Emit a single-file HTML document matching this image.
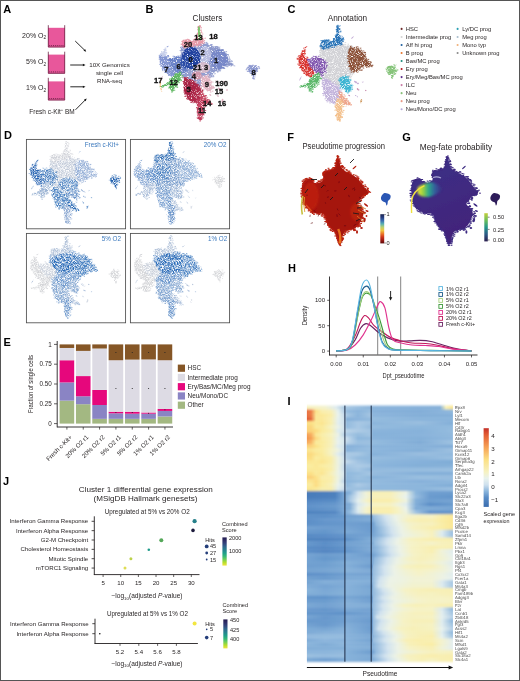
<!DOCTYPE html>
<html><head><meta charset="utf-8"><style>
html,body{margin:0;padding:0;background:#fff;}
body{width:520px;height:681px;position:relative;overflow:hidden;}
#fig{position:absolute;left:0;top:0;width:520px;height:681px;filter:blur(0.3px);}
#fig svg{display:block;}
#frame{position:absolute;left:0;top:0;width:518px;height:679px;border:1px solid #555;}
</style></head><body>
<div id="fig">
<svg width="520" height="681" viewBox="0 0 520 681" font-family="'Liberation Sans', sans-serif">
<rect x="0" y="0" width="520" height="681" fill="#fff"/>
<text x="3.30" y="12.70" font-size="11" text-anchor="start" font-weight="bold" fill="#000" >A</text>
<text x="145.50" y="13.20" font-size="11" text-anchor="start" font-weight="bold" fill="#000" >B</text>
<text x="287.60" y="13.40" font-size="11" text-anchor="start" font-weight="bold" fill="#000" >C</text>
<text x="4.00" y="138.80" font-size="11" text-anchor="start" font-weight="bold" fill="#000" >D</text>
<text x="287.20" y="140.60" font-size="11" text-anchor="start" font-weight="bold" fill="#000" >F</text>
<text x="402.20" y="141.20" font-size="11" text-anchor="start" font-weight="bold" fill="#000" >G</text>
<text x="288.00" y="271.80" font-size="11" text-anchor="start" font-weight="bold" fill="#000" >H</text>
<text x="3.60" y="345.60" font-size="11" text-anchor="start" font-weight="bold" fill="#000" >E</text>
<text x="287.50" y="405.20" font-size="11" text-anchor="start" font-weight="bold" fill="#000" >I</text>
<text x="3.00" y="484.50" font-size="11" text-anchor="start" font-weight="bold" fill="#000" >J</text>
<rect x="48" y="27.8" width="17" height="19.499999999999996" fill="#e8579b"/>
<path d="M48.3 25.2 V47.0 H64.7 V25.2" fill="none" stroke="#6b2645" stroke-width="0.8"/>
<rect x="49.20" y="45.10" width="1" height="1" fill="#7a2a50"/>
<rect x="51.10" y="45.10" width="1" height="1" fill="#7a2a50"/>
<rect x="53.00" y="45.10" width="1" height="1" fill="#7a2a50"/>
<rect x="54.90" y="45.10" width="1" height="1" fill="#7a2a50"/>
<rect x="56.80" y="45.10" width="1" height="1" fill="#7a2a50"/>
<rect x="58.70" y="45.10" width="1" height="1" fill="#7a2a50"/>
<rect x="60.60" y="45.10" width="1" height="1" fill="#7a2a50"/>
<rect x="62.50" y="45.10" width="1" height="1" fill="#7a2a50"/>
<rect x="48" y="54.6" width="17" height="18.999999999999993" fill="#e8579b"/>
<path d="M48.3 51.7 V73.3 H64.7 V51.7" fill="none" stroke="#6b2645" stroke-width="0.8"/>
<rect x="49.20" y="71.40" width="1" height="1" fill="#7a2a50"/>
<rect x="51.10" y="71.40" width="1" height="1" fill="#7a2a50"/>
<rect x="53.00" y="71.40" width="1" height="1" fill="#7a2a50"/>
<rect x="54.90" y="71.40" width="1" height="1" fill="#7a2a50"/>
<rect x="56.80" y="71.40" width="1" height="1" fill="#7a2a50"/>
<rect x="58.70" y="71.40" width="1" height="1" fill="#7a2a50"/>
<rect x="60.60" y="71.40" width="1" height="1" fill="#7a2a50"/>
<rect x="62.50" y="71.40" width="1" height="1" fill="#7a2a50"/>
<rect x="48" y="81.4" width="17" height="18.89999999999999" fill="#e8579b"/>
<path d="M48.3 77.8 V100.0 H64.7 V77.8" fill="none" stroke="#6b2645" stroke-width="0.8"/>
<rect x="49.20" y="98.10" width="1" height="1" fill="#7a2a50"/>
<rect x="51.10" y="98.10" width="1" height="1" fill="#7a2a50"/>
<rect x="53.00" y="98.10" width="1" height="1" fill="#7a2a50"/>
<rect x="54.90" y="98.10" width="1" height="1" fill="#7a2a50"/>
<rect x="56.80" y="98.10" width="1" height="1" fill="#7a2a50"/>
<rect x="58.70" y="98.10" width="1" height="1" fill="#7a2a50"/>
<rect x="60.60" y="98.10" width="1" height="1" fill="#7a2a50"/>
<rect x="62.50" y="98.10" width="1" height="1" fill="#7a2a50"/>
<text x="46.2" y="37.8" font-size="7.0" text-anchor="end" fill="#231f20">20% O<tspan font-size="4.8" dy="1.6">2</tspan></text>
<text x="46.2" y="64.2" font-size="7.0" text-anchor="end" fill="#231f20">5% O<tspan font-size="4.8" dy="1.6">2</tspan></text>
<text x="46.2" y="90.4" font-size="7.0" text-anchor="end" fill="#231f20">1% O<tspan font-size="4.8" dy="1.6">2</tspan></text>
<line x1="75.20" y1="41.00" x2="84.71" y2="50.25" stroke="#111" stroke-width="0.9"/>
<path d="M86.20 51.70 L85.15 49.05 L83.52 50.73Z" fill="#111"/>
<line x1="70.20" y1="65.00" x2="83.42" y2="65.00" stroke="#111" stroke-width="0.9"/>
<path d="M85.50 65.00 L82.90 63.83 L82.90 66.17Z" fill="#111"/>
<line x1="70.30" y1="86.80" x2="83.42" y2="86.80" stroke="#111" stroke-width="0.9"/>
<path d="M85.50 86.80 L82.90 85.63 L82.90 87.97Z" fill="#111"/>
<line x1="75.50" y1="109.80" x2="85.24" y2="99.98" stroke="#111" stroke-width="0.9"/>
<path d="M86.70 98.50 L84.04 99.52 L85.70 101.17Z" fill="#111"/>
<text x="109.50" y="67.20" font-size="6.2" text-anchor="middle" font-weight="normal" fill="#231f20" >10X Genomics</text>
<text x="109.50" y="74.90" font-size="6.2" text-anchor="middle" font-weight="normal" fill="#231f20" >single cell</text>
<text x="109.50" y="82.60" font-size="6.2" text-anchor="middle" font-weight="normal" fill="#231f20" >RNA-seq</text>
<text x="29.3" y="113.8" font-size="6.5" fill="#231f20">Fresh c-Kit<tspan font-size="4.2" dy="-2.5">+</tspan><tspan dy="2.5"> BM</tspan></text>
<text x="192.60" y="21.00" font-size="8.4" text-anchor="start" font-weight="normal" fill="#231f20" textLength="29.8" lengthAdjust="spacingAndGlyphs" >Clusters</text>
<text x="327.80" y="21.00" font-size="8.4" text-anchor="start" font-weight="normal" fill="#231f20" textLength="39.4" lengthAdjust="spacingAndGlyphs" >Annotation</text>
<text x="302.50" y="148.80" font-size="8.3" text-anchor="start" font-weight="normal" fill="#231f20" textLength="82.5" lengthAdjust="spacingAndGlyphs" >Pseudotime progression</text>
<text x="419.80" y="149.70" font-size="8.4" text-anchor="start" font-weight="normal" fill="#231f20" textLength="72.3" lengthAdjust="spacingAndGlyphs" >Meg-fate probability</text>
<defs><filter id="ublur" x="-10%" y="-10%" width="120%" height="120%">
<feTurbulence type="fractalNoise" baseFrequency="1.1" numOctaves="2" seed="4" result="n"/>
<feColorMatrix in="n" type="matrix" values="0 0 0 0 0  0 0 0 0 0  0 0 0 0 0  0 0 0 3.4 -0.75" result="na"/>
<feComposite in="SourceGraphic" in2="na" operator="in" result="sp"/>
<feGaussianBlur in="sp" stdDeviation="0.3"/>
</filter>
<filter id="usparse" x="-10%" y="-10%" width="120%" height="120%">
<feTurbulence type="fractalNoise" baseFrequency="1.25" numOctaves="2" seed="11" result="n"/>
<feColorMatrix in="n" type="matrix" values="0 0 0 0 0  0 0 0 0 0  0 0 0 0 0  0 0 0 2.4 -0.6" result="na"/>
<feComposite in="SourceGraphic" in2="na" operator="in" result="sp"/>
<feGaussianBlur in="sp" stdDeviation="0.28"/>
</filter>
<filter id="umid" x="-10%" y="-10%" width="120%" height="120%">
<feTurbulence type="fractalNoise" baseFrequency="1.2" numOctaves="2" seed="5" result="n"/>
<feColorMatrix in="n" type="matrix" values="0 0 0 0 0  0 0 0 0 0  0 0 0 0 0  0 0 0 4.5 -1.0" result="na"/>
<feComposite in="SourceGraphic" in2="na" operator="in" result="sp"/>
<feGaussianBlur in="sp" stdDeviation="0.3"/>
</filter>
<filter id="udense" x="-10%" y="-10%" width="120%" height="120%"><feGaussianBlur stdDeviation="0.35"/></filter></defs>
<g filter="url(#ublur)">
<path d="M322.00 45.50 C323.83 44.58 328.33 44.83 331.00 44.50 C333.67 44.17 335.67 43.50 338.00 43.50 C340.33 43.50 342.83 43.92 345.00 44.50 C347.17 45.08 349.50 45.75 351.00 47.00 C352.50 48.25 353.67 49.83 354.00 52.00 C354.33 54.17 353.17 57.33 353.00 60.00 C352.83 62.67 353.17 65.67 353.00 68.00 C352.83 70.33 352.67 72.33 352.00 74.00 C351.33 75.67 350.00 77.00 349.00 78.00 C348.00 79.00 347.17 79.00 346.00 80.00 C344.83 81.00 343.33 82.83 342.00 84.00 C340.67 85.17 339.50 86.67 338.00 87.00 C336.50 87.33 334.67 86.67 333.00 86.00 C331.33 85.33 329.58 83.92 328.00 83.00 C326.42 82.08 324.67 81.83 323.50 80.50 C322.33 79.17 321.42 77.42 321.00 75.00 C320.58 72.58 321.17 68.83 321.00 66.00 C320.83 63.17 320.17 60.67 320.00 58.00 C319.83 55.33 319.67 52.08 320.00 50.00 C320.33 47.92 320.17 46.42 322.00 45.50Z" fill="#d2d2d6"/>
<path d="M326.5 44.4h0.9M324.4 44.3h0.9M325.3 45.2h0.9M329.9 43.6h0.9M326.3 45.3h0.9M323.7 44.4h0.9M327.3 43.6h0.9M328.4 44.6h0.9M322.0 45.3h0.9M329.0 42.8h0.9M325.2 45.8h0.9M335.4 44.5h0.9M333.8 44.2h0.9M335.9 43.0h0.9M337.4 43.3h0.9M337.6 44.4h0.9M336.9 43.7h0.9M335.6 42.8h0.9M335.9 44.3h0.9M342.0 43.6h0.9M339.6 43.9h0.9M344.9 42.6h0.9M342.0 44.1h0.9M341.1 44.3h0.9M341.6 42.8h0.9M342.8 43.3h0.9M338.8 43.6h0.9M346.1 45.5h0.9M345.3 44.9h0.9M350.4 45.8h0.9M347.4 46.1h0.9M349.7 45.7h0.9M347.7 44.2h0.9M350.4 46.7h0.9M349.7 46.4h0.9M351.7 47.0h0.9M352.1 49.9h0.9M352.4 49.6h0.9M351.1 47.5h0.9M351.9 46.3h0.9M352.5 49.4h0.9M352.6 48.1h0.9M354.6 55.9h0.9M353.5 56.3h0.9M354.1 54.9h0.9M352.0 59.3h0.9M354.1 53.0h0.9M353.5 60.2h0.9M354.0 56.3h0.9M354.0 55.4h0.9M353.6 52.8h0.9M353.2 57.8h0.9M354.5 62.5h0.9M355.0 63.7h0.9M352.6 64.9h0.9M352.4 64.7h0.9M354.0 65.1h0.9M352.3 59.8h0.9M353.0 62.0h0.9M353.1 62.0h0.9M352.9 61.2h0.9M352.6 65.5h0.9M352.5 74.3h0.9M353.2 73.1h0.9M352.0 70.4h0.9M351.8 72.9h0.9M353.1 69.1h0.9M352.6 70.5h0.9M353.1 73.9h0.9M348.6 76.8h0.9M351.5 74.9h0.9M350.2 77.9h0.9M351.0 76.3h0.9M349.6 77.0h0.9M350.8 74.6h0.9M348.7 79.8h0.9M346.1 79.2h0.9M347.2 81.0h0.9M348.3 79.3h0.9M345.6 82.4h0.9M342.1 85.1h0.9M344.7 82.9h0.9M346.2 81.4h0.9M344.3 83.8h0.9M341.6 83.3h0.9M344.9 80.0h0.9M340.4 85.1h0.9M338.9 85.9h0.9M340.8 84.3h0.9M341.7 85.6h0.9M341.6 83.6h0.9M342.2 84.9h0.9M335.3 86.7h0.9M334.4 87.6h0.9M332.9 85.4h0.9M335.6 87.6h0.9M336.0 87.3h0.9M336.6 86.7h0.9M331.5 86.9h0.9M331.3 86.6h0.9M329.3 84.2h0.9M328.8 82.6h0.9M330.4 84.4h0.9M333.2 85.5h0.9M332.7 84.8h0.9M323.0 80.8h0.9M324.7 82.4h0.9M325.3 81.6h0.9M325.3 82.2h0.9M328.5 82.4h0.9M323.7 80.4h0.9M321.4 79.8h0.9M321.9 76.1h0.9M321.0 75.9h0.9M323.3 78.3h0.9M321.6 77.2h0.9M321.3 79.0h0.9M322.8 79.6h0.9M321.3 67.9h0.9M321.2 71.0h0.9M321.1 68.4h0.9M322.1 65.6h0.9M321.1 70.9h0.9M320.9 72.6h0.9M321.5 70.7h0.9M319.2 70.3h0.9M320.1 72.3h0.9M321.1 68.0h0.9M320.1 70.6h0.9M321.5 65.5h0.9M319.4 63.1h0.9M319.2 64.8h0.9M321.2 61.9h0.9M321.7 64.9h0.9M319.2 62.8h0.9M319.9 62.8h0.9M319.8 64.7h0.9M320.0 63.8h0.9M320.9 63.9h0.9M320.6 56.7h0.9M319.9 56.0h0.9M319.4 54.1h0.9M320.1 51.1h0.9M320.4 55.7h0.9M321.0 53.7h0.9M320.0 57.7h0.9M319.8 52.4h0.9M319.8 53.9h0.9M319.4 50.7h0.9M321.0 45.9h0.9M321.7 47.4h0.9M321.7 46.7h0.9M320.0 47.6h0.9M320.7 46.6h0.9M320.7 50.0h0.9" stroke="#d2d2d6" stroke-width="0.9" stroke-linecap="round"/>
<path d="M321.90 41.20 C322.77 40.33 324.48 39.73 326.00 39.80 C327.52 39.87 329.58 41.82 331.00 41.60 C332.42 41.38 333.57 39.93 334.50 38.50 C335.43 37.07 336.28 34.83 336.60 33.00 C336.92 31.17 336.23 28.63 336.40 27.50 C336.57 26.37 337.20 26.20 337.60 26.20 C338.00 26.20 338.57 26.37 338.80 27.50 C339.03 28.63 338.80 31.45 339.00 33.00 C339.20 34.55 339.47 35.83 340.00 36.80 C340.53 37.77 341.90 37.73 342.20 38.80 C342.50 39.87 342.67 42.07 341.80 43.20 C340.93 44.33 338.80 45.10 337.00 45.60 C335.20 46.10 332.83 45.77 331.00 46.20 C329.17 46.63 327.42 47.83 326.00 48.20 C324.58 48.57 323.37 48.93 322.50 48.40 C321.63 47.87 320.90 46.20 320.80 45.00 C320.70 43.80 321.03 42.07 321.90 41.20Z" fill="#2a74b8"/>
<path d="M324.6 40.2h0.9M323.2 40.3h0.9M321.3 41.6h0.9M320.7 40.9h0.9M322.7 41.1h0.9M330.4 42.0h0.9M327.1 40.6h0.9M328.1 40.7h0.9M325.9 39.8h0.9M328.9 40.3h0.9M327.9 39.9h0.9M333.3 38.5h0.9M334.4 38.7h0.9M333.7 39.4h0.9M333.4 39.8h0.9M332.0 41.6h0.9M336.1 34.5h0.9M335.9 35.3h0.9M337.0 34.1h0.9M337.1 31.9h0.9M335.4 37.3h0.9M334.8 36.2h0.9M335.3 36.4h0.9M337.0 31.6h0.9M336.8 31.3h0.9M336.9 28.5h0.9M336.4 26.3h0.9M336.1 29.7h0.9M337.0 29.5h0.9M336.5 26.1h0.9M337.5 25.3h0.9M339.7 26.0h0.9M338.4 26.3h0.9M338.7 32.5h0.9M339.7 32.1h0.9M340.2 31.2h0.9M338.9 29.4h0.9M338.8 29.5h0.9M339.4 28.7h0.9M341.3 36.3h0.9M339.2 37.2h0.9M339.5 35.6h0.9M339.9 32.4h0.9M342.8 37.9h0.9M340.7 36.7h0.9M342.7 38.5h0.9M343.1 39.8h0.9M342.5 41.6h0.9M342.1 40.8h0.9M342.5 39.4h0.9M342.3 39.0h0.9M337.9 45.0h0.9M341.1 44.1h0.9M340.9 44.6h0.9M340.0 45.0h0.9M341.7 43.7h0.9M339.4 44.2h0.9M335.5 45.6h0.9M334.0 47.3h0.9M335.9 45.1h0.9M331.7 47.4h0.9M332.5 45.6h0.9M333.2 46.1h0.9M335.3 45.8h0.9M327.5 47.6h0.9M330.2 46.6h0.9M326.1 49.0h0.9M328.0 48.1h0.9M330.3 45.6h0.9M328.8 47.8h0.9M322.8 48.2h0.9M325.5 47.9h0.9M323.0 49.3h0.9M323.7 48.2h0.9M319.7 46.4h0.9M321.1 48.0h0.9M322.5 48.1h0.9M320.0 45.6h0.9M321.9 42.6h0.9M320.7 43.9h0.9M321.0 44.4h0.9M321.9 40.8h0.9" stroke="#2a74b8" stroke-width="0.9" stroke-linecap="round"/>
<path d="M349.20 48.60 C350.00 47.52 351.70 47.57 353.00 47.50 C354.30 47.43 355.67 47.70 357.00 48.20 C358.33 48.70 359.83 49.53 361.00 50.50 C362.17 51.47 363.00 52.50 364.00 54.00 C365.00 55.50 366.08 58.08 367.00 59.50 C367.92 60.92 368.75 61.45 369.50 62.50 C370.25 63.55 371.92 65.22 371.50 65.80 C371.08 66.38 368.42 65.87 367.00 66.00 C365.58 66.13 364.25 66.02 363.00 66.60 C361.75 67.18 360.67 68.68 359.50 69.50 C358.33 70.32 357.25 71.25 356.00 71.50 C354.75 71.75 353.08 71.75 352.00 71.00 C350.92 70.25 350.08 68.67 349.50 67.00 C348.92 65.33 348.72 63.17 348.50 61.00 C348.28 58.83 348.08 56.07 348.20 54.00 C348.32 51.93 348.40 49.68 349.20 48.60Z" fill="#8c5138"/>
<path d="M350.6 47.9h0.9M350.7 46.8h0.9M350.2 46.9h0.9M350.5 46.3h0.9M356.1 47.9h0.9M356.8 47.4h0.9M355.8 47.0h0.9M353.4 47.5h0.9M354.2 47.8h0.9M357.7 48.3h0.9M360.1 48.2h0.9M360.4 51.0h0.9M360.6 50.2h0.9M357.4 46.9h0.9M364.1 52.4h0.9M362.9 50.9h0.9M361.1 51.4h0.9M363.8 52.3h0.9M364.5 52.8h0.9M364.1 55.7h0.9M365.4 56.9h0.9M365.8 58.9h0.9M367.9 59.4h0.9M364.4 56.1h0.9M364.7 52.8h0.9M364.9 54.4h0.9M368.8 61.7h0.9M370.0 61.6h0.9M367.6 61.3h0.9M366.4 59.1h0.9M370.2 63.9h0.9M372.1 65.2h0.9M370.5 62.6h0.9M371.4 65.6h0.9M371.6 66.7h0.9M369.9 65.8h0.9M368.2 66.0h0.9M368.6 66.8h0.9M370.9 66.1h0.9M365.5 66.2h0.9M365.8 65.9h0.9M366.4 67.3h0.9M367.5 67.1h0.9M368.0 66.7h0.9M361.1 70.0h0.9M362.1 67.2h0.9M361.2 70.0h0.9M362.9 68.2h0.9M359.4 70.2h0.9M358.8 68.6h0.9M357.0 72.2h0.9M356.8 71.2h0.9M357.1 71.4h0.9M355.8 71.3h0.9M353.2 71.1h0.9M353.5 72.2h0.9M353.9 71.3h0.9M354.3 70.7h0.9M356.3 71.2h0.9M351.1 70.7h0.9M350.7 66.7h0.9M350.9 69.0h0.9M351.1 72.1h0.9M349.7 69.1h0.9M348.6 66.3h0.9M347.8 61.8h0.9M348.0 62.9h0.9M348.4 61.7h0.9M349.0 66.5h0.9M349.5 63.9h0.9M348.9 61.7h0.9M347.8 55.6h0.9M347.8 55.2h0.9M347.6 56.7h0.9M348.5 58.8h0.9M348.8 57.7h0.9M349.1 58.0h0.9M348.7 55.5h0.9M347.2 58.5h0.9M348.9 53.4h0.9M349.0 52.2h0.9M348.2 52.0h0.9M349.5 49.3h0.9M349.2 49.6h0.9M348.3 52.4h0.9" stroke="#8c5138" stroke-width="0.9" stroke-linecap="round"/>
<path d="M302.60 51.20 C303.27 50.47 304.37 49.37 304.60 49.60 C304.83 49.83 303.97 51.62 304.00 52.60 C304.03 53.58 304.22 54.27 304.80 55.50 C305.38 56.73 306.38 58.25 307.50 60.00 C308.62 61.75 310.25 64.25 311.50 66.00 C312.75 67.75 314.67 69.00 315.00 70.50 C315.33 72.00 314.08 73.92 313.50 75.00 C312.92 76.08 312.67 77.08 311.50 77.00 C310.33 76.92 308.08 75.75 306.50 74.50 C304.92 73.25 303.28 71.42 302.00 69.50 C300.72 67.58 299.37 65.08 298.80 63.00 C298.23 60.92 298.30 58.50 298.60 57.00 C298.90 55.50 299.93 54.97 300.60 54.00 C301.27 53.03 301.93 51.93 302.60 51.20Z" fill="#d8322e"/>
<path d="M304.3 49.1h0.9M303.7 48.2h0.9M302.9 50.9h0.9M304.2 51.4h0.9M304.1 50.7h0.9M304.8 50.2h0.9M303.8 52.2h0.9M304.7 53.8h0.9M304.2 53.2h0.9M307.7 59.4h0.9M307.1 57.8h0.9M306.7 59.7h0.9M307.4 59.9h0.9M306.0 58.5h0.9M306.5 57.2h0.9M310.2 64.6h0.9M310.4 64.6h0.9M308.7 63.0h0.9M311.9 65.3h0.9M310.8 64.2h0.9M308.7 63.2h0.9M308.5 63.0h0.9M310.4 64.2h0.9M308.8 62.2h0.9M314.1 69.0h0.9M312.7 66.4h0.9M313.7 68.6h0.9M314.5 69.3h0.9M310.9 66.1h0.9M313.2 68.9h0.9M312.6 66.7h0.9M314.6 72.2h0.9M315.6 72.1h0.9M314.9 74.8h0.9M315.3 74.4h0.9M314.1 72.1h0.9M311.7 76.8h0.9M313.6 76.3h0.9M312.0 77.0h0.9M308.2 75.8h0.9M309.2 76.0h0.9M308.4 74.5h0.9M310.8 76.3h0.9M310.1 76.9h0.9M310.9 76.6h0.9M303.8 72.8h0.9M305.6 74.4h0.9M304.4 71.3h0.9M305.7 74.0h0.9M303.0 71.1h0.9M306.2 75.6h0.9M303.8 73.5h0.9M302.0 70.6h0.9M299.6 67.8h0.9M298.7 65.3h0.9M301.5 68.1h0.9M301.7 70.2h0.9M297.7 64.1h0.9M300.2 67.0h0.9M300.1 67.2h0.9M301.5 69.3h0.9M300.1 67.3h0.9M297.6 59.0h0.9M297.0 59.0h0.9M299.5 62.7h0.9M298.9 60.0h0.9M299.3 57.7h0.9M298.1 56.9h0.9M297.2 58.2h0.9M300.4 56.5h0.9M298.5 55.9h0.9M300.2 56.6h0.9M300.5 54.2h0.9M301.8 51.9h0.9M302.2 51.7h0.9M302.1 51.1h0.9M301.7 51.2h0.9" stroke="#d8322e" stroke-width="0.9" stroke-linecap="round"/>
<path d="M308.00 60.00 C308.17 58.62 310.67 58.60 312.00 58.20 C313.33 57.80 314.50 57.55 316.00 57.60 C317.50 57.65 319.47 57.85 321.00 58.50 C322.53 59.15 324.37 60.25 325.20 61.50 C326.03 62.75 326.03 64.42 326.00 66.00 C325.97 67.58 325.75 69.58 325.00 71.00 C324.25 72.42 322.67 73.87 321.50 74.50 C320.33 75.13 319.17 75.35 318.00 74.80 C316.83 74.25 315.67 72.58 314.50 71.20 C313.33 69.82 312.08 68.37 311.00 66.50 C309.92 64.63 307.83 61.38 308.00 60.00Z" fill="#8258b0"/>
<path d="M307.5 59.3h0.9M311.8 57.7h0.9M308.0 59.5h0.9M309.2 59.6h0.9M310.1 59.6h0.9M315.9 58.0h0.9M314.7 57.9h0.9M315.7 57.9h0.9M314.8 56.6h0.9M313.1 56.3h0.9M319.5 58.6h0.9M316.6 58.6h0.9M316.3 56.5h0.9M317.5 58.9h0.9M318.2 56.3h0.9M315.9 56.4h0.9M322.6 59.9h0.9M324.9 61.1h0.9M321.0 58.8h0.9M323.7 59.6h0.9M324.0 61.0h0.9M324.0 60.5h0.9M325.9 65.8h0.9M324.8 62.8h0.9M326.7 62.8h0.9M325.3 62.7h0.9M326.5 65.3h0.9M325.5 66.8h0.9M325.2 67.9h0.9M325.6 66.1h0.9M325.2 67.3h0.9M325.6 71.0h0.9M324.4 70.6h0.9M325.2 72.3h0.9M322.5 75.4h0.9M323.6 72.3h0.9M324.4 71.4h0.9M322.2 74.8h0.9M325.6 72.6h0.9M321.1 76.0h0.9M320.4 74.8h0.9M321.0 74.2h0.9M320.9 74.2h0.9M315.5 74.5h0.9M316.1 71.8h0.9M316.5 73.7h0.9M315.8 71.5h0.9M315.8 74.6h0.9M316.5 74.2h0.9M310.5 66.7h0.9M312.1 66.9h0.9M311.0 68.1h0.9M312.2 69.1h0.9M312.1 67.7h0.9M314.1 71.6h0.9M313.6 70.5h0.9M309.3 63.9h0.9M307.5 60.5h0.9M308.1 63.0h0.9M309.2 64.8h0.9M310.8 66.0h0.9M309.9 66.1h0.9M309.8 66.3h0.9M307.1 59.4h0.9" stroke="#8258b0" stroke-width="0.9" stroke-linecap="round"/>
<path d="M310.20 78.60 C311.13 77.52 312.67 76.40 314.00 75.50 C315.33 74.60 317.20 73.03 318.20 73.20 C319.20 73.37 319.87 75.37 320.00 76.50 C320.13 77.63 319.58 78.75 319.00 80.00 C318.42 81.25 317.42 82.67 316.50 84.00 C315.58 85.33 314.48 86.77 313.50 88.00 C312.52 89.23 311.43 91.32 310.60 91.40 C309.77 91.48 308.90 89.65 308.50 88.50 C308.10 87.35 308.62 84.92 308.20 84.50 C307.78 84.08 307.28 85.58 306.00 86.00 C304.72 86.42 301.57 86.92 300.50 87.00 C299.43 87.08 298.85 86.80 299.60 86.50 C300.35 86.20 303.53 85.95 305.00 85.20 C306.47 84.45 307.53 83.10 308.40 82.00 C309.27 80.90 309.27 79.68 310.20 78.60Z" fill="#5cb86a"/>
<path d="M312.7 77.4h0.9M312.4 76.0h0.9M310.6 77.7h0.9M313.6 75.5h0.9M310.1 79.5h0.9M312.7 76.1h0.9M317.8 73.5h0.9M317.7 73.3h0.9M315.9 74.6h0.9M314.7 74.7h0.9M317.9 72.9h0.9M317.9 74.1h0.9M319.3 74.2h0.9M317.8 73.9h0.9M318.8 73.9h0.9M319.9 78.5h0.9M320.1 78.8h0.9M320.7 78.4h0.9M320.0 77.7h0.9M316.3 83.2h0.9M319.0 80.8h0.9M318.2 82.9h0.9M317.8 82.9h0.9M318.3 82.1h0.9M316.7 85.2h0.9M315.9 85.8h0.9M314.2 87.5h0.9M317.5 84.6h0.9M315.8 87.0h0.9M318.2 84.3h0.9M311.9 91.4h0.9M312.6 89.1h0.9M311.8 91.9h0.9M312.0 88.5h0.9M311.2 92.2h0.9M309.1 89.3h0.9M309.5 90.8h0.9M308.9 90.9h0.9M310.8 91.5h0.9M308.0 88.2h0.9M308.4 86.5h0.9M307.6 85.2h0.9M308.6 87.1h0.9M307.7 87.4h0.9M306.3 85.7h0.9M306.3 85.3h0.9M307.6 84.8h0.9M301.5 86.8h0.9M303.5 86.3h0.9M303.8 86.0h0.9M305.2 86.2h0.9M300.1 87.3h0.9M304.6 87.0h0.9M300.6 86.2h0.9M300.9 86.1h0.9M303.9 86.0h0.9M301.0 85.9h0.9M304.0 86.0h0.9M302.8 85.4h0.9M302.4 86.4h0.9M306.2 84.4h0.9M306.6 83.6h0.9M306.2 84.0h0.9M305.7 84.5h0.9M304.3 84.2h0.9M310.1 77.7h0.9M309.5 80.0h0.9M309.1 81.0h0.9M309.5 80.2h0.9" stroke="#5cb86a" stroke-width="0.9" stroke-linecap="round"/>
<path d="M323.20 78.60 C323.98 77.63 326.03 79.55 327.50 80.20 C328.97 80.85 330.58 81.70 332.00 82.50 C333.42 83.30 334.75 83.83 336.00 85.00 C337.25 86.17 338.80 88.00 339.50 89.50 C340.20 91.00 340.20 92.42 340.20 94.00 C340.20 95.58 340.03 97.58 339.50 99.00 C338.97 100.42 338.08 101.87 337.00 102.50 C335.92 103.13 334.33 102.95 333.00 102.80 C331.67 102.65 330.17 102.33 329.00 101.60 C327.83 100.87 326.80 99.75 326.00 98.40 C325.20 97.05 324.73 95.57 324.20 93.50 C323.67 91.43 322.97 88.48 322.80 86.00 C322.63 83.52 322.42 79.57 323.20 78.60Z" fill="#c3b4dc"/>
<path d="M326.8 79.9h0.9M325.8 78.7h0.9M323.0 77.9h0.9M324.4 79.4h0.9M326.8 80.1h0.9M328.3 80.3h0.9M329.6 82.0h0.9M329.2 81.2h0.9M329.5 81.8h0.9M330.1 81.4h0.9M327.1 79.1h0.9M333.8 82.0h0.9M334.8 84.5h0.9M335.1 82.2h0.9M335.2 85.3h0.9M333.6 84.6h0.9M340.2 87.8h0.9M338.5 87.5h0.9M336.0 85.0h0.9M338.8 87.8h0.9M338.0 85.5h0.9M339.2 88.9h0.9M338.2 86.5h0.9M340.2 91.1h0.9M341.3 92.3h0.9M340.4 92.8h0.9M339.4 92.4h0.9M340.9 90.0h0.9M339.9 95.8h0.9M340.8 96.0h0.9M339.2 97.5h0.9M339.5 96.1h0.9M340.3 98.9h0.9M340.9 97.9h0.9M338.3 99.9h0.9M338.2 99.6h0.9M339.0 101.4h0.9M338.6 99.4h0.9M337.9 101.1h0.9M334.2 103.9h0.9M334.9 102.3h0.9M333.5 102.7h0.9M334.0 103.1h0.9M336.0 103.7h0.9M332.8 103.2h0.9M331.8 101.7h0.9M330.7 101.4h0.9M331.4 102.5h0.9M329.6 102.9h0.9M326.6 99.9h0.9M326.1 100.5h0.9M327.9 100.0h0.9M327.0 101.8h0.9M327.4 98.5h0.9M324.1 95.9h0.9M324.5 93.7h0.9M325.9 95.7h0.9M323.4 94.7h0.9M324.8 98.8h0.9M323.1 95.6h0.9M323.5 91.8h0.9M322.4 93.6h0.9M323.6 93.4h0.9M323.4 93.5h0.9M322.0 86.5h0.9M323.1 89.0h0.9M323.8 88.3h0.9M322.8 86.0h0.9M323.4 89.2h0.9M322.2 83.7h0.9M322.1 77.6h0.9M322.7 81.7h0.9M322.1 83.9h0.9M321.8 80.4h0.9M322.7 80.9h0.9M323.1 84.8h0.9M323.1 82.8h0.9M322.0 82.2h0.9" stroke="#c3b4dc" stroke-width="0.9" stroke-linecap="round"/>
<path d="M340.00 78.80 C340.53 77.88 342.00 77.40 343.00 77.00 C344.00 76.60 345.08 76.07 346.00 76.40 C346.92 76.73 347.83 77.90 348.50 79.00 C349.17 80.10 349.58 81.58 350.00 83.00 C350.42 84.42 350.92 86.20 351.00 87.50 C351.08 88.80 351.17 90.15 350.50 90.80 C349.83 91.45 348.08 91.62 347.00 91.40 C345.92 91.18 345.00 90.32 344.00 89.50 C343.00 88.68 341.70 87.67 341.00 86.50 C340.30 85.33 339.97 83.78 339.80 82.50 C339.63 81.22 339.47 79.72 340.00 78.80Z" fill="#3cb4d2"/>
<path d="M342.4 77.3h0.9M340.1 79.2h0.9M339.3 78.2h0.9M340.6 77.5h0.9M345.6 76.4h0.9M342.6 76.6h0.9M345.7 75.3h0.9M346.6 77.0h0.9M347.0 78.3h0.9M347.6 78.0h0.9M348.0 76.7h0.9M348.2 79.9h0.9M350.0 80.2h0.9M348.9 82.0h0.9M350.0 79.9h0.9M349.4 82.2h0.9M351.6 85.9h0.9M351.2 85.5h0.9M351.2 83.9h0.9M350.7 85.9h0.9M352.0 85.4h0.9M351.3 87.8h0.9M350.7 91.4h0.9M351.6 89.7h0.9M351.8 89.1h0.9M347.4 92.9h0.9M348.4 91.2h0.9M348.3 91.8h0.9M347.1 91.6h0.9M346.2 91.8h0.9M345.5 91.3h0.9M346.3 91.7h0.9M345.0 91.1h0.9M341.9 88.7h0.9M339.8 88.0h0.9M342.6 87.6h0.9M344.2 89.2h0.9M344.6 88.7h0.9M340.3 83.6h0.9M340.2 84.5h0.9M340.4 83.8h0.9M341.2 84.5h0.9M340.7 86.9h0.9M340.0 81.4h0.9M339.1 80.3h0.9M341.0 82.6h0.9M338.5 80.1h0.9" stroke="#3cb4d2" stroke-width="0.9" stroke-linecap="round"/>
<path d="M339.60 92.60 C340.23 92.43 341.93 94.35 343.00 95.50 C344.07 96.65 344.73 98.00 346.00 99.50 C347.27 101.00 350.43 103.65 350.60 104.50 C350.77 105.35 348.17 104.75 347.00 104.60 C345.83 104.45 344.68 104.28 343.60 103.60 C342.52 102.92 341.23 101.68 340.50 100.50 C339.77 99.32 339.35 97.82 339.20 96.50 C339.05 95.18 338.97 92.77 339.60 92.60Z" fill="#eea58c"/>
<path d="M341.5 92.6h0.9M340.9 94.2h0.9M341.8 93.0h0.9M339.0 91.2h0.9M342.7 94.8h0.9M343.5 94.7h0.9M344.6 96.0h0.9M345.8 99.0h0.9M346.4 98.7h0.9M344.3 98.5h0.9M344.9 99.1h0.9M347.5 100.6h0.9M350.5 105.0h0.9M346.5 100.1h0.9M349.3 102.6h0.9M348.8 102.6h0.9M349.7 103.8h0.9M348.0 101.7h0.9M349.7 103.2h0.9M349.6 103.8h0.9M348.3 105.0h0.9M349.2 104.3h0.9M350.6 104.5h0.9M344.3 104.3h0.9M346.1 104.3h0.9M345.4 105.9h0.9M344.9 103.7h0.9M340.5 100.8h0.9M343.0 104.4h0.9M340.8 101.5h0.9M341.2 103.5h0.9M341.3 102.0h0.9M340.1 98.9h0.9M339.2 96.8h0.9M340.5 98.7h0.9M338.9 100.3h0.9M340.4 98.2h0.9M337.8 95.3h0.9M339.3 92.2h0.9M339.1 95.5h0.9M338.9 92.6h0.9" stroke="#eea58c" stroke-width="0.9" stroke-linecap="round"/>
<path d="M336.50 100.50 C337.12 99.00 338.58 99.17 339.50 99.50 C340.42 99.83 341.50 101.32 342.00 102.50 C342.50 103.68 342.53 105.27 342.50 106.60 C342.47 107.93 341.95 109.18 341.80 110.50 C341.65 111.82 341.80 113.17 341.60 114.50 C341.40 115.83 340.93 117.48 340.60 118.50 C340.27 119.52 340.13 120.42 339.60 120.60 C339.07 120.78 337.97 120.37 337.40 119.60 C336.83 118.83 336.37 117.27 336.20 116.00 C336.03 114.73 336.47 113.25 336.40 112.00 C336.33 110.75 335.78 110.42 335.80 108.50 C335.82 106.58 335.88 102.00 336.50 100.50Z" fill="#f3c08c"/>
<path d="M336.9 99.1h0.9M337.1 98.5h0.9M338.4 99.3h0.9M341.0 101.0h0.9M341.4 99.6h0.9M340.9 101.5h0.9M340.3 100.3h0.9M343.1 106.4h0.9M342.7 101.8h0.9M342.3 103.3h0.9M342.8 104.3h0.9M342.2 103.5h0.9M341.2 110.0h0.9M342.8 107.0h0.9M341.2 110.5h0.9M343.2 110.4h0.9M342.5 112.2h0.9M341.7 111.4h0.9M341.8 112.1h0.9M342.1 114.4h0.9M341.9 111.5h0.9M341.6 117.3h0.9M341.3 117.4h0.9M340.7 117.8h0.9M341.3 117.3h0.9M341.4 116.7h0.9M339.6 120.0h0.9M339.6 121.0h0.9M339.4 119.7h0.9M339.2 121.1h0.9M339.3 120.5h0.9M337.2 120.1h0.9M336.6 115.6h0.9M337.0 118.9h0.9M337.1 119.9h0.9M335.1 115.5h0.9M336.2 116.0h0.9M335.9 116.1h0.9M336.3 114.5h0.9M336.2 115.3h0.9M334.7 110.1h0.9M336.3 112.0h0.9M336.4 110.7h0.9M336.1 109.7h0.9M336.3 101.5h0.9M336.6 102.8h0.9M336.5 101.4h0.9M334.8 105.7h0.9M335.6 107.5h0.9M335.6 104.1h0.9M334.8 106.5h0.9M336.5 102.6h0.9M335.1 107.0h0.9M335.6 102.3h0.9" stroke="#f3c08c" stroke-width="0.9" stroke-linecap="round"/>
<path d="M387.00 67.60 C387.57 66.70 388.92 66.02 390.00 65.80 C391.08 65.58 392.47 65.90 393.50 66.30 C394.53 66.70 395.85 67.33 396.20 68.20 C396.55 69.07 396.00 70.62 395.60 71.50 C395.20 72.38 394.25 72.67 393.80 73.50 C393.35 74.33 393.18 75.65 392.90 76.50 C392.62 77.35 392.38 78.82 392.10 78.60 C391.82 78.38 391.72 76.03 391.20 75.20 C390.68 74.37 389.77 74.27 389.00 73.60 C388.23 72.93 386.93 72.20 386.60 71.20 C386.27 70.20 386.43 68.50 387.00 67.60Z" fill="#86c47a"/>
<path d="M387.6 66.5h0.9M388.9 67.8h0.9M389.1 66.6h0.9M389.2 67.1h0.9M390.1 66.3h0.9M393.1 66.8h0.9M391.9 65.9h0.9M393.5 65.0h0.9M393.7 67.4h0.9M395.0 64.8h0.9M394.3 64.9h0.9M394.2 66.3h0.9M394.6 70.7h0.9M395.2 70.8h0.9M396.3 70.8h0.9M397.1 69.9h0.9M395.7 71.7h0.9M394.1 73.1h0.9M395.1 73.6h0.9M394.6 74.3h0.9M392.7 75.0h0.9M394.1 74.4h0.9M391.8 77.8h0.9M392.4 76.3h0.9M391.7 78.2h0.9M391.5 77.5h0.9M391.3 75.6h0.9M391.6 77.4h0.9M388.8 74.4h0.9M388.9 74.6h0.9M390.7 74.3h0.9M387.5 72.0h0.9M386.6 71.2h0.9M388.5 73.1h0.9M387.8 73.1h0.9M386.5 67.9h0.9M385.8 69.0h0.9M386.8 69.8h0.9M387.7 68.5h0.9" stroke="#86c47a" stroke-width="0.9" stroke-linecap="round"/>
<ellipse cx="356.50" cy="82.60" rx="3.00" ry="0.90" transform="rotate(30 356.50 82.60)" fill="#c8b2d8"/>
<ellipse cx="358.00" cy="89.30" rx="1.60" ry="0.80" transform="rotate(35 358.00 89.30)" fill="#c890b0"/>
<ellipse cx="356.50" cy="96.20" rx="1.50" ry="0.70" transform="rotate(40 356.50 96.20)" fill="#a88cc8"/>
<ellipse cx="361.20" cy="101.20" rx="0.90" ry="2.20" transform="rotate(10 361.20 101.20)" fill="#d09a60"/>
<ellipse cx="362.70" cy="82.00" rx="0.90" ry="0.80" transform="rotate(0 362.70 82.00)" fill="#c8b2d8"/>
<ellipse cx="365.80" cy="90.50" rx="0.80" ry="0.70" transform="rotate(0 365.80 90.50)" fill="#c890b0"/>
<ellipse cx="369.30" cy="64.60" rx="2.20" ry="0.70" transform="rotate(30 369.30 64.60)" fill="#8c5138"/>
<ellipse cx="349.20" cy="95.50" rx="1.20" ry="0.60" transform="rotate(30 349.20 95.50)" fill="#c890b0"/>
<ellipse cx="300.50" cy="78.50" rx="2.50" ry="0.50" transform="rotate(-60 300.50 78.50)" fill="#c8b2d8"/>
<ellipse cx="306.00" cy="47.20" rx="1.50" ry="0.50" transform="rotate(-30 306.00 47.20)" fill="#d8322e"/>
<ellipse cx="352.50" cy="37.50" rx="1.80" ry="0.50" transform="rotate(-40 352.50 37.50)" fill="#c8b2d8"/>
</g>
<circle cx="401.6" cy="28.90" r="1.05" fill="#6e2b2b"/>
<text x="405.80" y="31.00" font-size="5.8" text-anchor="start" font-weight="normal" fill="#231f20" >HSC</text>
<circle cx="401.6" cy="36.93" r="1.05" fill="#d4d4d4"/>
<text x="405.80" y="39.03" font-size="5.8" text-anchor="start" font-weight="normal" fill="#231f20" >Intermediate prog</text>
<circle cx="401.6" cy="44.96" r="1.05" fill="#1f5f9e"/>
<text x="405.80" y="47.06" font-size="5.8" text-anchor="start" font-weight="normal" fill="#231f20" >Aff hi prog</text>
<circle cx="401.6" cy="52.99" r="1.05" fill="#e8772e"/>
<text x="405.80" y="55.09" font-size="5.8" text-anchor="start" font-weight="normal" fill="#231f20" >B prog</text>
<circle cx="401.6" cy="61.02" r="1.05" fill="#1a8a7a"/>
<text x="405.80" y="63.12" font-size="5.8" text-anchor="start" font-weight="normal" fill="#231f20" >Bas/MC prog</text>
<circle cx="401.6" cy="69.05" r="1.05" fill="#b0151c"/>
<text x="405.80" y="71.15" font-size="5.8" text-anchor="start" font-weight="normal" fill="#231f20" >Ery prog</text>
<circle cx="401.6" cy="77.08" r="1.05" fill="#5a2d8a"/>
<text x="405.80" y="79.18" font-size="5.8" text-anchor="start" font-weight="normal" fill="#231f20" >Ery/Meg/Bas/MC prog</text>
<circle cx="401.6" cy="85.11" r="1.05" fill="#c87aa4"/>
<text x="405.80" y="87.21" font-size="5.8" text-anchor="start" font-weight="normal" fill="#231f20" >ILC</text>
<circle cx="401.6" cy="93.14" r="1.05" fill="#88c07a"/>
<text x="405.80" y="95.24" font-size="5.8" text-anchor="start" font-weight="normal" fill="#231f20" >Neu</text>
<circle cx="401.6" cy="101.17" r="1.05" fill="#e89a88"/>
<text x="405.80" y="103.27" font-size="5.8" text-anchor="start" font-weight="normal" fill="#231f20" >Neu prog</text>
<circle cx="401.6" cy="109.20" r="1.05" fill="#b4a8d8"/>
<text x="405.80" y="111.30" font-size="5.8" text-anchor="start" font-weight="normal" fill="#231f20" >Neu/Mono/DC prog</text>
<circle cx="457.6" cy="28.90" r="1.05" fill="#2aa0b4"/>
<text x="462.20" y="31.00" font-size="5.8" text-anchor="start" font-weight="normal" fill="#231f20" >Ly/DC prog</text>
<circle cx="457.6" cy="36.93" r="1.05" fill="#a8bccc"/>
<text x="462.20" y="39.03" font-size="5.8" text-anchor="start" font-weight="normal" fill="#231f20" >Meg prog</text>
<circle cx="457.6" cy="44.96" r="1.05" fill="#f0b078"/>
<text x="462.20" y="47.06" font-size="5.8" text-anchor="start" font-weight="normal" fill="#231f20" >Mono typ</text>
<circle cx="457.6" cy="52.99" r="1.05" fill="#8a8a8a"/>
<text x="462.20" y="55.09" font-size="5.8" text-anchor="start" font-weight="normal" fill="#231f20" >Unknown prog</text>
<g filter="url(#umid)">
<path d="M183.20 45.00 C185.03 44.08 189.53 44.33 192.20 44.00 C194.87 43.67 196.87 43.00 199.20 43.00 C201.53 43.00 204.03 43.42 206.20 44.00 C208.37 44.58 210.70 45.25 212.20 46.50 C213.70 47.75 214.87 49.33 215.20 51.50 C215.53 53.67 214.37 56.83 214.20 59.50 C214.03 62.17 214.37 65.17 214.20 67.50 C214.03 69.83 213.87 71.83 213.20 73.50 C212.53 75.17 211.20 76.50 210.20 77.50 C209.20 78.50 208.37 78.50 207.20 79.50 C206.03 80.50 204.53 82.33 203.20 83.50 C201.87 84.67 200.70 86.17 199.20 86.50 C197.70 86.83 195.87 86.17 194.20 85.50 C192.53 84.83 190.78 83.42 189.20 82.50 C187.62 81.58 185.87 81.33 184.70 80.00 C183.53 78.67 182.62 76.92 182.20 74.50 C181.78 72.08 182.37 68.33 182.20 65.50 C182.03 62.67 181.37 60.17 181.20 57.50 C181.03 54.83 180.87 51.58 181.20 49.50 C181.53 47.42 181.37 45.92 183.20 45.00Z" fill="#929ed0"/>
<path d="M188.1 44.0h0.9M186.9 43.9h0.9M189.3 44.9h0.9M185.8 43.7h0.9M190.3 43.4h0.9M188.6 44.6h0.9M186.8 44.5h0.9M185.9 44.1h0.9M188.5 43.8h0.9M182.8 45.0h0.9M183.9 45.1h0.9M195.4 43.7h0.9M197.4 43.2h0.9M196.9 42.6h0.9M198.9 44.1h0.9M194.8 42.9h0.9M198.4 43.5h0.9M197.2 42.4h0.9M195.5 43.7h0.9M203.7 42.4h0.9M200.9 43.7h0.9M206.5 43.7h0.9M203.1 42.7h0.9M205.3 42.8h0.9M203.3 42.8h0.9M206.1 42.4h0.9M199.9 44.1h0.9M211.7 47.0h0.9M210.6 45.0h0.9M211.4 44.6h0.9M207.5 45.1h0.9M210.5 44.5h0.9M206.8 44.3h0.9M210.5 45.6h0.9M207.3 43.8h0.9M213.5 49.3h0.9M215.5 51.1h0.9M212.1 47.1h0.9M213.1 47.3h0.9M214.7 47.6h0.9M214.5 49.2h0.9M213.0 47.8h0.9M215.3 52.5h0.9M215.8 53.8h0.9M215.5 54.3h0.9M215.4 51.2h0.9M214.1 57.7h0.9M214.8 56.1h0.9M215.7 57.4h0.9M215.5 51.6h0.9M214.4 51.7h0.9M215.8 53.3h0.9M214.5 64.9h0.9M215.8 65.2h0.9M216.0 65.3h0.9M214.6 64.2h0.9M215.5 65.1h0.9M215.3 65.6h0.9M214.1 64.9h0.9M213.2 60.6h0.9M215.3 64.2h0.9M214.9 67.4h0.9M213.5 68.8h0.9M214.9 68.3h0.9M213.4 72.0h0.9M213.7 71.3h0.9M212.9 70.1h0.9M214.5 69.2h0.9M213.2 71.8h0.9M211.1 76.5h0.9M212.8 76.9h0.9M212.5 75.4h0.9M214.5 73.8h0.9M210.3 77.2h0.9M213.0 76.1h0.9M208.8 78.5h0.9M208.3 78.1h0.9M207.8 78.6h0.9M207.8 80.6h0.9M206.0 81.6h0.9M202.9 83.3h0.9M205.5 81.9h0.9M203.4 83.9h0.9M204.1 83.9h0.9M207.4 81.1h0.9M205.4 82.2h0.9M203.0 85.1h0.9M199.9 85.7h0.9M201.2 85.5h0.9M200.0 85.8h0.9M200.4 84.6h0.9M199.3 86.8h0.9M197.1 86.4h0.9M194.4 86.9h0.9M197.8 85.6h0.9M195.7 86.5h0.9M198.2 86.8h0.9M198.0 88.0h0.9M192.3 86.1h0.9M191.3 84.4h0.9M190.1 83.7h0.9M192.4 84.3h0.9M193.1 85.7h0.9M190.5 85.2h0.9M189.9 83.8h0.9M187.8 82.5h0.9M184.5 81.1h0.9M189.2 81.1h0.9M185.1 81.7h0.9M188.3 82.3h0.9M184.8 81.6h0.9M184.7 79.3h0.9M183.7 75.9h0.9M184.1 78.8h0.9M181.4 75.4h0.9M182.8 77.8h0.9M184.0 78.6h0.9M182.3 74.3h0.9M181.7 69.5h0.9M181.8 70.7h0.9M181.8 69.5h0.9M182.2 74.6h0.9M182.3 70.3h0.9M182.3 67.2h0.9M180.9 67.9h0.9M181.0 67.6h0.9M182.0 69.5h0.9M182.7 68.8h0.9M183.1 74.3h0.9M181.5 60.5h0.9M180.0 61.0h0.9M180.3 59.9h0.9M181.9 58.7h0.9M182.0 61.4h0.9M181.3 60.5h0.9M182.2 64.2h0.9M180.3 57.4h0.9M182.2 61.0h0.9M180.6 60.2h0.9M181.2 52.7h0.9M180.9 50.9h0.9M182.0 49.7h0.9M180.0 50.5h0.9M180.6 56.4h0.9M180.9 54.8h0.9M181.1 53.3h0.9M181.1 49.4h0.9M181.1 51.2h0.9M179.7 57.2h0.9M181.1 49.6h0.9M181.6 48.1h0.9M180.4 47.7h0.9M181.3 48.0h0.9M180.7 47.2h0.9M181.7 47.6h0.9" stroke="#929ed0" stroke-width="0.9" stroke-linecap="round"/>
<path d="M183.10 40.70 C183.97 39.83 185.68 39.23 187.20 39.30 C188.72 39.37 190.78 41.32 192.20 41.10 C193.62 40.88 194.77 39.43 195.70 38.00 C196.63 36.57 197.48 34.33 197.80 32.50 C198.12 30.67 197.43 28.13 197.60 27.00 C197.77 25.87 198.40 25.70 198.80 25.70 C199.20 25.70 199.77 25.87 200.00 27.00 C200.23 28.13 200.00 30.95 200.20 32.50 C200.40 34.05 200.67 35.33 201.20 36.30 C201.73 37.27 203.10 37.23 203.40 38.30 C203.70 39.37 203.87 41.57 203.00 42.70 C202.13 43.83 200.00 44.60 198.20 45.10 C196.40 45.60 194.03 45.27 192.20 45.70 C190.37 46.13 188.62 47.33 187.20 47.70 C185.78 48.07 184.57 48.43 183.70 47.90 C182.83 47.37 182.10 45.70 182.00 44.50 C181.90 43.30 182.23 41.57 183.10 40.70Z" fill="#e69aa8"/>
<path d="M182.5 41.1h0.9M183.8 40.7h0.9M182.6 40.6h0.9M187.6 39.2h0.9M183.3 40.2h0.9M188.6 41.0h0.9M188.1 40.1h0.9M188.7 41.1h0.9M188.7 40.0h0.9M187.9 39.8h0.9M189.8 40.7h0.9M193.3 39.7h0.9M193.2 40.4h0.9M195.5 38.7h0.9M195.0 38.4h0.9M197.2 37.5h0.9M196.2 35.1h0.9M197.2 33.5h0.9M197.3 33.8h0.9M197.0 36.1h0.9M196.1 36.2h0.9M197.0 35.4h0.9M197.4 33.2h0.9M198.7 31.0h0.9M198.1 31.1h0.9M197.7 29.5h0.9M198.2 28.2h0.9M198.0 27.9h0.9M197.7 28.5h0.9M198.0 26.9h0.9M198.6 25.9h0.9M199.6 25.7h0.9M199.7 26.4h0.9M200.2 31.0h0.9M200.2 27.4h0.9M200.2 28.1h0.9M200.3 27.3h0.9M200.7 30.1h0.9M200.7 31.5h0.9M202.0 34.0h0.9M201.1 32.4h0.9M201.1 36.0h0.9M199.8 34.3h0.9M201.8 38.1h0.9M204.7 38.2h0.9M200.9 36.3h0.9M202.5 39.8h0.9M203.5 42.6h0.9M203.0 40.8h0.9M203.8 40.6h0.9M202.9 42.1h0.9M200.0 45.5h0.9M201.7 42.7h0.9M201.8 44.6h0.9M200.0 45.5h0.9M202.8 42.8h0.9M202.9 43.4h0.9M197.2 45.6h0.9M196.6 46.5h0.9M194.9 45.5h0.9M193.8 45.8h0.9M192.6 46.4h0.9M193.0 45.2h0.9M197.1 45.6h0.9M190.4 46.3h0.9M190.4 46.4h0.9M191.6 46.3h0.9M189.4 47.1h0.9M191.7 45.7h0.9M189.6 47.5h0.9M186.3 49.3h0.9M187.3 47.4h0.9M185.6 48.2h0.9M185.8 47.7h0.9M182.5 44.3h0.9M183.4 46.4h0.9M184.4 47.5h0.9M181.6 44.2h0.9M181.7 41.4h0.9M183.2 41.4h0.9M181.0 44.3h0.9M182.8 42.3h0.9" stroke="#e69aa8" stroke-width="0.9" stroke-linecap="round"/>
<path d="M210.40 48.10 C211.20 47.02 212.90 47.07 214.20 47.00 C215.50 46.93 216.87 47.20 218.20 47.70 C219.53 48.20 221.03 49.03 222.20 50.00 C223.37 50.97 224.20 52.00 225.20 53.50 C226.20 55.00 227.28 57.58 228.20 59.00 C229.12 60.42 229.95 60.95 230.70 62.00 C231.45 63.05 233.12 64.72 232.70 65.30 C232.28 65.88 229.62 65.37 228.20 65.50 C226.78 65.63 225.45 65.52 224.20 66.10 C222.95 66.68 221.87 68.18 220.70 69.00 C219.53 69.82 218.45 70.75 217.20 71.00 C215.95 71.25 214.28 71.25 213.20 70.50 C212.12 69.75 211.28 68.17 210.70 66.50 C210.12 64.83 209.92 62.67 209.70 60.50 C209.48 58.33 209.28 55.57 209.40 53.50 C209.52 51.43 209.60 49.18 210.40 48.10Z" fill="#8c98cc"/>
<path d="M211.9 46.1h0.9M213.5 47.0h0.9M210.6 46.6h0.9M213.3 47.5h0.9M214.9 47.0h0.9M215.6 46.5h0.9M216.7 46.6h0.9M217.4 47.5h0.9M215.2 47.7h0.9M218.9 46.7h0.9M221.6 49.6h0.9M218.9 47.9h0.9M221.9 49.5h0.9M222.7 49.5h0.9M222.4 50.5h0.9M223.7 51.6h0.9M222.5 50.8h0.9M225.8 51.7h0.9M225.4 53.8h0.9M228.9 58.8h0.9M227.3 55.3h0.9M228.7 57.1h0.9M227.4 54.7h0.9M226.5 57.9h0.9M227.2 54.8h0.9M225.1 55.1h0.9M231.7 61.6h0.9M231.3 60.9h0.9M229.5 59.9h0.9M229.5 61.3h0.9M231.9 63.4h0.9M231.6 63.4h0.9M232.6 64.8h0.9M231.6 64.5h0.9M230.6 65.9h0.9M230.0 65.2h0.9M233.9 66.0h0.9M228.0 65.0h0.9M229.8 65.3h0.9M226.8 66.6h0.9M224.3 65.4h0.9M227.3 64.7h0.9M227.0 66.6h0.9M224.8 66.4h0.9M222.9 68.1h0.9M222.4 68.3h0.9M223.9 68.5h0.9M223.0 67.7h0.9M220.9 68.5h0.9M219.9 68.8h0.9M219.8 70.8h0.9M217.7 72.0h0.9M217.0 71.7h0.9M218.8 70.7h0.9M212.8 71.2h0.9M215.8 70.5h0.9M214.8 70.5h0.9M214.2 70.9h0.9M215.8 70.6h0.9M210.3 67.8h0.9M210.9 67.4h0.9M211.3 69.2h0.9M211.3 69.5h0.9M212.2 70.6h0.9M209.3 61.9h0.9M210.2 63.2h0.9M209.3 64.5h0.9M211.0 65.4h0.9M211.3 65.1h0.9M208.9 63.2h0.9M210.5 65.0h0.9M209.8 57.0h0.9M209.4 59.1h0.9M209.9 59.5h0.9M208.6 54.8h0.9M209.2 57.9h0.9M209.0 53.5h0.9M208.6 58.3h0.9M208.9 59.6h0.9M209.6 47.0h0.9M209.5 50.9h0.9M209.4 49.8h0.9M209.7 51.4h0.9M208.6 52.7h0.9M208.6 52.5h0.9" stroke="#8c98cc" stroke-width="0.9" stroke-linecap="round"/>
<path d="M163.80 50.70 C164.47 49.97 165.57 48.87 165.80 49.10 C166.03 49.33 165.17 51.12 165.20 52.10 C165.23 53.08 165.42 53.77 166.00 55.00 C166.58 56.23 167.58 57.75 168.70 59.50 C169.82 61.25 171.45 63.75 172.70 65.50 C173.95 67.25 175.87 68.50 176.20 70.00 C176.53 71.50 175.28 73.42 174.70 74.50 C174.12 75.58 173.87 76.58 172.70 76.50 C171.53 76.42 169.28 75.25 167.70 74.00 C166.12 72.75 164.48 70.92 163.20 69.00 C161.92 67.08 160.57 64.58 160.00 62.50 C159.43 60.42 159.50 58.00 159.80 56.50 C160.10 55.00 161.13 54.47 161.80 53.50 C162.47 52.53 163.13 51.43 163.80 50.70Z" fill="#8496d2"/>
<path d="M163.8 49.5h0.9M165.0 50.3h0.9M164.7 49.6h0.9M165.7 52.8h0.9M165.0 48.3h0.9M165.6 50.2h0.9M165.3 52.3h0.9M165.2 51.9h0.9M166.0 53.0h0.9M167.7 55.7h0.9M168.0 56.8h0.9M167.7 56.0h0.9M165.7 55.0h0.9M167.6 55.8h0.9M169.4 59.4h0.9M169.5 61.0h0.9M168.3 59.7h0.9M168.5 59.5h0.9M172.0 64.1h0.9M170.5 60.1h0.9M171.0 60.7h0.9M169.0 61.0h0.9M172.1 64.2h0.9M168.9 59.7h0.9M174.9 67.9h0.9M176.9 70.8h0.9M175.9 69.2h0.9M176.1 69.5h0.9M174.0 66.5h0.9M173.9 66.0h0.9M176.1 69.5h0.9M176.1 71.5h0.9M174.8 73.9h0.9M175.1 74.4h0.9M175.6 70.4h0.9M176.2 72.9h0.9M173.0 74.5h0.9M174.1 76.6h0.9M173.9 76.3h0.9M172.9 77.4h0.9M172.1 76.8h0.9M169.5 74.8h0.9M168.3 75.0h0.9M172.2 77.7h0.9M171.2 76.7h0.9M162.6 70.6h0.9M167.3 73.5h0.9M165.5 71.1h0.9M165.0 72.0h0.9M164.8 72.5h0.9M166.7 72.4h0.9M168.1 75.4h0.9M165.2 70.5h0.9M161.6 66.1h0.9M162.0 66.2h0.9M161.4 68.7h0.9M161.4 65.8h0.9M162.9 68.3h0.9M159.6 64.3h0.9M162.4 69.5h0.9M160.5 66.0h0.9M160.7 63.2h0.9M159.1 59.1h0.9M159.4 57.2h0.9M159.1 57.4h0.9M159.3 56.2h0.9M160.1 62.4h0.9M160.3 61.9h0.9M161.1 61.2h0.9M159.6 55.8h0.9M160.8 54.9h0.9M159.2 55.3h0.9M160.9 53.7h0.9M161.5 52.1h0.9M161.6 51.5h0.9M162.0 53.6h0.9M161.7 52.1h0.9" stroke="#8496d2" stroke-width="0.9" stroke-linecap="round"/>
<path d="M169.20 59.50 C169.37 58.12 171.87 58.10 173.20 57.70 C174.53 57.30 175.70 57.05 177.20 57.10 C178.70 57.15 180.67 57.35 182.20 58.00 C183.73 58.65 185.57 59.75 186.40 61.00 C187.23 62.25 187.23 63.92 187.20 65.50 C187.17 67.08 186.95 69.08 186.20 70.50 C185.45 71.92 183.87 73.37 182.70 74.00 C181.53 74.63 180.37 74.85 179.20 74.30 C178.03 73.75 176.87 72.08 175.70 70.70 C174.53 69.32 173.28 67.87 172.20 66.00 C171.12 64.13 169.03 60.88 169.20 59.50Z" fill="#6a82c8"/>
<path d="M169.3 59.3h0.9M169.4 58.7h0.9M171.5 58.6h0.9M168.9 59.3h0.9M170.6 58.5h0.9M174.3 58.0h0.9M173.0 56.3h0.9M174.1 56.5h0.9M175.9 57.4h0.9M176.4 56.6h0.9M180.0 55.9h0.9M179.1 57.6h0.9M177.7 56.2h0.9M180.0 57.2h0.9M177.3 56.7h0.9M180.3 57.1h0.9M184.7 60.7h0.9M184.8 59.7h0.9M185.0 58.9h0.9M183.2 58.6h0.9M184.3 59.4h0.9M184.6 59.2h0.9M187.3 61.4h0.9M188.1 63.2h0.9M186.5 63.8h0.9M187.2 63.0h0.9M187.1 61.7h0.9M187.3 65.9h0.9M186.9 67.8h0.9M185.8 67.2h0.9M187.8 66.5h0.9M186.7 70.9h0.9M186.3 71.1h0.9M186.0 71.1h0.9M187.1 71.4h0.9M183.9 72.9h0.9M185.4 70.8h0.9M184.3 72.5h0.9M184.2 73.0h0.9M181.9 74.1h0.9M182.4 73.4h0.9M178.8 74.7h0.9M180.2 74.3h0.9M178.3 74.4h0.9M178.6 73.2h0.9M178.6 73.8h0.9M176.0 71.5h0.9M178.5 72.3h0.9M177.2 72.7h0.9M174.6 69.7h0.9M175.9 70.4h0.9M174.2 68.5h0.9M173.9 69.2h0.9M172.4 66.1h0.9M173.1 66.7h0.9M172.5 67.2h0.9M170.3 65.0h0.9M170.3 61.0h0.9M169.2 60.8h0.9M168.8 61.3h0.9M170.6 66.1h0.9M170.6 66.1h0.9M170.5 64.1h0.9M169.5 62.7h0.9" stroke="#6a82c8" stroke-width="0.9" stroke-linecap="round"/>
<path d="M171.40 78.10 C172.33 77.02 173.87 75.90 175.20 75.00 C176.53 74.10 178.40 72.53 179.40 72.70 C180.40 72.87 181.07 74.87 181.20 76.00 C181.33 77.13 180.78 78.25 180.20 79.50 C179.62 80.75 178.62 82.17 177.70 83.50 C176.78 84.83 175.68 86.27 174.70 87.50 C173.72 88.73 172.63 90.82 171.80 90.90 C170.97 90.98 170.10 89.15 169.70 88.00 C169.30 86.85 169.82 84.42 169.40 84.00 C168.98 83.58 168.48 85.08 167.20 85.50 C165.92 85.92 162.77 86.42 161.70 86.50 C160.63 86.58 160.05 86.30 160.80 86.00 C161.55 85.70 164.73 85.45 166.20 84.70 C167.67 83.95 168.73 82.60 169.60 81.50 C170.47 80.40 170.47 79.18 171.40 78.10Z" fill="#62b864"/>
<path d="M174.9 74.7h0.9M174.8 74.6h0.9M173.5 77.5h0.9M175.2 75.1h0.9M175.1 73.9h0.9M172.9 76.5h0.9M179.4 73.3h0.9M179.5 72.1h0.9M176.2 73.8h0.9M179.1 72.9h0.9M179.2 72.4h0.9M180.0 74.1h0.9M182.0 75.6h0.9M180.4 72.8h0.9M179.9 73.5h0.9M181.8 77.1h0.9M180.6 76.2h0.9M180.9 76.8h0.9M180.6 79.8h0.9M179.1 80.2h0.9M180.1 80.7h0.9M180.8 80.2h0.9M179.9 79.6h0.9M178.7 82.7h0.9M175.0 86.5h0.9M176.2 85.8h0.9M175.6 85.9h0.9M176.1 87.4h0.9M175.8 85.1h0.9M176.9 87.2h0.9M172.7 90.1h0.9M173.5 88.2h0.9M172.6 90.8h0.9M172.0 91.0h0.9M174.1 90.2h0.9M170.2 87.9h0.9M171.3 90.0h0.9M170.3 87.5h0.9M171.5 92.0h0.9M168.4 87.9h0.9M170.3 87.1h0.9M169.0 87.0h0.9M169.5 87.3h0.9M169.6 87.4h0.9M170.0 83.6h0.9M169.1 84.7h0.9M166.8 85.6h0.9M162.1 87.2h0.9M166.0 85.5h0.9M162.0 86.9h0.9M160.8 86.5h0.9M162.4 86.6h0.9M162.7 85.8h0.9M159.9 86.7h0.9M166.5 84.6h0.9M165.2 84.7h0.9M162.3 85.8h0.9M162.8 85.7h0.9M164.3 85.0h0.9M164.2 85.1h0.9M166.2 83.7h0.9M167.2 82.9h0.9M167.4 82.9h0.9M166.9 84.3h0.9M169.2 81.3h0.9M171.5 78.7h0.9M169.5 79.0h0.9M171.1 79.3h0.9M169.9 79.6h0.9" stroke="#62b864" stroke-width="0.9" stroke-linecap="round"/>
<path d="M184.40 78.10 C185.18 77.13 187.23 79.05 188.70 79.70 C190.17 80.35 191.78 81.20 193.20 82.00 C194.62 82.80 195.95 83.33 197.20 84.50 C198.45 85.67 200.00 87.50 200.70 89.00 C201.40 90.50 201.40 91.92 201.40 93.50 C201.40 95.08 201.23 97.08 200.70 98.50 C200.17 99.92 199.28 101.37 198.20 102.00 C197.12 102.63 195.53 102.45 194.20 102.30 C192.87 102.15 191.37 101.83 190.20 101.10 C189.03 100.37 188.00 99.25 187.20 97.90 C186.40 96.55 185.93 95.07 185.40 93.00 C184.87 90.93 184.17 87.98 184.00 85.50 C183.83 83.02 183.62 79.07 184.40 78.10Z" fill="#b02c4c"/>
<path d="M187.2 78.9h0.9M187.4 79.6h0.9M187.0 77.9h0.9M185.7 77.8h0.9M186.3 77.5h0.9M193.5 82.6h0.9M188.7 79.7h0.9M192.8 81.0h0.9M188.9 79.5h0.9M192.7 80.8h0.9M191.1 80.8h0.9M193.2 82.2h0.9M195.5 82.9h0.9M195.0 81.9h0.9M195.2 84.0h0.9M195.2 81.3h0.9M199.4 88.7h0.9M197.6 84.7h0.9M197.4 86.4h0.9M198.9 86.6h0.9M197.2 84.3h0.9M199.1 85.9h0.9M200.7 86.9h0.9M201.8 90.1h0.9M200.7 89.0h0.9M202.4 90.8h0.9M202.0 90.3h0.9M201.4 91.5h0.9M201.9 97.0h0.9M202.0 95.8h0.9M200.6 94.0h0.9M201.7 95.9h0.9M202.1 98.6h0.9M200.3 96.6h0.9M199.4 99.7h0.9M200.5 100.5h0.9M199.9 99.8h0.9M200.3 100.2h0.9M200.2 100.2h0.9M194.5 102.3h0.9M196.3 103.1h0.9M197.0 102.0h0.9M197.4 103.8h0.9M195.9 101.5h0.9M191.5 101.1h0.9M193.3 101.0h0.9M192.6 101.7h0.9M192.9 102.7h0.9M190.7 102.4h0.9M189.3 99.6h0.9M188.3 97.8h0.9M186.6 98.8h0.9M187.3 98.7h0.9M186.5 99.0h0.9M185.9 94.9h0.9M185.2 93.4h0.9M186.1 95.0h0.9M184.4 94.0h0.9M184.8 96.4h0.9M186.7 94.5h0.9M184.5 93.0h0.9M185.4 91.6h0.9M184.5 88.2h0.9M183.9 90.3h0.9M183.8 92.0h0.9M183.6 87.1h0.9M185.7 88.8h0.9M184.4 86.9h0.9M184.9 91.2h0.9M183.2 77.9h0.9M183.8 84.0h0.9M183.6 83.7h0.9M183.5 82.3h0.9M182.9 81.5h0.9M184.1 77.6h0.9M184.4 82.1h0.9M184.0 82.0h0.9M183.5 83.1h0.9" stroke="#b02c4c" stroke-width="0.9" stroke-linecap="round"/>
<path d="M201.20 78.30 C201.73 77.38 203.20 76.90 204.20 76.50 C205.20 76.10 206.28 75.57 207.20 75.90 C208.12 76.23 209.03 77.40 209.70 78.50 C210.37 79.60 210.78 81.08 211.20 82.50 C211.62 83.92 212.12 85.70 212.20 87.00 C212.28 88.30 212.37 89.65 211.70 90.30 C211.03 90.95 209.28 91.12 208.20 90.90 C207.12 90.68 206.20 89.82 205.20 89.00 C204.20 88.18 202.90 87.17 202.20 86.00 C201.50 84.83 201.17 83.28 201.00 82.00 C200.83 80.72 200.67 79.22 201.20 78.30Z" fill="#e4b6c4"/>
<path d="M201.6 77.5h0.9M202.7 77.6h0.9M201.5 76.2h0.9M202.9 76.0h0.9M206.6 75.9h0.9M206.6 76.1h0.9M205.0 75.7h0.9M209.0 78.3h0.9M209.3 76.8h0.9M208.0 75.8h0.9M207.7 74.3h0.9M210.8 81.9h0.9M210.2 81.5h0.9M209.7 80.4h0.9M211.5 82.6h0.9M210.3 81.1h0.9M212.7 86.4h0.9M212.1 86.1h0.9M213.8 87.9h0.9M212.3 82.1h0.9M212.7 87.6h0.9M212.8 87.3h0.9M212.4 88.2h0.9M213.3 87.6h0.9M211.9 88.2h0.9M210.5 90.1h0.9M210.3 92.3h0.9M212.1 91.2h0.9M210.3 91.2h0.9M207.7 90.5h0.9M207.7 90.6h0.9M206.4 91.1h0.9M206.1 89.1h0.9M205.4 88.6h0.9M202.3 86.3h0.9M203.4 87.9h0.9M202.6 85.8h0.9M203.4 89.7h0.9M200.6 86.3h0.9M202.1 85.9h0.9M200.0 84.1h0.9M201.3 86.0h0.9M200.9 83.2h0.9M200.1 79.4h0.9M201.7 82.0h0.9M200.0 78.0h0.9M201.2 81.9h0.9" stroke="#e4b6c4" stroke-width="0.9" stroke-linecap="round"/>
<path d="M200.80 92.10 C201.43 91.93 203.13 93.85 204.20 95.00 C205.27 96.15 205.93 97.50 207.20 99.00 C208.47 100.50 211.63 103.15 211.80 104.00 C211.97 104.85 209.37 104.25 208.20 104.10 C207.03 103.95 205.88 103.78 204.80 103.10 C203.72 102.42 202.43 101.18 201.70 100.00 C200.97 98.82 200.55 97.32 200.40 96.00 C200.25 94.68 200.17 92.27 200.80 92.10Z" fill="#c8506a"/>
<path d="M202.0 92.7h0.9M200.8 91.0h0.9M203.0 93.9h0.9M201.2 91.6h0.9M200.7 91.9h0.9M205.4 95.5h0.9M205.6 95.5h0.9M206.5 97.2h0.9M204.3 96.1h0.9M204.8 96.4h0.9M205.2 97.8h0.9M209.3 102.3h0.9M209.1 100.2h0.9M210.5 103.1h0.9M208.8 100.2h0.9M207.8 99.7h0.9M206.8 99.4h0.9M211.8 104.0h0.9M209.4 102.3h0.9M209.9 103.9h0.9M209.2 103.8h0.9M209.1 103.3h0.9M210.0 103.6h0.9M207.4 102.8h0.9M206.4 104.0h0.9M205.3 103.3h0.9M206.7 103.3h0.9M203.0 102.4h0.9M204.2 104.8h0.9M204.3 104.7h0.9M202.2 100.1h0.9M201.0 101.6h0.9M202.5 99.9h0.9M199.8 100.0h0.9M200.5 97.9h0.9M201.3 99.8h0.9M200.1 99.9h0.9M200.8 95.1h0.9M200.4 96.3h0.9M199.3 94.3h0.9M199.9 95.7h0.9" stroke="#c8506a" stroke-width="0.9" stroke-linecap="round"/>
<path d="M197.70 100.00 C198.32 98.50 199.78 98.67 200.70 99.00 C201.62 99.33 202.70 100.82 203.20 102.00 C203.70 103.18 203.73 104.77 203.70 106.10 C203.67 107.43 203.15 108.68 203.00 110.00 C202.85 111.32 203.00 112.67 202.80 114.00 C202.60 115.33 202.13 116.98 201.80 118.00 C201.47 119.02 201.33 119.92 200.80 120.10 C200.27 120.28 199.17 119.87 198.60 119.10 C198.03 118.33 197.57 116.77 197.40 115.50 C197.23 114.23 197.67 112.75 197.60 111.50 C197.53 110.25 196.98 109.92 197.00 108.00 C197.02 106.08 197.08 101.50 197.70 100.00Z" fill="#c03a5a"/>
<path d="M200.8 98.1h0.9M197.6 100.1h0.9M199.5 99.6h0.9M203.6 100.7h0.9M201.8 100.4h0.9M201.2 99.8h0.9M202.3 101.5h0.9M203.5 103.3h0.9M204.3 104.1h0.9M203.1 105.0h0.9M203.3 100.9h0.9M202.9 103.0h0.9M203.2 109.0h0.9M204.0 107.3h0.9M204.3 105.4h0.9M204.6 106.4h0.9M202.6 111.0h0.9M203.1 113.0h0.9M203.3 114.9h0.9M202.5 113.1h0.9M204.9 110.6h0.9M202.1 115.9h0.9M202.4 113.8h0.9M202.6 114.3h0.9M202.5 117.9h0.9M202.7 114.2h0.9M201.1 118.9h0.9M201.0 119.2h0.9M199.5 119.4h0.9M200.4 119.6h0.9M199.7 120.9h0.9M197.8 118.5h0.9M198.7 118.8h0.9M198.7 117.3h0.9M196.9 118.0h0.9M197.3 114.0h0.9M197.3 112.9h0.9M197.5 114.7h0.9M196.9 112.0h0.9M197.7 113.9h0.9M197.0 108.9h0.9M197.2 110.8h0.9M196.1 107.6h0.9M197.5 109.6h0.9M197.2 107.4h0.9M196.3 102.5h0.9M197.1 98.8h0.9M196.5 101.7h0.9M197.4 101.2h0.9M196.8 102.5h0.9M196.3 104.7h0.9M197.0 102.8h0.9M197.8 106.7h0.9M197.7 100.5h0.9" stroke="#c03a5a" stroke-width="0.9" stroke-linecap="round"/>
<path d="M248.20 67.10 C248.77 66.20 250.12 65.52 251.20 65.30 C252.28 65.08 253.67 65.40 254.70 65.80 C255.73 66.20 257.05 66.83 257.40 67.70 C257.75 68.57 257.20 70.12 256.80 71.00 C256.40 71.88 255.45 72.17 255.00 73.00 C254.55 73.83 254.38 75.15 254.10 76.00 C253.82 76.85 253.58 78.32 253.30 78.10 C253.02 77.88 252.92 75.53 252.40 74.70 C251.88 73.87 250.97 73.77 250.20 73.10 C249.43 72.43 248.13 71.70 247.80 70.70 C247.47 69.70 247.63 68.00 248.20 67.10Z" fill="#8e9ad0"/>
<path d="M248.9 65.7h0.9M249.9 65.9h0.9M248.7 66.6h0.9M249.3 65.4h0.9M252.6 66.4h0.9M252.3 65.1h0.9M254.0 66.0h0.9M254.5 65.9h0.9M255.6 67.2h0.9M257.7 66.7h0.9M255.6 65.6h0.9M258.6 67.1h0.9M258.8 68.3h0.9M256.5 68.5h0.9M256.8 69.7h0.9M256.8 68.7h0.9M256.6 70.9h0.9M255.1 72.8h0.9M256.8 71.3h0.9M254.8 74.8h0.9M254.2 74.6h0.9M254.8 73.9h0.9M253.9 78.9h0.9M254.2 77.0h0.9M252.8 78.7h0.9M252.5 77.0h0.9M252.9 78.5h0.9M252.9 76.9h0.9M250.4 72.9h0.9M251.6 75.2h0.9M251.9 74.7h0.9M249.5 72.0h0.9M247.1 71.4h0.9M249.4 72.7h0.9M250.5 73.0h0.9M247.5 67.3h0.9M246.1 69.7h0.9M246.5 68.2h0.9M248.0 69.4h0.9" stroke="#8e9ad0" stroke-width="0.9" stroke-linecap="round"/>
<ellipse cx="217.70" cy="82.10" rx="3.00" ry="0.90" transform="rotate(30 217.70 82.10)" fill="#e0c0cc"/>
<ellipse cx="219.20" cy="88.80" rx="1.60" ry="0.80" transform="rotate(35 219.20 88.80)" fill="#d8a0b4"/>
<ellipse cx="217.70" cy="95.70" rx="1.50" ry="0.70" transform="rotate(40 217.70 95.70)" fill="#d8a8b8"/>
<ellipse cx="222.40" cy="100.70" rx="0.90" ry="2.20" transform="rotate(10 222.40 100.70)" fill="#e0b0c0"/>
<ellipse cx="223.90" cy="81.50" rx="0.90" ry="0.80" transform="rotate(0 223.90 81.50)" fill="#e0c0cc"/>
<ellipse cx="227.00" cy="90.00" rx="0.80" ry="0.70" transform="rotate(0 227.00 90.00)" fill="#d8a0b4"/>
<ellipse cx="230.50" cy="64.10" rx="2.20" ry="0.70" transform="rotate(30 230.50 64.10)" fill="#8c98cc"/>
<ellipse cx="210.40" cy="95.00" rx="1.20" ry="0.60" transform="rotate(30 210.40 95.00)" fill="#d8a0b4"/>
<ellipse cx="161.70" cy="78.00" rx="2.50" ry="0.50" transform="rotate(-60 161.70 78.00)" fill="#e0c0cc"/>
<ellipse cx="167.20" cy="46.70" rx="1.50" ry="0.50" transform="rotate(-30 167.20 46.70)" fill="#8496d2"/>
<ellipse cx="213.70" cy="37.00" rx="1.80" ry="0.50" transform="rotate(-40 213.70 37.00)" fill="#e0c0cc"/>
<ellipse cx="219.20" cy="59.50" rx="9" ry="10" fill="#7686c8" opacity="0.9"/>
<ellipse cx="205.20" cy="54.50" rx="6" ry="8" fill="#bcc0e2" opacity="0.9"/>
<ellipse cx="191.20" cy="58.00" rx="9.5" ry="11" fill="#2443a0" opacity="1"/>
<ellipse cx="185.70" cy="62.50" rx="5.5" ry="6" fill="#2a4ca6" opacity="0.9"/>
<ellipse cx="203.20" cy="67.50" rx="7" ry="5.5" fill="#d8bccb" opacity="0.95"/>
<ellipse cx="196.70" cy="75.50" rx="5" ry="4.2" fill="#d498aa" opacity="0.95"/>
<ellipse cx="189.70" cy="87.50" rx="6" ry="8.5" fill="#a82444" opacity="1"/>
<ellipse cx="207.20" cy="84.50" rx="3" ry="3.5" fill="#e2b4c2" opacity="0.9"/>
<ellipse cx="164.40" cy="52.00" rx="3.5" ry="4.5" fill="#ffffff" opacity="0.55"/>
<path d="M197.90 26.50 L199.70 26.50 L201.20 39.50 L198.20 39.50Z" fill="#7cc46c"/>
<path d="M160.70 79.50 Q159.20 85.50 161.70 91.50" stroke="#f0a040" stroke-width="0.7" fill="none"/>
<ellipse cx="199.70" cy="110.50" rx="2.2" ry="7.5" fill="#c84a68"/>
</g>
<text x="198.40" y="40.40" font-size="7.6" text-anchor="middle" font-weight="bold" fill="#111" stroke="#111" stroke-width="0.3">13</text>
<text x="213.50" y="39.00" font-size="7.6" text-anchor="middle" font-weight="bold" fill="#111" stroke="#111" stroke-width="0.3">18</text>
<text x="188.00" y="47.10" font-size="7.6" text-anchor="middle" font-weight="bold" fill="#111" stroke="#111" stroke-width="0.3">20</text>
<text x="202.70" y="54.70" font-size="7.6" text-anchor="middle" font-weight="bold" fill="#111" stroke="#111" stroke-width="0.3">2</text>
<text x="190.60" y="62.20" font-size="7.6" text-anchor="middle" font-weight="bold" fill="#111" stroke="#111" stroke-width="0.3">0</text>
<text x="216.20" y="62.70" font-size="7.6" text-anchor="middle" font-weight="bold" fill="#111" stroke="#111" stroke-width="0.3">1</text>
<text x="166.40" y="72.10" font-size="7.6" text-anchor="middle" font-weight="bold" fill="#111" stroke="#111" stroke-width="0.3">7</text>
<text x="178.50" y="68.90" font-size="7.6" text-anchor="middle" font-weight="bold" fill="#111" stroke="#111" stroke-width="0.3">6</text>
<text x="197.30" y="70.00" font-size="7.6" text-anchor="middle" font-weight="bold" fill="#111" stroke="#111" stroke-width="0.3">21</text>
<text x="206.00" y="70.00" font-size="7.6" text-anchor="middle" font-weight="bold" fill="#111" stroke="#111" stroke-width="0.3">3</text>
<text x="253.60" y="74.80" font-size="7.6" text-anchor="middle" font-weight="bold" fill="#111" stroke="#111" stroke-width="0.3">8</text>
<text x="193.80" y="78.90" font-size="7.6" text-anchor="middle" font-weight="bold" fill="#111" stroke="#111" stroke-width="0.3">4</text>
<text x="158.30" y="83.40" font-size="7.6" text-anchor="middle" font-weight="bold" fill="#111" stroke="#111" stroke-width="0.3">17</text>
<text x="173.70" y="85.00" font-size="7.6" text-anchor="middle" font-weight="bold" fill="#111" stroke="#111" stroke-width="0.3">12</text>
<text x="206.80" y="86.90" font-size="7.6" text-anchor="middle" font-weight="bold" fill="#111" stroke="#111" stroke-width="0.3">9</text>
<text x="221.60" y="85.60" font-size="7.6" text-anchor="middle" font-weight="bold" fill="#111" stroke="#111" stroke-width="0.3">190</text>
<text x="188.50" y="91.50" font-size="7.6" text-anchor="middle" font-weight="bold" fill="#111" stroke="#111" stroke-width="0.3">5</text>
<text x="218.90" y="93.70" font-size="7.6" text-anchor="middle" font-weight="bold" fill="#111" stroke="#111" stroke-width="0.3">15</text>
<text x="207.30" y="105.70" font-size="7.6" text-anchor="middle" font-weight="bold" fill="#111" stroke="#111" stroke-width="0.3">14</text>
<text x="222.00" y="105.70" font-size="7.6" text-anchor="middle" font-weight="bold" fill="#111" stroke="#111" stroke-width="0.3">16</text>
<text x="202.00" y="112.50" font-size="7.6" text-anchor="middle" font-weight="bold" fill="#111" stroke="#111" stroke-width="0.3">11</text>
<g filter="url(#usparse)">
<path d="M51.91 159.03 C53.57 158.24 57.64 158.46 60.06 158.17 C62.47 157.88 64.28 157.31 66.39 157.31 C68.50 157.31 70.76 157.67 72.73 158.17 C74.69 158.67 76.80 159.25 78.16 160.32 C79.51 161.39 80.57 162.76 80.87 164.62 C81.17 166.48 80.12 169.21 79.97 171.50 C79.81 173.79 80.12 176.37 79.97 178.38 C79.81 180.39 79.66 182.11 79.06 183.54 C78.46 184.97 77.25 186.12 76.35 186.98 C75.44 187.84 74.69 187.84 73.63 188.70 C72.57 189.56 71.22 191.14 70.01 192.14 C68.80 193.14 67.75 194.43 66.39 194.72 C65.03 195.01 63.37 194.43 61.87 193.86 C60.36 193.29 58.77 192.07 57.34 191.28 C55.91 190.49 54.32 190.28 53.27 189.13 C52.21 187.98 51.38 186.48 51.00 184.40 C50.63 182.32 51.16 179.10 51.00 176.66 C50.85 174.22 50.25 172.07 50.10 169.78 C49.95 167.49 49.80 164.69 50.10 162.90 C50.40 161.11 50.25 159.82 51.91 159.03Z" fill="#c4ccda"/>
<path d="M58.4 158.8h0.9M53.5 158.2h0.9M55.5 157.3h0.9M56.3 157.9h0.9M54.1 158.9h0.9M54.4 158.6h0.9M57.4 158.0h0.9M55.2 157.0h0.9M59.7 157.3h0.9M55.2 158.0h0.9M64.3 157.0h0.9M62.2 156.5h0.9M61.7 156.8h0.9M61.0 157.0h0.9M62.9 158.0h0.9M64.8 158.2h0.9M62.3 157.0h0.9M68.4 157.8h0.9M69.3 158.1h0.9M69.2 156.9h0.9M69.3 156.7h0.9M69.1 157.1h0.9M69.6 157.6h0.9M69.4 158.5h0.9M77.2 158.6h0.9M72.7 159.1h0.9M77.6 159.4h0.9M73.2 157.7h0.9M78.4 158.5h0.9M77.3 158.9h0.9M76.6 160.4h0.9M79.0 161.7h0.9M77.7 161.6h0.9M78.7 161.8h0.9M79.2 160.3h0.9M80.3 163.4h0.9M80.1 161.9h0.9M81.5 166.3h0.9M81.5 170.7h0.9M81.4 165.5h0.9M81.8 166.0h0.9M80.2 169.1h0.9M81.8 169.9h0.9M80.3 165.4h0.9M79.7 169.0h0.9M80.4 174.7h0.9M80.6 175.1h0.9M79.9 172.9h0.9M81.1 173.9h0.9M79.6 171.2h0.9M79.8 173.8h0.9M79.1 171.4h0.9M80.4 173.3h0.9M79.6 183.7h0.9M80.5 183.3h0.9M81.0 180.0h0.9M78.8 182.8h0.9M79.2 179.6h0.9M79.6 180.7h0.9M77.4 184.7h0.9M79.5 183.8h0.9M78.8 183.2h0.9M76.9 185.2h0.9M77.3 186.1h0.9M75.9 188.1h0.9M75.3 187.0h0.9M74.3 189.5h0.9M76.1 187.4h0.9M72.7 189.7h0.9M72.4 190.9h0.9M71.5 191.8h0.9M71.7 191.5h0.9M72.3 189.5h0.9M71.7 191.7h0.9M69.5 193.3h0.9M69.7 192.3h0.9M68.5 193.2h0.9M68.6 194.0h0.9M70.0 193.0h0.9M65.6 194.9h0.9M65.9 195.5h0.9M62.2 195.2h0.9M64.8 195.1h0.9M65.8 196.4h0.9M57.6 191.9h0.9M58.1 192.8h0.9M57.9 192.6h0.9M60.2 194.1h0.9M59.2 192.5h0.9M58.5 192.8h0.9M55.0 190.6h0.9M56.4 192.2h0.9M52.8 189.5h0.9M57.0 190.8h0.9M53.8 190.5h0.9M51.6 189.4h0.9M52.4 187.1h0.9M50.6 186.3h0.9M52.6 186.4h0.9M52.1 188.4h0.9M52.4 188.1h0.9M51.4 180.9h0.9M50.2 183.5h0.9M50.1 180.3h0.9M51.0 181.1h0.9M49.5 179.7h0.9M50.5 181.1h0.9M51.8 181.2h0.9M50.0 176.7h0.9M51.2 182.5h0.9M51.0 174.0h0.9M49.0 169.7h0.9M49.9 170.7h0.9M50.1 175.8h0.9M50.6 170.8h0.9M51.5 173.4h0.9M49.1 172.9h0.9M50.0 174.3h0.9M50.5 169.0h0.9M50.3 168.9h0.9M50.2 163.7h0.9M49.4 167.2h0.9M49.9 165.4h0.9M51.2 169.8h0.9M49.9 169.3h0.9M49.2 167.1h0.9M51.6 159.3h0.9M50.4 160.8h0.9M50.6 159.8h0.9M49.8 160.8h0.9M50.8 159.4h0.9" stroke="#c4ccda" stroke-width="0.9" stroke-linecap="round"/>
<path d="M51.82 155.33 C52.60 154.59 54.16 154.07 55.53 154.13 C56.90 154.19 58.77 155.86 60.06 155.68 C61.34 155.49 62.38 154.24 63.22 153.01 C64.07 151.78 64.84 149.86 65.12 148.28 C65.41 146.70 64.79 144.52 64.94 143.55 C65.09 142.58 65.67 142.43 66.03 142.43 C66.39 142.43 66.90 142.58 67.11 143.55 C67.33 144.52 67.11 146.95 67.30 148.28 C67.48 149.61 67.72 150.72 68.20 151.55 C68.68 152.38 69.92 152.35 70.19 153.27 C70.46 154.19 70.61 156.08 69.83 157.05 C69.04 158.03 67.11 158.69 65.49 159.12 C63.86 159.55 61.71 159.26 60.06 159.63 C58.40 160.00 56.81 161.04 55.53 161.35 C54.25 161.67 53.15 161.98 52.36 161.52 C51.58 161.07 50.91 159.63 50.82 158.60 C50.73 157.57 51.04 156.08 51.82 155.33Z" fill="#d2d4da"/>
<path d="M53.2 155.4h0.9M53.3 155.1h0.9M51.4 155.6h0.9M54.5 154.3h0.9M59.7 155.1h0.9M55.8 154.3h0.9M57.3 154.7h0.9M59.2 155.4h0.9M56.0 154.4h0.9M62.0 153.4h0.9M62.9 153.6h0.9M63.7 153.1h0.9M61.4 153.9h0.9M64.7 152.8h0.9M64.8 149.7h0.9M64.6 150.0h0.9M63.4 151.8h0.9M63.1 151.9h0.9M65.2 147.1h0.9M63.8 150.5h0.9M65.1 144.5h0.9M65.0 147.2h0.9M65.4 143.9h0.9M65.9 147.0h0.9M66.2 146.8h0.9M65.7 141.7h0.9M66.4 142.3h0.9M67.6 147.0h0.9M67.3 145.7h0.9M67.8 146.3h0.9M67.7 142.4h0.9M68.4 143.9h0.9M69.6 150.2h0.9M69.4 151.0h0.9M68.1 151.1h0.9M67.3 148.5h0.9M69.4 153.1h0.9M69.4 152.9h0.9M68.5 152.7h0.9M71.7 156.9h0.9M71.3 153.6h0.9M72.0 154.3h0.9M69.5 156.1h0.9M69.4 156.9h0.9M68.7 157.8h0.9M69.1 157.3h0.9M68.0 159.1h0.9M69.6 157.7h0.9M67.6 157.4h0.9M63.2 160.6h0.9M62.3 159.2h0.9M63.6 159.0h0.9M64.1 159.1h0.9M65.2 159.2h0.9M64.6 160.5h0.9M54.5 162.6h0.9M60.3 159.2h0.9M57.1 161.7h0.9M56.5 160.5h0.9M57.7 160.5h0.9M59.6 159.0h0.9M54.4 162.2h0.9M52.4 162.0h0.9M54.6 161.9h0.9M50.0 159.6h0.9M51.0 159.9h0.9M50.3 159.2h0.9M50.8 159.4h0.9M52.5 156.4h0.9M51.8 156.8h0.9M52.2 157.8h0.9M50.2 156.4h0.9" stroke="#d2d4da" stroke-width="0.9" stroke-linecap="round"/>
<path d="M76.53 161.70 C77.25 160.76 78.79 160.81 79.97 160.75 C81.14 160.69 82.38 160.92 83.59 161.35 C84.79 161.78 86.15 162.50 87.20 163.33 C88.26 164.16 89.02 165.05 89.92 166.34 C90.83 167.63 91.81 169.85 92.63 171.07 C93.46 172.29 94.22 172.75 94.90 173.65 C95.58 174.55 97.08 175.99 96.71 176.49 C96.33 176.99 93.92 176.55 92.63 176.66 C91.35 176.77 90.15 176.67 89.01 177.18 C87.88 177.68 86.90 178.97 85.85 179.67 C84.79 180.37 83.81 181.18 82.68 181.39 C81.55 181.61 80.04 181.61 79.06 180.96 C78.08 180.31 77.33 178.95 76.80 177.52 C76.27 176.09 76.09 174.22 75.89 172.36 C75.70 170.50 75.52 168.12 75.62 166.34 C75.73 164.56 75.80 162.63 76.53 161.70Z" fill="#94aed6"/>
<path d="M78.4 161.9h0.9M78.9 160.4h0.9M78.9 160.5h0.9M76.7 161.1h0.9M82.5 160.3h0.9M83.3 160.7h0.9M81.0 160.4h0.9M81.4 161.2h0.9M84.6 161.8h0.9M86.3 161.5h0.9M84.5 162.5h0.9M87.1 161.8h0.9M86.4 161.3h0.9M89.1 166.0h0.9M90.1 164.4h0.9M89.0 164.5h0.9M87.8 163.3h0.9M86.9 164.1h0.9M93.5 169.6h0.9M90.2 168.5h0.9M90.5 169.2h0.9M92.7 169.4h0.9M91.4 169.1h0.9M93.1 169.0h0.9M93.7 171.1h0.9M92.9 172.3h0.9M94.6 171.6h0.9M95.6 172.6h0.9M95.5 174.6h0.9M96.2 173.8h0.9M94.8 174.3h0.9M95.3 176.2h0.9M95.4 176.3h0.9M95.2 176.9h0.9M94.5 175.8h0.9M95.3 176.6h0.9M95.3 176.2h0.9M89.5 177.2h0.9M89.4 176.1h0.9M91.8 178.1h0.9M91.2 178.1h0.9M86.9 179.0h0.9M87.0 178.0h0.9M88.2 177.8h0.9M86.3 179.4h0.9M88.5 177.3h0.9M84.0 181.3h0.9M83.8 181.4h0.9M84.5 181.5h0.9M82.9 181.9h0.9M80.7 180.6h0.9M81.8 182.1h0.9M81.0 181.2h0.9M81.0 181.4h0.9M77.1 179.2h0.9M78.2 179.2h0.9M76.6 178.4h0.9M77.6 179.3h0.9M78.0 181.1h0.9M75.6 175.3h0.9M75.6 173.7h0.9M75.0 173.3h0.9M75.2 174.3h0.9M75.6 175.1h0.9M76.1 175.1h0.9M75.7 168.8h0.9M75.0 170.3h0.9M75.5 171.2h0.9M75.7 171.6h0.9M75.7 166.3h0.9M74.9 172.0h0.9M76.0 167.5h0.9M75.8 164.3h0.9M76.0 166.3h0.9M76.6 162.2h0.9M76.7 164.3h0.9M74.2 164.9h0.9" stroke="#94aed6" stroke-width="0.9" stroke-linecap="round"/>
<path d="M34.35 163.93 C34.96 163.30 35.95 162.36 36.16 162.56 C36.37 162.76 35.59 164.29 35.62 165.14 C35.65 165.98 35.82 166.57 36.34 167.63 C36.87 168.69 37.78 170.00 38.79 171.50 C39.80 173.00 41.28 175.16 42.41 176.66 C43.54 178.16 45.27 179.24 45.57 180.53 C45.88 181.82 44.75 183.47 44.22 184.40 C43.69 185.33 43.46 186.19 42.41 186.12 C41.35 186.05 39.32 185.04 37.88 183.97 C36.45 182.90 34.97 181.32 33.81 179.67 C32.65 178.02 31.43 175.87 30.91 174.08 C30.40 172.29 30.46 170.21 30.73 168.92 C31.00 167.63 31.94 167.17 32.54 166.34 C33.15 165.51 33.75 164.56 34.35 163.93Z" fill="#2864b2"/>
<path d="M35.0 163.2h0.9M34.9 162.3h0.9M36.0 164.3h0.9M36.1 162.3h0.9M36.5 161.4h0.9M36.0 165.9h0.9M35.9 165.3h0.9M35.3 164.7h0.9M38.6 170.3h0.9M38.4 170.5h0.9M38.9 171.8h0.9M38.8 172.3h0.9M38.2 170.1h0.9M39.7 172.9h0.9M40.8 173.3h0.9M39.9 173.6h0.9M41.7 174.4h0.9M40.1 172.7h0.9M40.6 174.1h0.9M41.7 176.1h0.9M46.4 181.0h0.9M45.3 179.7h0.9M46.3 181.0h0.9M45.1 178.6h0.9M43.8 178.1h0.9M43.2 177.4h0.9M46.2 181.5h0.9M44.5 180.6h0.9M44.0 182.9h0.9M43.9 183.7h0.9M45.2 183.1h0.9M43.2 185.2h0.9M42.9 186.3h0.9M43.6 184.2h0.9M40.9 184.8h0.9M42.1 186.1h0.9M39.6 185.0h0.9M40.7 186.2h0.9M41.4 185.7h0.9M39.2 184.8h0.9M33.2 180.1h0.9M37.2 184.8h0.9M36.1 183.7h0.9M34.6 180.2h0.9M37.3 183.8h0.9M36.4 182.9h0.9M34.2 180.7h0.9M31.1 174.4h0.9M33.1 177.0h0.9M32.8 177.6h0.9M30.3 175.1h0.9M31.6 177.5h0.9M33.8 177.7h0.9M31.9 174.7h0.9M29.2 173.5h0.9M30.9 171.7h0.9M29.6 170.0h0.9M29.7 169.1h0.9M30.4 168.9h0.9M29.5 169.2h0.9M31.2 168.5h0.9M31.0 168.9h0.9M30.5 167.4h0.9M32.8 165.1h0.9M32.0 165.1h0.9M32.7 164.4h0.9" stroke="#2864b2" stroke-width="0.9" stroke-linecap="round"/>
<path d="M39.24 171.50 C39.39 170.31 41.65 170.30 42.86 169.95 C44.07 169.61 45.12 169.39 46.48 169.44 C47.84 169.48 49.62 169.65 51.00 170.21 C52.39 170.77 54.05 171.72 54.81 172.79 C55.56 173.87 55.56 175.30 55.53 176.66 C55.50 178.02 55.30 179.74 54.62 180.96 C53.95 182.18 52.51 183.43 51.46 183.97 C50.40 184.51 49.35 184.70 48.29 184.23 C47.23 183.75 46.18 182.32 45.12 181.13 C44.07 179.94 42.94 178.70 41.95 177.09 C40.97 175.48 39.09 172.69 39.24 171.50Z" fill="#4a80c0"/>
<path d="M39.3 170.2h0.9M42.4 170.8h0.9M42.3 170.6h0.9M39.9 169.9h0.9M42.9 168.3h0.9M46.4 170.0h0.9M45.9 168.2h0.9M44.9 169.5h0.9M50.2 168.8h0.9M50.3 169.5h0.9M48.8 169.8h0.9M50.4 170.0h0.9M48.1 170.6h0.9M51.5 170.0h0.9M56.0 172.0h0.9M54.1 172.8h0.9M51.8 170.0h0.9M52.4 170.0h0.9M55.3 173.8h0.9M55.6 176.7h0.9M55.4 172.6h0.9M56.3 175.4h0.9M56.3 179.4h0.9M56.2 179.8h0.9M57.0 177.2h0.9M55.7 176.9h0.9M55.2 178.9h0.9M52.3 184.9h0.9M54.5 182.4h0.9M54.5 182.0h0.9M52.9 183.2h0.9M53.5 183.7h0.9M49.1 184.8h0.9M50.4 184.2h0.9M49.5 184.5h0.9M46.7 183.1h0.9M47.0 184.1h0.9M45.3 183.3h0.9M46.1 183.2h0.9M47.9 184.0h0.9M45.0 180.8h0.9M44.9 181.3h0.9M43.9 178.3h0.9M43.9 181.4h0.9M45.1 179.5h0.9M40.8 178.0h0.9M38.6 171.4h0.9M41.6 175.5h0.9M40.1 172.4h0.9M40.5 173.6h0.9M40.1 176.2h0.9M41.4 175.9h0.9M38.9 172.1h0.9" stroke="#4a80c0" stroke-width="0.9" stroke-linecap="round"/>
<path d="M41.23 187.50 C42.08 186.56 43.46 185.60 44.67 184.83 C45.88 184.06 47.57 182.71 48.47 182.85 C49.38 183.00 49.98 184.72 50.10 185.69 C50.22 186.66 49.72 187.62 49.19 188.70 C48.67 189.77 47.76 190.99 46.93 192.14 C46.10 193.29 45.11 194.52 44.22 195.58 C43.33 196.64 42.35 198.43 41.59 198.50 C40.84 198.58 40.05 197.00 39.69 196.01 C39.33 195.02 39.80 192.93 39.42 192.57 C39.04 192.21 38.59 193.50 37.43 193.86 C36.27 194.22 33.42 194.65 32.45 194.72 C31.49 194.79 30.96 194.55 31.64 194.29 C32.32 194.03 35.20 193.82 36.53 193.17 C37.85 192.53 38.82 191.37 39.60 190.42 C40.39 189.47 40.39 188.43 41.23 187.50Z" fill="#9cb4d4"/>
<path d="M42.8 184.6h0.9M43.2 186.1h0.9M42.2 186.1h0.9M43.9 184.7h0.9M41.9 187.4h0.9M46.0 183.2h0.9M47.3 183.0h0.9M44.9 185.1h0.9M45.4 183.3h0.9M48.5 182.1h0.9M48.9 183.0h0.9M50.6 183.6h0.9M47.9 183.9h0.9M48.5 183.5h0.9M51.0 185.8h0.9M49.8 187.3h0.9M50.8 186.7h0.9M49.2 191.1h0.9M48.4 190.1h0.9M49.8 189.4h0.9M49.9 190.4h0.9M47.7 190.1h0.9M46.1 194.0h0.9M47.6 192.6h0.9M46.2 193.8h0.9M47.8 192.8h0.9M47.7 193.2h0.9M43.4 196.3h0.9M43.5 196.0h0.9M43.9 196.5h0.9M43.4 197.0h0.9M41.2 197.2h0.9M40.4 195.5h0.9M41.7 199.2h0.9M39.1 195.3h0.9M39.1 195.5h0.9M39.7 195.5h0.9M39.6 193.3h0.9M39.4 193.2h0.9M38.2 193.7h0.9M35.1 194.1h0.9M34.9 194.5h0.9M37.5 193.8h0.9M35.7 193.9h0.9M33.3 195.0h0.9M35.4 194.9h0.9M31.5 194.8h0.9M34.0 193.2h0.9M34.5 193.5h0.9M34.2 193.7h0.9M32.8 193.7h0.9M35.2 193.3h0.9M33.2 194.0h0.9M37.9 192.0h0.9M38.9 192.3h0.9M37.8 192.4h0.9M38.1 191.8h0.9M37.7 191.7h0.9M40.5 189.1h0.9M39.6 190.1h0.9M40.8 188.5h0.9M39.9 189.2h0.9" stroke="#9cb4d4" stroke-width="0.9" stroke-linecap="round"/>
<path d="M53.00 187.50 C53.70 186.66 55.56 188.31 56.89 188.87 C58.21 189.43 59.68 190.16 60.96 190.85 C62.24 191.54 63.45 192.00 64.58 193.00 C65.71 194.00 67.11 195.58 67.75 196.87 C68.38 198.16 68.38 199.38 68.38 200.74 C68.38 202.10 68.23 203.82 67.75 205.04 C67.26 206.26 66.47 207.51 65.49 208.05 C64.50 208.59 63.07 208.44 61.87 208.31 C60.66 208.18 59.30 207.91 58.25 207.28 C57.19 206.65 56.25 205.69 55.53 204.52 C54.81 203.36 54.38 202.09 53.90 200.31 C53.42 198.53 52.78 196.00 52.63 193.86 C52.48 191.72 52.29 188.33 53.00 187.50Z" fill="#4e84c2"/>
<path d="M56.0 187.7h0.9M54.3 187.7h0.9M53.7 188.4h0.9M55.5 187.4h0.9M55.3 187.5h0.9M57.3 188.2h0.9M58.8 190.1h0.9M56.8 188.4h0.9M58.7 189.3h0.9M57.1 188.3h0.9M65.1 191.7h0.9M62.3 192.2h0.9M61.8 190.3h0.9M61.8 191.5h0.9M62.2 190.9h0.9M66.7 195.8h0.9M68.3 196.9h0.9M68.5 195.6h0.9M67.0 194.1h0.9M65.5 193.6h0.9M66.1 193.9h0.9M68.3 197.4h0.9M67.4 198.4h0.9M68.9 200.3h0.9M68.3 199.7h0.9M69.3 202.5h0.9M67.6 203.8h0.9M68.6 203.2h0.9M68.1 203.2h0.9M67.6 201.7h0.9M66.2 208.1h0.9M65.8 207.7h0.9M67.4 207.7h0.9M66.1 207.8h0.9M64.7 209.2h0.9M65.2 207.7h0.9M64.1 208.8h0.9M61.9 207.8h0.9M61.1 207.9h0.9M60.2 207.1h0.9M58.6 209.0h0.9M58.6 207.5h0.9M55.4 207.0h0.9M58.4 208.5h0.9M57.1 205.7h0.9M57.1 206.3h0.9M55.3 204.7h0.9M54.1 201.2h0.9M54.2 201.1h0.9M55.1 202.0h0.9M55.1 204.3h0.9M51.9 194.0h0.9M52.8 197.9h0.9M51.6 195.1h0.9M52.1 195.0h0.9M52.4 195.9h0.9M53.1 196.4h0.9M53.3 196.6h0.9M52.5 196.1h0.9M53.5 189.8h0.9M52.3 191.7h0.9M52.5 190.6h0.9M52.6 186.9h0.9M51.3 190.6h0.9M51.3 190.5h0.9M51.7 186.3h0.9" stroke="#4e84c2" stroke-width="0.9" stroke-linecap="round"/>
<path d="M68.20 187.67 C68.68 186.88 70.01 186.46 70.92 186.12 C71.82 185.78 72.80 185.32 73.63 185.60 C74.46 185.89 75.29 186.89 75.89 187.84 C76.50 188.79 76.87 190.06 77.25 191.28 C77.63 192.50 78.08 194.03 78.16 195.15 C78.23 196.27 78.31 197.43 77.70 197.99 C77.10 198.55 75.52 198.69 74.54 198.50 C73.55 198.32 72.72 197.57 71.82 196.87 C70.91 196.17 69.74 195.29 69.11 194.29 C68.47 193.29 68.17 191.95 68.02 190.85 C67.87 189.75 67.72 188.46 68.20 187.67Z" fill="#6892c8"/>
<path d="M70.5 186.3h0.9M68.8 186.6h0.9M69.4 187.8h0.9M73.2 184.8h0.9M71.7 187.0h0.9M71.4 184.7h0.9M73.9 186.5h0.9M75.6 186.9h0.9M75.6 185.8h0.9M77.3 188.6h0.9M78.0 189.8h0.9M77.5 190.3h0.9M75.9 188.2h0.9M78.2 194.5h0.9M78.4 194.1h0.9M78.5 191.4h0.9M79.0 191.6h0.9M79.3 197.7h0.9M78.3 196.3h0.9M79.4 197.7h0.9M77.0 198.1h0.9M76.1 197.7h0.9M74.4 198.1h0.9M76.4 199.8h0.9M72.7 196.5h0.9M72.2 196.7h0.9M74.5 198.0h0.9M71.3 197.5h0.9M69.3 194.6h0.9M71.1 195.3h0.9M69.3 194.6h0.9M67.9 194.5h0.9M68.5 193.5h0.9M69.2 192.7h0.9M67.8 191.3h0.9M67.1 189.9h0.9M68.5 188.2h0.9M68.4 188.8h0.9" stroke="#6892c8" stroke-width="0.9" stroke-linecap="round"/>
<path d="M67.84 199.54 C68.41 199.39 69.95 201.04 70.92 202.03 C71.88 203.02 72.48 204.18 73.63 205.47 C74.78 206.76 77.64 209.04 77.79 209.77 C77.94 210.50 75.59 209.99 74.54 209.86 C73.48 209.73 72.44 209.58 71.46 209.00 C70.48 208.41 69.32 207.35 68.65 206.33 C67.99 205.31 67.61 204.02 67.48 202.89 C67.34 201.76 67.26 199.68 67.84 199.54Z" fill="#2d6cb6"/>
<path d="M67.3 199.2h0.9M69.4 199.8h0.9M69.9 200.4h0.9M71.2 201.9h0.9M74.2 205.7h0.9M74.5 205.6h0.9M70.9 202.8h0.9M73.9 204.0h0.9M72.4 204.2h0.9M77.0 209.0h0.9M76.6 209.3h0.9M74.3 206.4h0.9M75.7 206.3h0.9M74.9 206.2h0.9M77.5 209.5h0.9M74.3 205.8h0.9M74.5 209.1h0.9M76.1 210.2h0.9M78.1 210.5h0.9M75.7 211.1h0.9M73.3 208.8h0.9M72.8 210.3h0.9M72.9 210.3h0.9M71.7 208.5h0.9M71.4 208.1h0.9M69.6 207.2h0.9M70.6 207.6h0.9M68.4 205.5h0.9M67.7 203.5h0.9M68.7 205.6h0.9M67.7 206.3h0.9M66.9 200.4h0.9M67.5 201.3h0.9M67.4 199.9h0.9M67.3 200.6h0.9" stroke="#2d6cb6" stroke-width="0.9" stroke-linecap="round"/>
<path d="M65.03 206.33 C65.59 205.04 66.92 205.18 67.75 205.47 C68.58 205.76 69.56 207.03 70.01 208.05 C70.46 209.07 70.49 210.43 70.46 211.58 C70.43 212.72 69.96 213.80 69.83 214.93 C69.69 216.06 69.83 217.22 69.65 218.37 C69.47 219.52 69.04 220.94 68.74 221.81 C68.44 222.68 68.32 223.46 67.84 223.62 C67.36 223.77 66.36 223.42 65.85 222.76 C65.33 222.10 64.91 220.75 64.76 219.66 C64.61 218.57 65.00 217.30 64.94 216.22 C64.88 215.14 64.38 214.86 64.40 213.21 C64.41 211.56 64.47 207.62 65.03 206.33Z" fill="#8eaad2"/>
<path d="M66.2 205.0h0.9M66.6 206.2h0.9M64.5 204.9h0.9M68.1 206.5h0.9M69.6 207.7h0.9M67.9 204.3h0.9M69.0 206.5h0.9M69.6 209.7h0.9M70.7 211.6h0.9M70.6 210.0h0.9M70.1 210.9h0.9M70.0 214.5h0.9M71.6 213.9h0.9M70.5 213.5h0.9M70.1 214.5h0.9M70.9 215.6h0.9M69.9 217.5h0.9M69.6 217.4h0.9M70.9 218.8h0.9M69.5 222.2h0.9M68.7 221.3h0.9M70.0 219.3h0.9M69.7 219.0h0.9M69.4 223.7h0.9M68.4 222.6h0.9M66.4 223.1h0.9M67.4 223.0h0.9M65.7 220.7h0.9M65.5 222.4h0.9M65.0 219.5h0.9M65.7 222.0h0.9M64.7 218.5h0.9M65.0 217.2h0.9M65.8 216.6h0.9M64.8 217.3h0.9M64.7 214.0h0.9M64.5 215.4h0.9M63.9 214.9h0.9M64.4 213.2h0.9M63.9 210.6h0.9M64.2 204.6h0.9M63.7 209.2h0.9M65.0 209.5h0.9M64.6 209.7h0.9M64.8 209.0h0.9M64.8 210.3h0.9" stroke="#8eaad2" stroke-width="0.9" stroke-linecap="round"/>
<path d="M110.74 178.04 C111.25 177.26 112.47 176.67 113.45 176.49 C114.43 176.30 115.68 176.57 116.62 176.92 C117.55 177.26 118.74 177.81 119.06 178.55 C119.38 179.30 118.88 180.63 118.52 181.39 C118.16 182.15 117.30 182.39 116.89 183.11 C116.48 183.83 116.33 184.96 116.07 185.69 C115.82 186.42 115.61 187.68 115.35 187.50 C115.09 187.31 115.00 185.29 114.54 184.57 C114.07 183.86 113.24 183.77 112.55 183.20 C111.85 182.62 110.67 181.99 110.37 181.13 C110.07 180.27 110.22 178.81 110.74 178.04Z" fill="#1f5fae"/>
<path d="M112.3 177.9h0.9M113.3 177.6h0.9M112.0 176.0h0.9M115.5 175.3h0.9M114.0 174.7h0.9M115.8 177.1h0.9M118.9 178.2h0.9M119.0 176.6h0.9M118.5 176.4h0.9M118.7 180.6h0.9M119.8 178.0h0.9M118.4 180.0h0.9M117.8 182.1h0.9M119.3 182.2h0.9M116.3 184.4h0.9M116.3 185.2h0.9M116.9 184.2h0.9M115.7 188.6h0.9M115.7 187.5h0.9M115.2 186.0h0.9M115.5 187.8h0.9M114.6 186.0h0.9M113.7 183.1h0.9M112.1 183.8h0.9M114.1 183.9h0.9M111.4 182.3h0.9M110.7 182.8h0.9M111.0 181.6h0.9M110.7 178.4h0.9M111.1 181.3h0.9M109.3 180.1h0.9" stroke="#1f5fae" stroke-width="0.9" stroke-linecap="round"/>
<ellipse cx="83.13" cy="190.94" rx="2.70" ry="0.81" transform="rotate(30 83.13 190.94)" fill="#8eaad2"/>
<ellipse cx="84.49" cy="196.70" rx="1.44" ry="0.72" transform="rotate(35 84.49 196.70)" fill="#4e84c2"/>
<ellipse cx="83.13" cy="202.63" rx="1.35" ry="0.63" transform="rotate(40 83.13 202.63)" fill="#4e84c2"/>
<ellipse cx="87.39" cy="206.93" rx="0.81" ry="1.98" transform="rotate(10 87.39 206.93)" fill="#2d6cb6"/>
<ellipse cx="88.74" cy="190.42" rx="0.81" ry="0.72" transform="rotate(0 88.74 190.42)" fill="#8eaad2"/>
<ellipse cx="91.55" cy="197.73" rx="0.72" ry="0.63" transform="rotate(0 91.55 197.73)" fill="#4e84c2"/>
<ellipse cx="94.72" cy="175.46" rx="1.98" ry="0.63" transform="rotate(30 94.72 175.46)" fill="#94aed6"/>
<ellipse cx="76.53" cy="202.03" rx="1.08" ry="0.54" transform="rotate(30 76.53 202.03)" fill="#4e84c2"/>
<ellipse cx="32.45" cy="187.41" rx="2.25" ry="0.45" transform="rotate(-60 32.45 187.41)" fill="#8eaad2"/>
<ellipse cx="37.43" cy="160.49" rx="1.35" ry="0.45" transform="rotate(-30 37.43 160.49)" fill="#2864b2"/>
<ellipse cx="79.51" cy="152.15" rx="1.62" ry="0.45" transform="rotate(-40 79.51 152.15)" fill="#8eaad2"/>
<ellipse cx="68.20" cy="184.40" rx="9.90" ry="6.88" fill="#5a8cc6"/>
</g>
<rect x="26.40" y="139.40" width="99.2" height="89.4" fill="none" stroke="#4d4d4d" stroke-width="0.85"/>
<text x="118.90" y="146.60" font-size="6.3" text-anchor="end" font-weight="normal" fill="#3a78bd" >Fresh c-Kit+</text>
<g filter="url(#usparse)">
<path d="M155.91 159.03 C157.57 158.24 161.64 158.46 164.06 158.17 C166.47 157.88 168.28 157.31 170.39 157.31 C172.50 157.31 174.76 157.67 176.73 158.17 C178.69 158.67 180.80 159.25 182.16 160.32 C183.51 161.39 184.57 162.76 184.87 164.62 C185.17 166.48 184.12 169.21 183.97 171.50 C183.81 173.79 184.12 176.37 183.97 178.38 C183.81 180.39 183.66 182.11 183.06 183.54 C182.46 184.97 181.25 186.12 180.35 186.98 C179.44 187.84 178.69 187.84 177.63 188.70 C176.57 189.56 175.22 191.14 174.01 192.14 C172.80 193.14 171.75 194.43 170.39 194.72 C169.03 195.01 167.37 194.43 165.87 193.86 C164.36 193.29 162.77 192.07 161.34 191.28 C159.91 190.49 158.32 190.28 157.27 189.13 C156.21 187.98 155.38 186.48 155.00 184.40 C154.63 182.32 155.16 179.10 155.00 176.66 C154.85 174.22 154.25 172.07 154.10 169.78 C153.95 167.49 153.80 164.69 154.10 162.90 C154.40 161.11 154.25 159.82 155.91 159.03Z" fill="#7c9fcd"/>
<path d="M157.9 159.3h0.9M158.6 158.8h0.9M160.0 158.9h0.9M156.6 159.5h0.9M161.5 159.3h0.9M160.8 157.4h0.9M157.0 159.1h0.9M156.7 158.2h0.9M163.2 156.6h0.9M159.1 158.5h0.9M165.9 157.3h0.9M167.4 157.7h0.9M169.1 157.9h0.9M164.5 158.9h0.9M164.1 157.9h0.9M168.2 157.7h0.9M169.4 156.8h0.9M170.9 157.7h0.9M171.5 156.8h0.9M173.6 157.2h0.9M173.2 157.4h0.9M171.5 157.8h0.9M174.2 157.8h0.9M171.3 157.0h0.9M179.1 157.4h0.9M178.9 158.0h0.9M181.4 158.5h0.9M176.3 158.8h0.9M180.1 159.5h0.9M182.8 159.1h0.9M178.6 159.8h0.9M182.3 161.1h0.9M184.6 162.7h0.9M183.6 159.6h0.9M182.1 160.7h0.9M184.6 162.8h0.9M182.7 162.4h0.9M185.2 168.5h0.9M185.7 167.5h0.9M184.0 167.2h0.9M184.7 169.4h0.9M185.7 167.8h0.9M183.7 171.5h0.9M184.8 166.2h0.9M183.9 170.7h0.9M183.9 172.4h0.9M184.8 175.1h0.9M186.0 177.2h0.9M185.2 174.5h0.9M184.9 178.0h0.9M184.4 174.2h0.9M184.9 173.6h0.9M185.0 173.9h0.9M183.1 181.4h0.9M182.8 182.5h0.9M183.9 183.4h0.9M183.2 180.1h0.9M184.5 179.6h0.9M183.7 180.9h0.9M183.2 184.9h0.9M182.6 183.4h0.9M183.3 184.9h0.9M182.5 186.5h0.9M181.4 185.4h0.9M178.7 188.5h0.9M178.1 189.0h0.9M180.5 187.8h0.9M178.8 188.6h0.9M174.8 193.0h0.9M175.0 190.4h0.9M175.7 191.2h0.9M175.6 191.1h0.9M176.5 191.6h0.9M175.6 190.6h0.9M172.6 194.2h0.9M174.5 193.2h0.9M172.2 193.3h0.9M171.4 193.5h0.9M172.0 195.1h0.9M169.8 195.6h0.9M166.1 193.5h0.9M166.8 193.1h0.9M168.9 194.0h0.9M169.5 196.6h0.9M162.1 193.4h0.9M165.8 194.1h0.9M164.7 194.3h0.9M165.0 194.6h0.9M162.8 193.3h0.9M161.7 192.2h0.9M160.6 189.8h0.9M159.1 190.8h0.9M158.5 190.0h0.9M160.8 193.1h0.9M157.8 191.2h0.9M155.6 189.6h0.9M154.9 185.0h0.9M155.7 186.3h0.9M155.7 189.3h0.9M154.1 185.7h0.9M155.6 188.8h0.9M155.4 180.7h0.9M154.6 185.0h0.9M154.5 180.7h0.9M154.6 178.1h0.9M154.5 180.2h0.9M155.6 182.6h0.9M153.6 185.1h0.9M154.0 179.7h0.9M155.0 176.8h0.9M155.1 175.5h0.9M153.3 175.8h0.9M153.5 172.3h0.9M153.6 171.9h0.9M155.0 175.2h0.9M153.2 176.4h0.9M154.3 171.1h0.9M153.1 174.4h0.9M153.3 166.1h0.9M153.1 164.3h0.9M154.9 166.7h0.9M152.7 166.8h0.9M153.6 162.3h0.9M153.7 168.2h0.9M153.3 168.7h0.9M154.6 162.8h0.9M155.8 159.0h0.9M154.7 160.7h0.9M155.0 162.8h0.9M153.9 160.6h0.9M155.3 158.0h0.9" stroke="#7c9fcd" stroke-width="0.9" stroke-linecap="round"/>
<path d="M155.82 155.33 C156.60 154.59 158.16 154.07 159.53 154.13 C160.90 154.19 162.77 155.86 164.06 155.68 C165.34 155.49 166.38 154.24 167.22 153.01 C168.07 151.78 168.84 149.86 169.12 148.28 C169.41 146.70 168.79 144.52 168.94 143.55 C169.09 142.58 169.67 142.43 170.03 142.43 C170.39 142.43 170.90 142.58 171.11 143.55 C171.33 144.52 171.11 146.95 171.30 148.28 C171.48 149.61 171.72 150.72 172.20 151.55 C172.68 152.38 173.92 152.35 174.19 153.27 C174.46 154.19 174.61 156.08 173.83 157.05 C173.04 158.03 171.11 158.69 169.49 159.12 C167.86 159.55 165.71 159.26 164.06 159.63 C162.40 160.00 160.81 161.04 159.53 161.35 C158.25 161.67 157.15 161.98 156.36 161.52 C155.58 161.07 154.91 159.63 154.82 158.60 C154.73 157.57 155.04 156.08 155.82 155.33Z" fill="#3a74b8"/>
<path d="M157.4 154.7h0.9M155.2 155.3h0.9M157.3 154.4h0.9M157.0 154.5h0.9M161.6 155.3h0.9M161.4 154.5h0.9M159.0 154.9h0.9M161.9 155.8h0.9M163.0 155.2h0.9M164.9 154.7h0.9M163.4 156.6h0.9M165.1 154.3h0.9M166.0 154.4h0.9M164.4 154.8h0.9M168.5 149.5h0.9M168.6 150.8h0.9M168.9 148.3h0.9M168.4 150.0h0.9M168.0 152.7h0.9M167.8 150.2h0.9M169.6 145.6h0.9M169.2 144.6h0.9M170.2 146.5h0.9M169.0 148.1h0.9M169.6 147.1h0.9M169.3 142.5h0.9M171.1 141.6h0.9M171.0 145.5h0.9M172.0 143.2h0.9M172.5 147.0h0.9M171.0 147.0h0.9M171.3 144.2h0.9M171.2 149.8h0.9M171.5 148.5h0.9M172.7 150.6h0.9M173.0 149.1h0.9M172.6 152.8h0.9M173.4 151.6h0.9M173.7 152.9h0.9M174.8 153.8h0.9M175.6 156.3h0.9M173.9 154.3h0.9M174.8 156.8h0.9M171.5 158.3h0.9M171.2 158.3h0.9M173.1 157.8h0.9M172.7 157.7h0.9M172.3 158.6h0.9M171.2 159.3h0.9M168.6 160.4h0.9M168.8 160.5h0.9M167.5 159.2h0.9M165.4 159.3h0.9M167.3 159.9h0.9M168.4 158.8h0.9M160.5 161.3h0.9M160.1 160.8h0.9M160.6 160.5h0.9M161.0 161.6h0.9M161.0 161.0h0.9M160.6 161.4h0.9M157.8 161.3h0.9M157.3 162.0h0.9M159.4 161.2h0.9M154.7 161.6h0.9M155.0 159.9h0.9M154.5 159.1h0.9M154.6 160.8h0.9M156.8 156.0h0.9M154.1 158.2h0.9M154.8 156.8h0.9M154.3 156.7h0.9" stroke="#3a74b8" stroke-width="0.9" stroke-linecap="round"/>
<path d="M180.53 161.70 C181.25 160.76 182.79 160.81 183.97 160.75 C185.14 160.69 186.38 160.92 187.59 161.35 C188.79 161.78 190.15 162.50 191.20 163.33 C192.26 164.16 193.02 165.05 193.92 166.34 C194.83 167.63 195.81 169.85 196.63 171.07 C197.46 172.29 198.22 172.75 198.90 173.65 C199.58 174.55 201.08 175.99 200.71 176.49 C200.33 176.99 197.92 176.55 196.63 176.66 C195.35 176.77 194.15 176.67 193.01 177.18 C191.88 177.68 190.90 178.97 189.85 179.67 C188.79 180.37 187.81 181.18 186.68 181.39 C185.55 181.61 184.04 181.61 183.06 180.96 C182.08 180.31 181.33 178.95 180.80 177.52 C180.27 176.09 180.09 174.22 179.89 172.36 C179.70 170.50 179.52 168.12 179.62 166.34 C179.73 164.56 179.80 162.63 180.53 161.70Z" fill="#94b2d8"/>
<path d="M182.4 159.9h0.9M183.7 160.2h0.9M180.4 161.5h0.9M180.0 160.7h0.9M185.3 159.3h0.9M186.1 161.5h0.9M187.4 161.4h0.9M185.2 161.2h0.9M188.3 162.9h0.9M191.6 162.9h0.9M188.4 160.8h0.9M187.9 160.6h0.9M190.1 163.0h0.9M193.2 166.6h0.9M194.3 166.0h0.9M192.8 163.7h0.9M193.3 166.0h0.9M191.9 164.0h0.9M194.6 166.8h0.9M195.7 169.7h0.9M196.6 168.4h0.9M194.3 165.7h0.9M195.7 168.7h0.9M196.2 169.7h0.9M200.1 173.8h0.9M197.2 171.8h0.9M197.6 171.8h0.9M197.0 172.7h0.9M198.8 174.1h0.9M199.8 174.6h0.9M200.6 174.6h0.9M200.9 175.4h0.9M201.2 176.7h0.9M201.6 177.4h0.9M199.6 176.7h0.9M200.7 176.7h0.9M200.8 176.1h0.9M194.4 177.6h0.9M195.5 177.5h0.9M194.9 177.7h0.9M196.0 178.1h0.9M191.6 179.2h0.9M191.8 178.9h0.9M191.8 177.5h0.9M191.8 178.6h0.9M193.3 179.0h0.9M188.0 180.4h0.9M189.7 180.5h0.9M188.2 180.2h0.9M187.0 181.3h0.9M183.3 182.1h0.9M183.8 181.0h0.9M185.9 180.6h0.9M185.5 180.8h0.9M182.0 181.0h0.9M181.5 179.6h0.9M179.8 178.5h0.9M181.1 177.1h0.9M181.7 180.8h0.9M179.5 177.8h0.9M179.5 172.8h0.9M180.5 173.4h0.9M178.8 174.6h0.9M178.4 175.1h0.9M180.6 176.3h0.9M179.0 171.4h0.9M179.7 168.8h0.9M179.8 172.1h0.9M178.8 167.6h0.9M179.3 168.6h0.9M180.3 170.0h0.9M179.7 168.2h0.9M180.1 161.7h0.9M179.6 161.8h0.9M180.2 162.4h0.9M179.4 164.0h0.9M180.1 161.7h0.9" stroke="#94b2d8" stroke-width="0.9" stroke-linecap="round"/>
<path d="M138.35 163.93 C138.96 163.30 139.95 162.36 140.16 162.56 C140.37 162.76 139.59 164.29 139.62 165.14 C139.65 165.98 139.82 166.57 140.34 167.63 C140.87 168.69 141.78 170.00 142.79 171.50 C143.80 173.00 145.28 175.16 146.41 176.66 C147.54 178.16 149.27 179.24 149.57 180.53 C149.88 181.82 148.75 183.47 148.22 184.40 C147.69 185.33 147.46 186.19 146.41 186.12 C145.35 186.05 143.32 185.04 141.88 183.97 C140.45 182.90 138.97 181.32 137.81 179.67 C136.65 178.02 135.43 175.87 134.91 174.08 C134.40 172.29 134.46 170.21 134.73 168.92 C135.00 167.63 135.94 167.17 136.54 166.34 C137.15 165.51 137.75 164.56 138.35 163.93Z" fill="#86a6d2"/>
<path d="M138.2 164.0h0.9M139.4 162.1h0.9M139.5 162.3h0.9M139.5 164.3h0.9M140.3 165.3h0.9M140.6 166.8h0.9M140.0 166.0h0.9M139.9 165.5h0.9M142.2 169.4h0.9M140.6 167.4h0.9M143.2 170.2h0.9M142.7 169.7h0.9M141.3 169.0h0.9M146.2 175.9h0.9M144.6 173.9h0.9M144.3 173.0h0.9M146.4 176.3h0.9M145.9 174.9h0.9M146.1 175.8h0.9M143.3 171.2h0.9M148.7 179.9h0.9M149.2 179.2h0.9M147.7 178.7h0.9M148.2 178.8h0.9M148.5 178.7h0.9M148.1 178.8h0.9M150.6 181.3h0.9M149.9 181.1h0.9M148.5 184.8h0.9M148.3 182.8h0.9M150.4 182.5h0.9M146.8 185.2h0.9M147.6 187.4h0.9M147.3 184.9h0.9M144.1 186.2h0.9M145.6 185.8h0.9M142.4 185.0h0.9M145.2 184.8h0.9M142.5 183.7h0.9M144.8 186.0h0.9M140.3 182.5h0.9M142.2 183.7h0.9M141.0 182.8h0.9M137.5 180.0h0.9M140.9 184.1h0.9M141.3 183.7h0.9M141.0 183.5h0.9M137.8 177.6h0.9M136.6 176.8h0.9M134.3 175.3h0.9M136.1 176.0h0.9M133.6 174.8h0.9M135.8 176.2h0.9M135.5 177.1h0.9M133.8 173.8h0.9M133.9 171.3h0.9M134.3 169.2h0.9M135.6 173.5h0.9M135.0 169.8h0.9M134.6 173.1h0.9M135.4 168.8h0.9M136.0 167.0h0.9M136.4 166.5h0.9M136.3 166.0h0.9M137.6 165.6h0.9M137.5 166.2h0.9" stroke="#86a6d2" stroke-width="0.9" stroke-linecap="round"/>
<path d="M143.24 171.50 C143.39 170.31 145.65 170.30 146.86 169.95 C148.07 169.61 149.12 169.39 150.48 169.44 C151.84 169.48 153.62 169.65 155.00 170.21 C156.39 170.77 158.05 171.72 158.81 172.79 C159.56 173.87 159.56 175.30 159.53 176.66 C159.50 178.02 159.30 179.74 158.62 180.96 C157.95 182.18 156.51 183.43 155.46 183.97 C154.40 184.51 153.35 184.70 152.29 184.23 C151.23 183.75 150.18 182.32 149.12 181.13 C148.07 179.94 146.94 178.70 145.95 177.09 C144.97 175.48 143.09 172.69 143.24 171.50Z" fill="#5f8dc8"/>
<path d="M143.5 171.1h0.9M146.0 170.7h0.9M146.4 170.0h0.9M143.4 171.4h0.9M147.9 168.0h0.9M148.4 169.5h0.9M149.5 168.4h0.9M149.5 168.6h0.9M152.1 169.5h0.9M152.5 170.2h0.9M153.3 168.1h0.9M151.4 168.2h0.9M153.4 168.2h0.9M156.5 170.7h0.9M155.1 170.1h0.9M156.5 171.1h0.9M158.6 171.9h0.9M155.9 171.1h0.9M159.9 176.0h0.9M158.8 173.9h0.9M160.1 173.0h0.9M158.7 174.2h0.9M160.6 177.3h0.9M159.6 177.7h0.9M159.2 178.9h0.9M160.3 177.6h0.9M159.6 181.0h0.9M158.9 181.3h0.9M155.7 182.4h0.9M159.0 182.5h0.9M157.2 183.4h0.9M156.2 183.0h0.9M153.0 184.1h0.9M153.4 184.3h0.9M154.2 183.4h0.9M149.6 182.2h0.9M149.9 183.0h0.9M152.0 185.7h0.9M151.4 185.2h0.9M148.9 181.5h0.9M149.5 180.7h0.9M147.4 179.2h0.9M148.2 178.8h0.9M148.4 180.0h0.9M147.2 179.5h0.9M145.7 177.3h0.9M142.0 171.5h0.9M143.7 175.1h0.9M142.9 172.0h0.9M145.6 174.7h0.9M144.2 173.9h0.9M141.4 171.1h0.9M146.7 176.3h0.9" stroke="#5f8dc8" stroke-width="0.9" stroke-linecap="round"/>
<path d="M145.23 187.50 C146.08 186.56 147.46 185.60 148.67 184.83 C149.88 184.06 151.57 182.71 152.47 182.85 C153.38 183.00 153.98 184.72 154.10 185.69 C154.22 186.66 153.72 187.62 153.19 188.70 C152.67 189.77 151.76 190.99 150.93 192.14 C150.10 193.29 149.11 194.52 148.22 195.58 C147.33 196.64 146.35 198.43 145.59 198.50 C144.84 198.58 144.05 197.00 143.69 196.01 C143.33 195.02 143.80 192.93 143.42 192.57 C143.04 192.21 142.59 193.50 141.43 193.86 C140.27 194.22 137.42 194.65 136.45 194.72 C135.49 194.79 134.96 194.55 135.64 194.29 C136.32 194.03 139.20 193.82 140.53 193.17 C141.85 192.53 142.82 191.37 143.60 190.42 C144.39 189.47 144.39 188.43 145.23 187.50Z" fill="#a8bcd8"/>
<path d="M146.0 186.1h0.9M146.0 186.7h0.9M147.0 187.1h0.9M145.2 186.2h0.9M147.7 184.1h0.9M150.4 183.8h0.9M149.0 184.5h0.9M150.4 183.5h0.9M149.2 184.5h0.9M150.1 183.6h0.9M153.3 182.7h0.9M154.1 185.3h0.9M152.8 185.0h0.9M153.9 184.2h0.9M154.0 187.3h0.9M153.6 187.8h0.9M153.1 188.0h0.9M151.9 190.0h0.9M152.6 190.7h0.9M152.8 190.8h0.9M152.9 190.3h0.9M151.9 189.9h0.9M150.1 193.2h0.9M148.9 193.4h0.9M152.2 192.3h0.9M151.2 193.9h0.9M149.2 193.8h0.9M147.1 198.0h0.9M148.6 197.3h0.9M146.4 199.1h0.9M148.2 195.2h0.9M143.2 196.7h0.9M144.2 196.4h0.9M143.8 196.0h0.9M143.4 194.0h0.9M142.7 194.0h0.9M142.9 194.5h0.9M143.7 196.0h0.9M143.2 193.3h0.9M141.9 193.3h0.9M138.8 194.5h0.9M137.9 194.1h0.9M140.3 194.1h0.9M135.7 195.4h0.9M137.7 194.3h0.9M136.8 195.1h0.9M136.2 194.7h0.9M138.9 193.7h0.9M136.8 193.8h0.9M137.9 193.4h0.9M136.1 194.0h0.9M137.0 194.5h0.9M136.8 194.3h0.9M141.3 191.9h0.9M141.4 191.7h0.9M140.7 192.3h0.9M141.5 192.2h0.9M141.6 192.2h0.9M143.7 187.3h0.9M143.5 188.9h0.9M143.5 188.6h0.9M143.9 190.1h0.9" stroke="#a8bcd8" stroke-width="0.9" stroke-linecap="round"/>
<path d="M157.00 187.50 C157.70 186.66 159.56 188.31 160.89 188.87 C162.21 189.43 163.68 190.16 164.96 190.85 C166.24 191.54 167.45 192.00 168.58 193.00 C169.71 194.00 171.11 195.58 171.75 196.87 C172.38 198.16 172.38 199.38 172.38 200.74 C172.38 202.10 172.23 203.82 171.75 205.04 C171.26 206.26 170.47 207.51 169.49 208.05 C168.50 208.59 167.07 208.44 165.87 208.31 C164.66 208.18 163.30 207.91 162.25 207.28 C161.19 206.65 160.25 205.69 159.53 204.52 C158.81 203.36 158.38 202.09 157.90 200.31 C157.42 198.53 156.78 196.00 156.63 193.86 C156.48 191.72 156.29 188.33 157.00 187.50Z" fill="#7aa0d0"/>
<path d="M157.8 188.1h0.9M160.0 188.2h0.9M159.9 188.2h0.9M159.6 188.1h0.9M159.0 187.9h0.9M162.0 188.8h0.9M164.3 191.3h0.9M162.4 188.9h0.9M163.1 188.6h0.9M162.6 189.4h0.9M165.8 191.6h0.9M168.1 192.3h0.9M167.8 192.6h0.9M166.1 191.1h0.9M167.8 190.9h0.9M171.3 195.7h0.9M168.5 192.2h0.9M170.4 196.0h0.9M171.0 196.6h0.9M170.2 194.8h0.9M170.1 192.9h0.9M171.4 197.5h0.9M171.8 197.7h0.9M173.3 196.8h0.9M171.8 198.7h0.9M172.1 204.7h0.9M171.3 203.4h0.9M172.5 202.5h0.9M171.1 202.0h0.9M172.0 203.4h0.9M170.5 208.8h0.9M170.7 208.1h0.9M170.3 207.0h0.9M170.9 208.4h0.9M168.1 209.4h0.9M168.5 209.8h0.9M169.3 207.6h0.9M167.3 209.1h0.9M165.6 208.1h0.9M165.9 208.0h0.9M163.8 207.2h0.9M164.7 209.8h0.9M159.9 206.8h0.9M161.5 205.7h0.9M160.2 204.4h0.9M159.5 205.9h0.9M159.8 204.5h0.9M159.5 204.2h0.9M159.9 203.9h0.9M159.1 201.9h0.9M159.3 204.7h0.9M155.7 193.3h0.9M158.2 199.5h0.9M157.6 198.5h0.9M158.5 198.8h0.9M157.6 198.0h0.9M157.6 197.4h0.9M157.5 196.5h0.9M156.6 196.1h0.9M156.4 190.3h0.9M156.9 188.1h0.9M157.1 192.9h0.9M156.0 193.7h0.9M156.3 191.7h0.9M156.9 190.5h0.9M156.0 189.9h0.9" stroke="#7aa0d0" stroke-width="0.9" stroke-linecap="round"/>
<path d="M172.20 187.67 C172.68 186.88 174.01 186.46 174.92 186.12 C175.82 185.78 176.80 185.32 177.63 185.60 C178.46 185.89 179.29 186.89 179.89 187.84 C180.50 188.79 180.87 190.06 181.25 191.28 C181.63 192.50 182.08 194.03 182.16 195.15 C182.23 196.27 182.31 197.43 181.70 197.99 C181.10 198.55 179.52 198.69 178.54 198.50 C177.55 198.32 176.72 197.57 175.82 196.87 C174.91 196.17 173.74 195.29 173.11 194.29 C172.47 193.29 172.17 191.95 172.02 190.85 C171.87 189.75 171.72 188.46 172.20 187.67Z" fill="#a4bad8"/>
<path d="M174.1 186.8h0.9M171.9 187.0h0.9M173.2 187.1h0.9M177.7 183.7h0.9M175.7 184.5h0.9M175.7 186.6h0.9M179.6 188.0h0.9M179.1 185.8h0.9M177.9 184.9h0.9M181.9 190.2h0.9M179.2 188.6h0.9M180.6 187.1h0.9M180.7 188.9h0.9M182.0 192.0h0.9M181.9 192.9h0.9M181.9 191.4h0.9M181.2 192.5h0.9M182.9 197.2h0.9M181.3 195.4h0.9M183.3 196.9h0.9M180.4 198.1h0.9M180.5 198.0h0.9M181.0 197.2h0.9M179.5 198.6h0.9M177.9 198.8h0.9M175.8 197.5h0.9M177.0 197.2h0.9M176.2 197.1h0.9M174.4 195.2h0.9M175.2 196.7h0.9M173.9 194.2h0.9M171.6 193.3h0.9M171.6 192.0h0.9M170.9 192.6h0.9M172.7 193.3h0.9M172.5 188.4h0.9M171.6 186.5h0.9M171.4 189.4h0.9" stroke="#a4bad8" stroke-width="0.9" stroke-linecap="round"/>
<path d="M171.84 199.54 C172.41 199.39 173.95 201.04 174.92 202.03 C175.88 203.02 176.48 204.18 177.63 205.47 C178.78 206.76 181.64 209.04 181.79 209.77 C181.94 210.50 179.59 209.99 178.54 209.86 C177.48 209.73 176.44 209.58 175.46 209.00 C174.48 208.41 173.32 207.35 172.65 206.33 C171.99 205.31 171.61 204.02 171.48 202.89 C171.34 201.76 171.26 199.68 171.84 199.54Z" fill="#b0c2da"/>
<path d="M174.0 201.8h0.9M172.9 200.4h0.9M174.5 200.9h0.9M171.7 199.5h0.9M175.9 202.6h0.9M177.2 204.8h0.9M176.3 204.9h0.9M174.9 202.6h0.9M174.7 200.8h0.9M181.9 209.9h0.9M181.0 208.4h0.9M180.9 208.9h0.9M179.8 207.2h0.9M182.5 210.3h0.9M180.9 207.5h0.9M181.4 209.3h0.9M179.9 210.0h0.9M178.7 209.1h0.9M179.5 210.8h0.9M181.4 210.3h0.9M176.2 209.2h0.9M176.5 210.0h0.9M177.2 210.0h0.9M174.5 207.0h0.9M174.6 208.0h0.9M174.0 208.2h0.9M174.2 208.2h0.9M172.1 205.8h0.9M173.1 205.7h0.9M171.1 204.8h0.9M170.5 203.4h0.9M171.4 200.6h0.9M171.7 201.2h0.9M171.2 200.2h0.9M172.0 202.5h0.9" stroke="#b0c2da" stroke-width="0.9" stroke-linecap="round"/>
<path d="M169.03 206.33 C169.59 205.04 170.92 205.18 171.75 205.47 C172.58 205.76 173.56 207.03 174.01 208.05 C174.46 209.07 174.49 210.43 174.46 211.58 C174.43 212.72 173.96 213.80 173.83 214.93 C173.69 216.06 173.83 217.22 173.65 218.37 C173.47 219.52 173.04 220.94 172.74 221.81 C172.44 222.68 172.32 223.46 171.84 223.62 C171.36 223.77 170.36 223.42 169.85 222.76 C169.33 222.10 168.91 220.75 168.76 219.66 C168.61 218.57 169.00 217.30 168.94 216.22 C168.88 215.14 168.38 214.86 168.40 213.21 C168.41 211.56 168.47 207.62 169.03 206.33Z" fill="#6892c8"/>
<path d="M169.7 205.9h0.9M170.0 204.7h0.9M169.2 204.4h0.9M174.4 206.4h0.9M172.4 205.7h0.9M172.5 205.8h0.9M172.6 206.1h0.9M173.9 208.1h0.9M174.5 210.3h0.9M174.0 210.1h0.9M174.1 208.0h0.9M173.9 213.0h0.9M174.8 210.7h0.9M173.9 213.2h0.9M173.9 214.3h0.9M173.7 217.2h0.9M174.4 218.5h0.9M173.5 217.8h0.9M173.0 215.2h0.9M173.2 219.1h0.9M173.5 221.7h0.9M174.0 220.5h0.9M173.6 219.3h0.9M172.6 222.5h0.9M172.7 222.9h0.9M170.2 223.8h0.9M171.0 223.7h0.9M169.1 222.5h0.9M169.7 223.9h0.9M169.6 221.0h0.9M169.0 221.2h0.9M167.9 217.8h0.9M169.5 216.6h0.9M168.7 219.3h0.9M168.3 216.7h0.9M168.8 213.8h0.9M167.1 214.6h0.9M168.0 216.1h0.9M167.9 211.4h0.9M169.1 209.6h0.9M168.0 209.5h0.9M168.6 211.8h0.9M168.4 212.6h0.9M168.5 208.0h0.9M168.4 210.0h0.9M168.2 209.0h0.9" stroke="#6892c8" stroke-width="0.9" stroke-linecap="round"/>
<path d="M214.74 178.04 C215.25 177.26 216.47 176.67 217.45 176.49 C218.43 176.30 219.68 176.57 220.62 176.92 C221.55 177.26 222.74 177.81 223.06 178.55 C223.38 179.30 222.88 180.63 222.52 181.39 C222.16 182.15 221.30 182.39 220.89 183.11 C220.48 183.83 220.33 184.96 220.07 185.69 C219.82 186.42 219.61 187.68 219.35 187.50 C219.09 187.31 219.00 185.29 218.54 184.57 C218.07 183.86 217.24 183.77 216.55 183.20 C215.85 182.62 214.67 181.99 214.37 181.13 C214.07 180.27 214.22 178.81 214.74 178.04Z" fill="#d4d5d8"/>
<path d="M215.1 177.5h0.9M214.1 177.4h0.9M214.3 177.5h0.9M219.1 175.3h0.9M220.0 177.9h0.9M217.7 175.6h0.9M223.2 178.3h0.9M221.8 176.6h0.9M222.6 178.1h0.9M223.0 179.1h0.9M223.8 178.8h0.9M222.2 181.1h0.9M223.8 181.3h0.9M221.3 183.1h0.9M220.9 186.2h0.9M220.7 185.5h0.9M221.0 184.6h0.9M219.0 187.7h0.9M219.6 187.2h0.9M218.3 186.1h0.9M218.5 187.0h0.9M218.3 184.2h0.9M218.2 184.9h0.9M217.3 185.1h0.9M216.8 184.0h0.9M215.0 182.5h0.9M216.1 184.1h0.9M215.9 183.0h0.9M212.7 179.8h0.9M213.0 180.4h0.9M213.0 177.6h0.9" stroke="#d4d5d8" stroke-width="0.9" stroke-linecap="round"/>
<ellipse cx="187.13" cy="190.94" rx="2.70" ry="0.81" transform="rotate(30 187.13 190.94)" fill="#b4c4da"/>
<ellipse cx="188.49" cy="196.70" rx="1.44" ry="0.72" transform="rotate(35 188.49 196.70)" fill="#b4c4da"/>
<ellipse cx="187.13" cy="202.63" rx="1.35" ry="0.63" transform="rotate(40 187.13 202.63)" fill="#b4c4da"/>
<ellipse cx="191.39" cy="206.93" rx="0.81" ry="1.98" transform="rotate(10 191.39 206.93)" fill="#c4ccda"/>
<ellipse cx="192.74" cy="190.42" rx="0.81" ry="0.72" transform="rotate(0 192.74 190.42)" fill="#b4c4da"/>
<ellipse cx="195.55" cy="197.73" rx="0.72" ry="0.63" transform="rotate(0 195.55 197.73)" fill="#b4c4da"/>
<ellipse cx="198.72" cy="175.46" rx="1.98" ry="0.63" transform="rotate(30 198.72 175.46)" fill="#94b2d8"/>
<ellipse cx="180.53" cy="202.03" rx="1.08" ry="0.54" transform="rotate(30 180.53 202.03)" fill="#b4c4da"/>
<ellipse cx="136.45" cy="187.41" rx="2.25" ry="0.45" transform="rotate(-60 136.45 187.41)" fill="#b4c4da"/>
<ellipse cx="141.43" cy="160.49" rx="1.35" ry="0.45" transform="rotate(-30 141.43 160.49)" fill="#86a6d2"/>
<ellipse cx="183.51" cy="152.15" rx="1.62" ry="0.45" transform="rotate(-40 183.51 152.15)" fill="#b4c4da"/>
<ellipse cx="163.15" cy="171.50" rx="8.10" ry="8.60" fill="#4a80c0"/>
</g>
<rect x="130.40" y="139.40" width="99.2" height="89.4" fill="none" stroke="#4d4d4d" stroke-width="0.85"/>
<text x="226.50" y="146.60" font-size="6.3" text-anchor="end" font-weight="normal" fill="#3a78bd" >20% O2</text>
<g filter="url(#usparse)">
<path d="M51.91 253.03 C53.57 252.24 57.64 252.46 60.06 252.17 C62.47 251.88 64.28 251.31 66.39 251.31 C68.50 251.31 70.76 251.67 72.73 252.17 C74.69 252.67 76.80 253.25 78.16 254.32 C79.51 255.39 80.57 256.76 80.87 258.62 C81.17 260.48 80.12 263.21 79.97 265.50 C79.81 267.79 80.12 270.37 79.97 272.38 C79.81 274.39 79.66 276.11 79.06 277.54 C78.46 278.97 77.25 280.12 76.35 280.98 C75.44 281.84 74.69 281.84 73.63 282.70 C72.57 283.56 71.22 285.14 70.01 286.14 C68.80 287.14 67.75 288.43 66.39 288.72 C65.03 289.01 63.37 288.43 61.87 287.86 C60.36 287.29 58.77 286.07 57.34 285.28 C55.91 284.49 54.32 284.28 53.27 283.13 C52.21 281.98 51.38 280.48 51.00 278.40 C50.63 276.32 51.16 273.10 51.00 270.66 C50.85 268.22 50.25 266.07 50.10 263.78 C49.95 261.49 49.80 258.69 50.10 256.90 C50.40 255.11 50.25 253.82 51.91 253.03Z" fill="#6a96cc"/>
<path d="M58.4 252.3h0.9M54.2 251.9h0.9M58.5 252.1h0.9M58.7 252.0h0.9M54.4 251.5h0.9M58.5 253.1h0.9M56.0 251.3h0.9M54.0 251.6h0.9M54.4 252.6h0.9M59.0 252.4h0.9M64.8 252.7h0.9M65.1 251.1h0.9M65.2 251.7h0.9M62.4 251.7h0.9M62.8 251.0h0.9M63.0 251.1h0.9M63.5 250.9h0.9M68.8 250.7h0.9M70.4 251.0h0.9M66.4 250.5h0.9M69.1 250.7h0.9M66.2 252.2h0.9M71.9 250.8h0.9M69.4 251.2h0.9M74.5 253.5h0.9M78.4 253.2h0.9M74.0 253.4h0.9M74.9 251.8h0.9M73.2 251.4h0.9M75.8 253.6h0.9M77.2 253.7h0.9M78.2 255.3h0.9M79.0 255.4h0.9M80.2 257.4h0.9M80.2 256.8h0.9M78.1 254.7h0.9M81.1 257.6h0.9M81.2 261.5h0.9M81.6 258.6h0.9M80.5 265.1h0.9M80.6 260.6h0.9M80.5 263.0h0.9M80.8 262.3h0.9M80.1 263.5h0.9M79.9 263.2h0.9M81.1 271.0h0.9M80.5 266.9h0.9M79.7 265.8h0.9M81.0 270.9h0.9M80.6 267.7h0.9M79.7 269.4h0.9M79.2 272.3h0.9M80.4 267.7h0.9M79.3 275.5h0.9M79.2 272.8h0.9M79.0 274.8h0.9M78.9 276.6h0.9M78.7 274.4h0.9M80.3 276.5h0.9M79.7 279.2h0.9M79.1 279.7h0.9M80.4 278.2h0.9M77.7 278.6h0.9M77.9 280.9h0.9M74.3 281.3h0.9M76.1 282.2h0.9M74.8 283.8h0.9M74.4 282.5h0.9M71.6 284.2h0.9M71.8 283.7h0.9M70.8 287.3h0.9M71.7 285.1h0.9M71.0 285.0h0.9M72.7 285.9h0.9M69.3 286.7h0.9M68.5 287.8h0.9M68.5 287.3h0.9M69.6 286.4h0.9M67.7 287.9h0.9M65.3 288.9h0.9M65.9 288.7h0.9M66.3 288.1h0.9M62.9 288.8h0.9M64.5 289.0h0.9M61.1 287.5h0.9M57.5 286.9h0.9M60.0 287.5h0.9M57.6 285.6h0.9M61.6 287.3h0.9M57.8 287.2h0.9M55.9 285.1h0.9M54.7 285.6h0.9M54.4 285.5h0.9M53.8 284.8h0.9M54.9 285.8h0.9M53.7 282.0h0.9M51.7 281.5h0.9M52.6 280.2h0.9M51.5 281.6h0.9M52.4 282.6h0.9M52.5 280.0h0.9M51.2 276.4h0.9M51.0 274.7h0.9M50.0 276.6h0.9M50.6 273.9h0.9M50.4 278.4h0.9M52.0 277.7h0.9M50.8 278.4h0.9M49.8 273.9h0.9M50.4 275.6h0.9M50.3 268.9h0.9M49.5 267.5h0.9M51.6 267.0h0.9M49.8 264.7h0.9M49.9 265.7h0.9M50.9 265.6h0.9M49.5 266.4h0.9M50.7 269.8h0.9M50.0 260.9h0.9M49.3 258.1h0.9M49.5 260.8h0.9M50.7 261.9h0.9M49.1 261.0h0.9M49.2 262.5h0.9M49.2 256.2h0.9M49.6 258.6h0.9M51.4 253.7h0.9M50.4 254.9h0.9M50.0 254.5h0.9M50.4 254.6h0.9M50.0 256.6h0.9" stroke="#6a96cc" stroke-width="0.9" stroke-linecap="round"/>
<path d="M51.82 249.33 C52.60 248.59 54.16 248.07 55.53 248.13 C56.90 248.19 58.77 249.86 60.06 249.68 C61.34 249.49 62.38 248.24 63.22 247.01 C64.07 245.78 64.84 243.86 65.12 242.28 C65.41 240.70 64.79 238.52 64.94 237.55 C65.09 236.58 65.67 236.43 66.03 236.43 C66.39 236.43 66.90 236.58 67.11 237.55 C67.33 238.52 67.11 240.95 67.30 242.28 C67.48 243.61 67.72 244.72 68.20 245.55 C68.68 246.38 69.92 246.35 70.19 247.27 C70.46 248.19 70.61 250.08 69.83 251.05 C69.04 252.03 67.11 252.69 65.49 253.12 C63.86 253.55 61.71 253.26 60.06 253.63 C58.40 254.00 56.81 255.04 55.53 255.35 C54.25 255.67 53.15 255.98 52.36 255.52 C51.58 255.07 50.91 253.63 50.82 252.60 C50.73 251.57 51.04 250.08 51.82 249.33Z" fill="#b4c4da"/>
<path d="M50.8 249.7h0.9M55.2 248.5h0.9M51.8 249.2h0.9M51.3 249.4h0.9M55.8 248.7h0.9M57.2 249.4h0.9M58.7 249.1h0.9M56.6 248.8h0.9M57.6 248.6h0.9M64.1 246.7h0.9M60.7 248.7h0.9M63.6 247.8h0.9M61.6 249.0h0.9M61.4 249.4h0.9M64.5 244.9h0.9M64.1 243.5h0.9M64.8 244.7h0.9M62.8 246.2h0.9M63.2 245.6h0.9M63.2 246.0h0.9M65.3 239.7h0.9M64.9 239.1h0.9M65.7 238.3h0.9M64.8 241.9h0.9M64.5 237.8h0.9M65.2 237.2h0.9M67.8 236.4h0.9M67.5 236.2h0.9M67.2 242.2h0.9M67.7 239.5h0.9M66.6 242.1h0.9M67.3 240.7h0.9M66.7 244.2h0.9M69.1 245.5h0.9M69.3 243.8h0.9M66.7 242.7h0.9M68.9 247.0h0.9M71.1 246.8h0.9M71.3 246.0h0.9M71.4 247.8h0.9M69.8 247.9h0.9M69.3 249.3h0.9M71.1 249.0h0.9M67.6 253.4h0.9M68.1 252.4h0.9M67.2 252.8h0.9M68.6 252.4h0.9M70.2 252.4h0.9M66.4 252.7h0.9M61.9 254.4h0.9M63.9 254.1h0.9M64.9 254.4h0.9M60.0 253.7h0.9M60.0 253.6h0.9M63.7 253.6h0.9M57.8 254.9h0.9M57.2 255.3h0.9M58.4 254.7h0.9M57.8 253.5h0.9M55.9 256.3h0.9M59.2 254.8h0.9M54.8 255.3h0.9M54.5 256.0h0.9M52.9 255.4h0.9M50.9 254.1h0.9M51.5 255.0h0.9M51.6 252.5h0.9M50.5 255.0h0.9M50.3 252.1h0.9M51.6 250.8h0.9M51.7 250.2h0.9M50.8 250.2h0.9" stroke="#b4c4da" stroke-width="0.9" stroke-linecap="round"/>
<path d="M76.53 255.70 C77.25 254.76 78.79 254.81 79.97 254.75 C81.14 254.69 82.38 254.92 83.59 255.35 C84.79 255.78 86.15 256.50 87.20 257.33 C88.26 258.16 89.02 259.05 89.92 260.34 C90.83 261.63 91.81 263.85 92.63 265.07 C93.46 266.29 94.22 266.75 94.90 267.65 C95.58 268.55 97.08 269.99 96.71 270.49 C96.33 270.99 93.92 270.55 92.63 270.66 C91.35 270.77 90.15 270.67 89.01 271.18 C87.88 271.68 86.90 272.97 85.85 273.67 C84.79 274.37 83.81 275.17 82.68 275.39 C81.55 275.61 80.04 275.61 79.06 274.96 C78.08 274.32 77.33 272.95 76.80 271.52 C76.27 270.09 76.09 268.22 75.89 266.36 C75.70 264.50 75.52 262.12 75.62 260.34 C75.73 258.56 75.80 256.63 76.53 255.70Z" fill="#4a82c2"/>
<path d="M77.0 255.0h0.9M79.1 254.8h0.9M80.5 255.9h0.9M77.7 254.3h0.9M80.6 255.5h0.9M81.4 254.9h0.9M80.3 255.2h0.9M81.1 255.6h0.9M86.8 256.9h0.9M83.5 254.2h0.9M84.1 255.6h0.9M84.8 256.0h0.9M85.9 255.9h0.9M89.9 259.7h0.9M90.0 259.3h0.9M87.8 258.4h0.9M88.2 259.8h0.9M88.8 260.0h0.9M91.7 261.4h0.9M93.4 264.4h0.9M93.9 264.9h0.9M91.1 262.8h0.9M92.6 265.1h0.9M90.9 259.4h0.9M94.7 266.7h0.9M94.6 266.9h0.9M95.6 267.4h0.9M93.7 265.3h0.9M97.4 270.7h0.9M94.8 267.3h0.9M96.1 269.2h0.9M96.4 269.9h0.9M95.3 270.7h0.9M94.9 270.8h0.9M95.9 270.4h0.9M94.9 270.8h0.9M95.5 271.2h0.9M90.3 271.4h0.9M91.6 271.1h0.9M91.3 271.4h0.9M90.8 271.8h0.9M87.6 273.7h0.9M85.8 273.7h0.9M87.2 273.4h0.9M86.2 273.7h0.9M87.4 273.3h0.9M83.8 274.1h0.9M83.6 274.8h0.9M85.2 273.8h0.9M83.5 276.2h0.9M80.1 275.5h0.9M80.1 276.4h0.9M81.6 274.3h0.9M80.9 275.6h0.9M77.1 270.9h0.9M78.1 275.1h0.9M78.1 272.6h0.9M78.3 275.3h0.9M77.8 272.3h0.9M75.8 271.3h0.9M77.4 269.0h0.9M76.0 271.9h0.9M76.5 270.4h0.9M74.5 267.8h0.9M76.0 268.2h0.9M75.6 261.8h0.9M75.4 262.0h0.9M74.3 264.3h0.9M74.3 264.0h0.9M75.8 262.7h0.9M76.4 261.7h0.9M76.7 264.1h0.9M75.5 258.2h0.9M75.3 256.7h0.9M75.5 256.5h0.9M75.7 256.2h0.9M75.2 258.5h0.9" stroke="#4a82c2" stroke-width="0.9" stroke-linecap="round"/>
<path d="M34.35 257.93 C34.96 257.30 35.95 256.36 36.16 256.56 C36.37 256.76 35.59 258.29 35.62 259.14 C35.65 259.98 35.82 260.57 36.34 261.63 C36.87 262.69 37.78 264.00 38.79 265.50 C39.80 267.00 41.28 269.16 42.41 270.66 C43.54 272.17 45.27 273.24 45.57 274.53 C45.88 275.82 44.75 277.47 44.22 278.40 C43.69 279.33 43.46 280.19 42.41 280.12 C41.35 280.05 39.32 279.05 37.88 277.97 C36.45 276.90 34.97 275.32 33.81 273.67 C32.65 272.02 31.43 269.87 30.91 268.08 C30.40 266.29 30.46 264.21 30.73 262.92 C31.00 261.63 31.94 261.17 32.54 260.34 C33.15 259.51 33.75 258.56 34.35 257.93Z" fill="#d4d5d8"/>
<path d="M35.0 257.9h0.9M33.9 257.7h0.9M36.0 258.1h0.9M35.1 257.9h0.9M35.5 258.2h0.9M36.1 260.7h0.9M35.7 259.3h0.9M36.0 260.8h0.9M37.5 264.0h0.9M37.9 265.4h0.9M37.3 262.1h0.9M37.7 264.2h0.9M37.0 262.7h0.9M41.2 269.4h0.9M39.6 265.5h0.9M40.9 269.6h0.9M41.9 269.2h0.9M42.9 270.8h0.9M38.9 266.3h0.9M41.1 268.8h0.9M44.3 272.8h0.9M42.1 270.5h0.9M45.4 273.6h0.9M45.1 273.6h0.9M43.6 272.6h0.9M43.2 271.7h0.9M44.8 278.7h0.9M45.2 278.2h0.9M45.3 274.1h0.9M44.9 277.5h0.9M45.6 278.0h0.9M44.2 279.2h0.9M43.7 280.0h0.9M43.7 279.7h0.9M40.1 280.0h0.9M41.0 278.7h0.9M38.0 278.5h0.9M40.5 279.8h0.9M39.8 279.3h0.9M41.3 279.7h0.9M37.6 278.4h0.9M37.6 277.9h0.9M35.7 277.5h0.9M37.3 277.6h0.9M37.9 278.3h0.9M36.1 276.9h0.9M36.4 277.7h0.9M30.1 268.3h0.9M33.3 273.5h0.9M31.4 268.4h0.9M32.7 269.7h0.9M31.3 270.0h0.9M32.7 272.6h0.9M32.5 270.7h0.9M31.9 265.8h0.9M31.6 267.5h0.9M31.5 263.1h0.9M31.0 262.5h0.9M31.6 268.1h0.9M31.0 265.3h0.9M32.8 261.3h0.9M30.7 260.9h0.9M31.9 261.9h0.9M33.5 257.0h0.9M32.0 259.9h0.9M34.2 258.4h0.9" stroke="#d4d5d8" stroke-width="0.9" stroke-linecap="round"/>
<path d="M39.24 265.50 C39.39 264.31 41.65 264.30 42.86 263.95 C44.07 263.61 45.12 263.39 46.48 263.44 C47.84 263.48 49.62 263.65 51.00 264.21 C52.39 264.77 54.05 265.72 54.81 266.79 C55.56 267.87 55.56 269.30 55.53 270.66 C55.50 272.02 55.30 273.74 54.62 274.96 C53.95 276.18 52.51 277.43 51.46 277.97 C50.40 278.51 49.35 278.70 48.29 278.23 C47.23 277.75 46.18 276.32 45.12 275.13 C44.07 273.94 42.94 272.70 41.95 271.09 C40.97 269.48 39.09 266.69 39.24 265.50Z" fill="#ccd2dc"/>
<path d="M40.6 264.5h0.9M42.7 264.8h0.9M40.8 263.7h0.9M39.5 265.5h0.9M45.5 262.9h0.9M45.1 261.8h0.9M42.9 264.3h0.9M46.1 264.6h0.9M49.9 263.8h0.9M46.6 263.5h0.9M47.0 263.6h0.9M48.1 264.1h0.9M47.9 264.2h0.9M51.4 263.5h0.9M54.7 266.8h0.9M52.9 264.3h0.9M52.4 264.3h0.9M52.8 264.6h0.9M56.3 269.1h0.9M56.6 268.9h0.9M56.2 268.2h0.9M54.9 269.1h0.9M54.3 274.4h0.9M55.2 275.2h0.9M54.3 274.6h0.9M56.0 272.2h0.9M54.4 273.0h0.9M53.3 274.7h0.9M53.3 277.8h0.9M53.2 279.1h0.9M52.2 276.7h0.9M53.0 277.7h0.9M48.8 279.4h0.9M52.3 278.5h0.9M49.5 279.2h0.9M47.7 276.8h0.9M48.2 278.1h0.9M47.7 277.0h0.9M47.7 278.9h0.9M48.0 278.6h0.9M42.5 272.3h0.9M42.9 271.5h0.9M43.9 276.0h0.9M45.2 273.5h0.9M44.4 274.2h0.9M44.6 274.3h0.9M39.4 266.8h0.9M40.6 270.1h0.9M40.9 268.9h0.9M38.3 265.1h0.9M40.1 269.9h0.9M41.5 268.3h0.9M41.2 268.7h0.9" stroke="#ccd2dc" stroke-width="0.9" stroke-linecap="round"/>
<path d="M41.23 281.50 C42.08 280.56 43.46 279.60 44.67 278.83 C45.88 278.06 47.57 276.71 48.47 276.85 C49.38 277.00 49.98 278.72 50.10 279.69 C50.22 280.66 49.72 281.62 49.19 282.70 C48.67 283.77 47.76 284.99 46.93 286.14 C46.10 287.29 45.11 288.52 44.22 289.58 C43.33 290.64 42.35 292.43 41.59 292.50 C40.84 292.58 40.05 291.00 39.69 290.01 C39.33 289.02 39.80 286.93 39.42 286.57 C39.04 286.21 38.59 287.50 37.43 287.86 C36.27 288.22 33.42 288.65 32.45 288.72 C31.49 288.79 30.96 288.55 31.64 288.29 C32.32 288.03 35.20 287.82 36.53 287.17 C37.85 286.53 38.82 285.37 39.60 284.42 C40.39 283.47 40.39 282.43 41.23 281.50Z" fill="#d4d5d8"/>
<path d="M44.2 279.3h0.9M42.7 280.2h0.9M41.3 281.9h0.9M41.7 281.9h0.9M44.1 278.9h0.9M46.1 278.5h0.9M48.7 276.4h0.9M48.7 276.5h0.9M45.2 279.3h0.9M45.9 277.6h0.9M49.6 278.3h0.9M48.9 276.3h0.9M50.2 277.3h0.9M50.1 277.6h0.9M49.1 280.8h0.9M50.0 280.9h0.9M50.8 282.0h0.9M46.8 285.8h0.9M47.4 284.9h0.9M48.0 283.9h0.9M50.3 282.3h0.9M48.7 286.1h0.9M45.0 287.6h0.9M45.1 288.4h0.9M45.6 287.1h0.9M46.8 288.6h0.9M44.7 288.0h0.9M43.2 292.2h0.9M43.2 291.4h0.9M42.1 293.2h0.9M41.9 291.5h0.9M40.3 291.7h0.9M39.9 290.7h0.9M40.2 291.8h0.9M39.4 286.7h0.9M39.3 287.3h0.9M40.4 287.7h0.9M39.5 288.3h0.9M37.3 287.9h0.9M35.8 288.7h0.9M34.9 288.8h0.9M37.5 287.6h0.9M33.7 288.6h0.9M32.5 288.4h0.9M34.3 288.1h0.9M34.6 288.3h0.9M31.3 288.4h0.9M34.4 287.5h0.9M31.1 288.1h0.9M35.1 287.8h0.9M34.5 287.6h0.9M33.1 287.9h0.9M33.8 287.9h0.9M38.2 285.0h0.9M35.7 286.8h0.9M37.7 285.9h0.9M38.4 283.6h0.9M37.9 285.8h0.9M39.5 282.8h0.9M41.4 283.2h0.9M41.3 282.4h0.9M38.7 283.5h0.9" stroke="#d4d5d8" stroke-width="0.9" stroke-linecap="round"/>
<path d="M53.00 281.50 C53.70 280.66 55.56 282.31 56.89 282.87 C58.21 283.43 59.68 284.16 60.96 284.85 C62.24 285.54 63.45 286.00 64.58 287.00 C65.71 288.00 67.11 289.58 67.75 290.87 C68.38 292.16 68.38 293.38 68.38 294.74 C68.38 296.10 68.23 297.82 67.75 299.04 C67.26 300.26 66.47 301.51 65.49 302.05 C64.50 302.59 63.07 302.44 61.87 302.31 C60.66 302.18 59.30 301.91 58.25 301.28 C57.19 300.65 56.25 299.69 55.53 298.52 C54.81 297.36 54.38 296.09 53.90 294.31 C53.42 292.53 52.78 290.00 52.63 287.86 C52.48 285.72 52.29 282.33 53.00 281.50Z" fill="#86a8d2"/>
<path d="M54.7 282.3h0.9M56.5 281.2h0.9M54.2 281.2h0.9M55.9 282.4h0.9M54.2 282.0h0.9M57.4 283.3h0.9M59.2 284.6h0.9M58.4 284.0h0.9M60.1 285.2h0.9M58.4 282.7h0.9M64.5 285.6h0.9M64.5 285.7h0.9M63.5 284.7h0.9M64.6 287.0h0.9M64.7 285.8h0.9M65.6 286.6h0.9M65.5 287.9h0.9M66.2 288.9h0.9M64.8 288.9h0.9M67.0 289.0h0.9M67.0 289.4h0.9M68.0 290.9h0.9M67.9 291.4h0.9M68.3 294.1h0.9M68.9 291.9h0.9M67.7 297.8h0.9M69.9 295.5h0.9M69.4 296.2h0.9M69.0 298.5h0.9M67.4 295.1h0.9M66.8 301.2h0.9M67.0 300.4h0.9M66.7 300.1h0.9M67.5 300.6h0.9M62.8 302.9h0.9M63.4 303.0h0.9M64.5 302.7h0.9M65.2 303.6h0.9M58.3 303.0h0.9M58.8 302.4h0.9M60.7 302.5h0.9M61.2 302.4h0.9M57.4 300.7h0.9M56.8 301.9h0.9M58.0 300.4h0.9M56.7 299.5h0.9M55.1 296.3h0.9M53.3 294.9h0.9M54.0 298.2h0.9M54.6 295.4h0.9M55.5 298.1h0.9M52.7 290.1h0.9M51.8 287.8h0.9M51.7 288.4h0.9M53.2 289.3h0.9M52.4 289.4h0.9M51.5 288.4h0.9M52.5 291.4h0.9M52.0 287.7h0.9M53.5 282.2h0.9M52.8 282.4h0.9M51.8 284.6h0.9M52.1 283.9h0.9M53.4 284.2h0.9M51.9 284.9h0.9M53.1 286.9h0.9" stroke="#86a8d2" stroke-width="0.9" stroke-linecap="round"/>
<path d="M68.20 281.67 C68.68 280.88 70.01 280.46 70.92 280.12 C71.82 279.78 72.80 279.32 73.63 279.60 C74.46 279.89 75.29 280.89 75.89 281.84 C76.50 282.79 76.87 284.06 77.25 285.28 C77.63 286.50 78.08 288.03 78.16 289.15 C78.23 290.27 78.31 291.43 77.70 291.99 C77.10 292.55 75.52 292.69 74.54 292.50 C73.55 292.32 72.72 291.57 71.82 290.87 C70.91 290.17 69.74 289.29 69.11 288.29 C68.47 287.29 68.17 285.95 68.02 284.85 C67.87 283.75 67.72 282.46 68.20 281.67Z" fill="#8aaad2"/>
<path d="M67.6 280.4h0.9M70.0 280.1h0.9M67.6 280.9h0.9M72.2 280.3h0.9M72.2 280.4h0.9M72.0 279.6h0.9M73.8 280.5h0.9M75.0 279.7h0.9M75.1 281.9h0.9M77.1 282.3h0.9M76.2 282.5h0.9M75.9 282.4h0.9M76.3 284.4h0.9M77.8 286.3h0.9M76.3 285.5h0.9M79.0 288.0h0.9M77.1 287.9h0.9M77.5 289.9h0.9M77.7 290.5h0.9M77.1 289.5h0.9M76.0 292.8h0.9M74.9 292.6h0.9M76.6 292.8h0.9M77.0 292.6h0.9M73.7 291.7h0.9M72.6 292.2h0.9M71.9 291.7h0.9M70.8 291.0h0.9M70.4 289.4h0.9M71.1 290.0h0.9M71.2 290.1h0.9M68.5 288.7h0.9M69.2 286.6h0.9M69.7 287.2h0.9M67.9 285.4h0.9M68.0 283.2h0.9M68.6 284.0h0.9M69.2 283.5h0.9" stroke="#8aaad2" stroke-width="0.9" stroke-linecap="round"/>
<path d="M67.84 293.54 C68.41 293.39 69.95 295.04 70.92 296.03 C71.88 297.02 72.48 298.18 73.63 299.47 C74.78 300.76 77.64 303.04 77.79 303.77 C77.94 304.50 75.59 303.99 74.54 303.86 C73.48 303.73 72.44 303.58 71.46 303.00 C70.48 302.41 69.32 301.35 68.65 300.33 C67.99 299.31 67.61 298.02 67.48 296.89 C67.34 295.76 67.26 293.68 67.84 293.54Z" fill="#a4bad8"/>
<path d="M67.9 293.7h0.9M68.7 294.3h0.9M70.1 295.7h0.9M67.9 293.4h0.9M71.4 296.3h0.9M71.2 295.5h0.9M71.6 295.5h0.9M72.3 298.4h0.9M72.2 297.4h0.9M77.4 302.5h0.9M78.1 303.9h0.9M75.4 301.9h0.9M78.5 303.7h0.9M78.9 304.6h0.9M76.6 301.8h0.9M75.2 301.0h0.9M76.0 303.1h0.9M76.8 303.5h0.9M78.2 304.2h0.9M77.1 303.9h0.9M74.9 304.7h0.9M71.7 302.9h0.9M72.1 302.7h0.9M70.4 301.8h0.9M69.7 300.4h0.9M68.4 301.8h0.9M69.4 303.0h0.9M67.5 298.9h0.9M68.4 299.3h0.9M67.4 296.9h0.9M68.1 298.7h0.9M67.1 294.8h0.9M66.2 294.4h0.9M67.3 292.7h0.9M67.7 295.3h0.9" stroke="#a4bad8" stroke-width="0.9" stroke-linecap="round"/>
<path d="M65.03 300.33 C65.59 299.04 66.92 299.18 67.75 299.47 C68.58 299.76 69.56 301.03 70.01 302.05 C70.46 303.07 70.49 304.43 70.46 305.58 C70.43 306.72 69.96 307.80 69.83 308.93 C69.69 310.06 69.83 311.22 69.65 312.37 C69.47 313.52 69.04 314.94 68.74 315.81 C68.44 316.68 68.32 317.46 67.84 317.62 C67.36 317.77 66.36 317.42 65.85 316.76 C65.33 316.10 64.91 314.75 64.76 313.66 C64.61 312.57 65.00 311.30 64.94 310.22 C64.88 309.15 64.38 308.86 64.40 307.21 C64.41 305.56 64.47 301.62 65.03 300.33Z" fill="#6e98cc"/>
<path d="M66.8 298.6h0.9M65.6 299.1h0.9M64.6 298.6h0.9M68.9 300.2h0.9M67.6 300.0h0.9M69.5 301.5h0.9M68.1 299.5h0.9M70.0 302.3h0.9M69.7 302.7h0.9M71.2 301.9h0.9M69.9 304.7h0.9M69.8 307.6h0.9M69.8 308.3h0.9M70.3 306.8h0.9M71.2 307.6h0.9M68.6 309.2h0.9M71.3 309.2h0.9M69.1 310.2h0.9M69.8 311.1h0.9M69.8 312.3h0.9M69.4 315.7h0.9M68.8 316.1h0.9M70.1 314.8h0.9M68.1 316.9h0.9M67.9 316.1h0.9M66.2 316.6h0.9M67.5 318.5h0.9M66.0 315.3h0.9M65.7 314.2h0.9M66.0 315.4h0.9M65.8 315.6h0.9M64.8 310.7h0.9M64.3 311.0h0.9M64.4 312.4h0.9M64.2 311.6h0.9M65.5 308.4h0.9M64.5 309.4h0.9M65.1 310.0h0.9M64.0 305.8h0.9M64.9 301.7h0.9M64.4 302.2h0.9M64.3 306.3h0.9M64.3 306.5h0.9M64.4 302.4h0.9M65.3 301.4h0.9M64.4 306.7h0.9" stroke="#6e98cc" stroke-width="0.9" stroke-linecap="round"/>
<path d="M110.74 272.04 C111.25 271.26 112.47 270.67 113.45 270.49 C114.43 270.30 115.68 270.57 116.62 270.92 C117.55 271.26 118.74 271.81 119.06 272.55 C119.38 273.30 118.88 274.63 118.52 275.39 C118.16 276.15 117.30 276.39 116.89 277.11 C116.48 277.83 116.33 278.96 116.07 279.69 C115.82 280.42 115.61 281.68 115.35 281.50 C115.09 281.31 115.00 279.29 114.54 278.57 C114.07 277.86 113.24 277.77 112.55 277.20 C111.85 276.62 110.67 275.99 110.37 275.13 C110.07 274.27 110.22 272.81 110.74 272.04Z" fill="#d4d5d8"/>
<path d="M112.0 272.4h0.9M113.6 271.7h0.9M112.6 270.9h0.9M113.4 268.9h0.9M113.5 270.7h0.9M113.4 269.5h0.9M117.1 269.5h0.9M118.3 271.2h0.9M116.9 271.2h0.9M119.4 275.6h0.9M118.7 275.6h0.9M119.8 274.9h0.9M118.5 277.1h0.9M116.8 276.8h0.9M116.8 277.1h0.9M117.0 277.6h0.9M116.9 278.4h0.9M115.7 281.0h0.9M115.4 281.0h0.9M115.7 283.0h0.9M114.4 280.5h0.9M115.6 282.7h0.9M112.1 277.5h0.9M113.5 277.5h0.9M114.3 279.1h0.9M111.4 276.0h0.9M110.7 275.8h0.9M111.3 275.9h0.9M108.7 274.4h0.9M110.8 273.5h0.9M108.7 274.0h0.9" stroke="#d4d5d8" stroke-width="0.9" stroke-linecap="round"/>
<ellipse cx="83.13" cy="284.94" rx="2.70" ry="0.81" transform="rotate(30 83.13 284.94)" fill="#b4c4da"/>
<ellipse cx="84.49" cy="290.70" rx="1.44" ry="0.72" transform="rotate(35 84.49 290.70)" fill="#a4bad8"/>
<ellipse cx="83.13" cy="296.63" rx="1.35" ry="0.63" transform="rotate(40 83.13 296.63)" fill="#b4c4da"/>
<ellipse cx="87.39" cy="300.93" rx="0.81" ry="1.98" transform="rotate(10 87.39 300.93)" fill="#c4ccda"/>
<ellipse cx="88.74" cy="284.42" rx="0.81" ry="0.72" transform="rotate(0 88.74 284.42)" fill="#b4c4da"/>
<ellipse cx="91.55" cy="291.73" rx="0.72" ry="0.63" transform="rotate(0 91.55 291.73)" fill="#a4bad8"/>
<ellipse cx="94.72" cy="269.46" rx="1.98" ry="0.63" transform="rotate(30 94.72 269.46)" fill="#4a82c2"/>
<ellipse cx="76.53" cy="296.03" rx="1.08" ry="0.54" transform="rotate(30 76.53 296.03)" fill="#a4bad8"/>
<ellipse cx="32.45" cy="281.41" rx="2.25" ry="0.45" transform="rotate(-60 32.45 281.41)" fill="#b4c4da"/>
<ellipse cx="37.43" cy="254.49" rx="1.35" ry="0.45" transform="rotate(-30 37.43 254.49)" fill="#d4d5d8"/>
<ellipse cx="79.51" cy="246.15" rx="1.62" ry="0.45" transform="rotate(-40 79.51 246.15)" fill="#b4c4da"/>
<ellipse cx="65.49" cy="262.92" rx="13.50" ry="9.46" fill="#2c6cb8"/>
</g>
<rect x="26.40" y="233.40" width="99.2" height="89.4" fill="none" stroke="#4d4d4d" stroke-width="0.85"/>
<text x="121.00" y="240.60" font-size="6.3" text-anchor="end" font-weight="normal" fill="#3a78bd" >5% O2</text>
<g filter="url(#usparse)">
<path d="M155.91 253.03 C157.57 252.24 161.64 252.46 164.06 252.17 C166.47 251.88 168.28 251.31 170.39 251.31 C172.50 251.31 174.76 251.67 176.73 252.17 C178.69 252.67 180.80 253.25 182.16 254.32 C183.51 255.39 184.57 256.76 184.87 258.62 C185.17 260.48 184.12 263.21 183.97 265.50 C183.81 267.79 184.12 270.37 183.97 272.38 C183.81 274.39 183.66 276.11 183.06 277.54 C182.46 278.97 181.25 280.12 180.35 280.98 C179.44 281.84 178.69 281.84 177.63 282.70 C176.57 283.56 175.22 285.14 174.01 286.14 C172.80 287.14 171.75 288.43 170.39 288.72 C169.03 289.01 167.37 288.43 165.87 287.86 C164.36 287.29 162.77 286.07 161.34 285.28 C159.91 284.49 158.32 284.28 157.27 283.13 C156.21 281.98 155.38 280.48 155.00 278.40 C154.63 276.32 155.16 273.10 155.00 270.66 C154.85 268.22 154.25 266.07 154.10 263.78 C153.95 261.49 153.80 258.69 154.10 256.90 C154.40 255.11 154.25 253.82 155.91 253.03Z" fill="#6a96cc"/>
<path d="M156.4 251.9h0.9M158.3 253.0h0.9M162.7 252.1h0.9M156.8 253.6h0.9M161.5 252.1h0.9M163.3 251.7h0.9M158.7 251.6h0.9M156.6 251.5h0.9M159.6 251.6h0.9M159.1 253.3h0.9M169.1 252.0h0.9M169.0 251.4h0.9M168.1 251.7h0.9M168.0 250.5h0.9M168.1 251.9h0.9M164.1 251.5h0.9M169.5 249.8h0.9M176.7 252.3h0.9M175.1 251.5h0.9M172.2 250.0h0.9M171.1 251.3h0.9M175.1 252.4h0.9M175.5 252.4h0.9M173.6 252.0h0.9M177.4 253.1h0.9M180.2 254.0h0.9M177.0 252.3h0.9M177.5 251.8h0.9M178.9 253.7h0.9M179.6 253.2h0.9M179.3 252.1h0.9M183.8 258.1h0.9M181.5 254.9h0.9M184.8 256.0h0.9M183.7 256.3h0.9M182.7 255.9h0.9M183.0 253.5h0.9M185.1 264.5h0.9M183.8 264.3h0.9M184.7 263.7h0.9M185.9 260.1h0.9M184.6 259.2h0.9M185.4 263.0h0.9M184.9 261.9h0.9M185.1 259.9h0.9M185.4 271.8h0.9M184.3 268.5h0.9M183.8 265.5h0.9M184.2 270.9h0.9M184.6 268.1h0.9M185.7 265.3h0.9M185.3 270.8h0.9M184.8 268.0h0.9M184.1 277.3h0.9M183.1 274.4h0.9M183.8 273.1h0.9M184.7 272.6h0.9M183.1 273.0h0.9M184.7 273.8h0.9M180.8 280.7h0.9M183.9 278.2h0.9M184.1 278.3h0.9M181.9 280.0h0.9M180.4 279.5h0.9M178.9 281.8h0.9M178.0 283.3h0.9M178.8 283.4h0.9M179.7 282.3h0.9M176.0 286.9h0.9M175.9 285.2h0.9M176.8 283.4h0.9M176.9 282.7h0.9M177.8 285.3h0.9M177.9 284.4h0.9M171.9 288.1h0.9M170.9 290.1h0.9M171.7 287.9h0.9M173.6 286.5h0.9M172.9 285.9h0.9M166.1 289.2h0.9M170.0 288.5h0.9M165.9 288.7h0.9M168.9 287.6h0.9M169.5 289.7h0.9M162.7 287.5h0.9M161.6 285.8h0.9M161.1 287.5h0.9M162.9 286.0h0.9M165.6 287.8h0.9M165.0 288.0h0.9M158.7 283.4h0.9M160.7 285.8h0.9M160.6 284.0h0.9M160.0 286.6h0.9M160.3 284.8h0.9M155.3 279.0h0.9M156.3 279.4h0.9M154.9 280.8h0.9M154.3 279.8h0.9M157.2 281.2h0.9M155.1 280.8h0.9M154.9 272.1h0.9M155.2 276.5h0.9M153.8 278.2h0.9M155.2 275.4h0.9M155.2 275.7h0.9M154.5 272.7h0.9M153.3 276.0h0.9M154.7 276.6h0.9M155.8 275.6h0.9M153.0 263.8h0.9M154.5 266.2h0.9M154.8 264.7h0.9M154.8 270.7h0.9M154.7 267.2h0.9M154.2 268.9h0.9M153.9 267.7h0.9M153.2 264.9h0.9M153.9 260.5h0.9M154.6 262.9h0.9M153.2 258.3h0.9M154.0 259.9h0.9M152.8 260.4h0.9M153.6 260.7h0.9M154.4 260.1h0.9M153.9 260.5h0.9M155.3 254.8h0.9M155.4 254.9h0.9M153.4 255.5h0.9M154.1 255.9h0.9M155.2 255.3h0.9" stroke="#6a96cc" stroke-width="0.9" stroke-linecap="round"/>
<path d="M155.82 249.33 C156.60 248.59 158.16 248.07 159.53 248.13 C160.90 248.19 162.77 249.86 164.06 249.68 C165.34 249.49 166.38 248.24 167.22 247.01 C168.07 245.78 168.84 243.86 169.12 242.28 C169.41 240.70 168.79 238.52 168.94 237.55 C169.09 236.58 169.67 236.43 170.03 236.43 C170.39 236.43 170.90 236.58 171.11 237.55 C171.33 238.52 171.11 240.95 171.30 242.28 C171.48 243.61 171.72 244.72 172.20 245.55 C172.68 246.38 173.92 246.35 174.19 247.27 C174.46 248.19 174.61 250.08 173.83 251.05 C173.04 252.03 171.11 252.69 169.49 253.12 C167.86 253.55 165.71 253.26 164.06 253.63 C162.40 254.00 160.81 255.04 159.53 255.35 C158.25 255.67 157.15 255.98 156.36 255.52 C155.58 255.07 154.91 253.63 154.82 252.60 C154.73 251.57 155.04 250.08 155.82 249.33Z" fill="#b4c4da"/>
<path d="M155.0 249.3h0.9M156.4 249.5h0.9M157.8 248.5h0.9M158.0 248.7h0.9M159.2 248.5h0.9M160.8 248.2h0.9M164.3 248.8h0.9M163.5 250.2h0.9M162.2 249.6h0.9M165.0 249.3h0.9M163.8 250.3h0.9M164.8 249.6h0.9M165.1 249.7h0.9M165.2 249.4h0.9M169.1 242.1h0.9M169.0 242.9h0.9M169.4 242.7h0.9M169.6 242.4h0.9M167.1 246.4h0.9M168.7 243.5h0.9M169.2 240.4h0.9M168.4 237.9h0.9M169.2 241.1h0.9M170.1 239.8h0.9M170.0 240.2h0.9M170.3 236.0h0.9M170.6 235.6h0.9M171.6 238.3h0.9M172.4 240.3h0.9M170.9 241.3h0.9M171.6 236.7h0.9M171.5 240.8h0.9M171.7 242.4h0.9M172.6 243.3h0.9M173.0 244.1h0.9M171.7 245.8h0.9M174.3 246.9h0.9M174.6 246.4h0.9M174.4 246.5h0.9M173.6 249.4h0.9M173.9 247.8h0.9M175.8 248.7h0.9M175.7 248.1h0.9M170.1 252.5h0.9M170.8 251.9h0.9M174.1 252.8h0.9M170.6 253.1h0.9M173.6 251.0h0.9M172.8 251.7h0.9M167.5 255.0h0.9M167.9 252.3h0.9M164.9 254.0h0.9M164.6 254.7h0.9M168.0 253.2h0.9M168.1 254.3h0.9M163.0 254.7h0.9M160.2 255.9h0.9M159.3 256.0h0.9M160.9 255.1h0.9M159.3 256.6h0.9M161.2 255.1h0.9M159.1 256.0h0.9M157.5 255.3h0.9M157.8 255.9h0.9M155.1 253.5h0.9M156.6 254.8h0.9M154.6 254.5h0.9M155.7 252.9h0.9M155.1 249.5h0.9M153.7 251.7h0.9M155.9 251.0h0.9M153.9 251.3h0.9" stroke="#b4c4da" stroke-width="0.9" stroke-linecap="round"/>
<path d="M180.53 255.70 C181.25 254.76 182.79 254.81 183.97 254.75 C185.14 254.69 186.38 254.92 187.59 255.35 C188.79 255.78 190.15 256.50 191.20 257.33 C192.26 258.16 193.02 259.05 193.92 260.34 C194.83 261.63 195.81 263.85 196.63 265.07 C197.46 266.29 198.22 266.75 198.90 267.65 C199.58 268.55 201.08 269.99 200.71 270.49 C200.33 270.99 197.92 270.55 196.63 270.66 C195.35 270.77 194.15 270.67 193.01 271.18 C191.88 271.68 190.90 272.97 189.85 273.67 C188.79 274.37 187.81 275.17 186.68 275.39 C185.55 275.61 184.04 275.61 183.06 274.96 C182.08 274.32 181.33 272.95 180.80 271.52 C180.27 270.09 180.09 268.22 179.89 266.36 C179.70 264.50 179.52 262.12 179.62 260.34 C179.73 258.56 179.80 256.63 180.53 255.70Z" fill="#4a82c2"/>
<path d="M182.2 255.3h0.9M181.5 255.3h0.9M182.1 255.0h0.9M183.0 253.6h0.9M184.4 255.0h0.9M185.2 255.4h0.9M185.6 255.3h0.9M186.4 253.8h0.9M189.5 255.4h0.9M188.4 255.6h0.9M189.5 257.2h0.9M187.9 255.7h0.9M190.4 256.0h0.9M193.2 260.2h0.9M192.6 258.9h0.9M191.4 257.2h0.9M192.4 259.9h0.9M191.4 256.4h0.9M195.7 264.6h0.9M197.1 262.9h0.9M194.8 262.7h0.9M196.2 263.8h0.9M194.4 260.8h0.9M195.9 262.0h0.9M198.3 266.0h0.9M199.6 267.5h0.9M199.9 267.0h0.9M198.3 267.8h0.9M200.7 269.1h0.9M200.0 269.7h0.9M200.0 270.8h0.9M201.0 270.0h0.9M196.8 270.8h0.9M199.3 270.5h0.9M201.1 271.1h0.9M199.2 271.0h0.9M200.3 270.8h0.9M194.1 271.8h0.9M197.0 271.5h0.9M195.4 271.1h0.9M195.6 271.1h0.9M191.2 274.2h0.9M192.6 272.1h0.9M189.9 273.8h0.9M191.8 272.2h0.9M192.0 272.3h0.9M186.7 276.5h0.9M187.3 275.5h0.9M187.1 275.8h0.9M187.4 275.5h0.9M185.4 275.6h0.9M186.1 274.6h0.9M183.3 275.1h0.9M184.8 276.5h0.9M182.6 274.7h0.9M182.7 274.0h0.9M181.6 274.2h0.9M180.8 272.5h0.9M181.2 274.8h0.9M178.7 270.9h0.9M179.5 269.8h0.9M181.1 268.0h0.9M180.5 268.6h0.9M181.1 268.8h0.9M180.5 269.0h0.9M179.8 263.5h0.9M180.5 265.4h0.9M179.4 260.6h0.9M179.7 264.7h0.9M178.7 265.7h0.9M180.4 263.7h0.9M178.3 265.2h0.9M180.5 256.4h0.9M180.8 258.4h0.9M179.6 260.2h0.9M179.3 255.6h0.9M180.1 257.9h0.9" stroke="#4a82c2" stroke-width="0.9" stroke-linecap="round"/>
<path d="M138.35 257.93 C138.96 257.30 139.95 256.36 140.16 256.56 C140.37 256.76 139.59 258.29 139.62 259.14 C139.65 259.98 139.82 260.57 140.34 261.63 C140.87 262.69 141.78 264.00 142.79 265.50 C143.80 267.00 145.28 269.16 146.41 270.66 C147.54 272.17 149.27 273.24 149.57 274.53 C149.88 275.82 148.75 277.47 148.22 278.40 C147.69 279.33 147.46 280.19 146.41 280.12 C145.35 280.05 143.32 279.05 141.88 277.97 C140.45 276.90 138.97 275.32 137.81 273.67 C136.65 272.02 135.43 269.87 134.91 268.08 C134.40 266.29 134.46 264.21 134.73 262.92 C135.00 261.63 135.94 261.17 136.54 260.34 C137.15 259.51 137.75 258.56 138.35 257.93Z" fill="#d4d5d8"/>
<path d="M139.4 255.8h0.9M139.4 256.2h0.9M140.1 254.7h0.9M140.6 256.4h0.9M140.1 256.5h0.9M139.7 261.2h0.9M139.9 260.2h0.9M140.5 259.9h0.9M141.6 264.4h0.9M141.2 262.1h0.9M142.4 264.5h0.9M143.3 264.4h0.9M140.5 262.3h0.9M146.3 270.1h0.9M146.2 270.5h0.9M144.9 265.9h0.9M146.3 268.6h0.9M146.4 270.2h0.9M144.3 268.4h0.9M145.2 269.3h0.9M150.4 275.0h0.9M150.2 274.6h0.9M147.9 273.0h0.9M146.2 270.8h0.9M149.3 273.7h0.9M147.1 271.8h0.9M149.1 277.5h0.9M149.5 277.6h0.9M149.0 278.6h0.9M149.0 277.0h0.9M148.9 274.6h0.9M147.5 280.3h0.9M147.9 277.7h0.9M146.6 280.3h0.9M143.8 279.9h0.9M145.2 280.2h0.9M145.2 279.7h0.9M145.1 281.0h0.9M143.1 279.4h0.9M143.0 277.7h0.9M138.2 275.4h0.9M140.0 278.3h0.9M140.2 276.5h0.9M138.9 276.6h0.9M137.8 274.5h0.9M140.2 277.7h0.9M141.2 278.5h0.9M134.4 269.4h0.9M135.7 272.3h0.9M134.7 270.7h0.9M135.3 268.8h0.9M136.5 270.8h0.9M136.7 273.4h0.9M137.1 270.2h0.9M134.8 264.6h0.9M134.4 265.4h0.9M135.0 266.7h0.9M135.1 265.7h0.9M134.3 266.3h0.9M134.8 266.4h0.9M136.0 261.5h0.9M134.5 262.6h0.9M135.0 260.2h0.9M136.3 258.8h0.9M138.2 258.6h0.9M137.1 258.2h0.9" stroke="#d4d5d8" stroke-width="0.9" stroke-linecap="round"/>
<path d="M143.24 265.50 C143.39 264.31 145.65 264.30 146.86 263.95 C148.07 263.61 149.12 263.39 150.48 263.44 C151.84 263.48 153.62 263.65 155.00 264.21 C156.39 264.77 158.05 265.72 158.81 266.79 C159.56 267.87 159.56 269.30 159.53 270.66 C159.50 272.02 159.30 273.74 158.62 274.96 C157.95 276.18 156.51 277.43 155.46 277.97 C154.40 278.51 153.35 278.70 152.29 278.23 C151.23 277.75 150.18 276.32 149.12 275.13 C148.07 273.94 146.94 272.70 145.95 271.09 C144.97 269.48 143.09 266.69 143.24 265.50Z" fill="#ccd2dc"/>
<path d="M146.8 264.4h0.9M145.8 263.7h0.9M144.9 264.2h0.9M144.2 265.1h0.9M147.5 264.4h0.9M147.3 263.8h0.9M149.3 262.7h0.9M147.0 263.0h0.9M152.3 261.9h0.9M150.9 263.3h0.9M151.2 263.1h0.9M153.8 263.4h0.9M152.2 262.3h0.9M156.0 263.7h0.9M156.0 264.5h0.9M157.1 265.7h0.9M157.9 265.2h0.9M155.8 263.4h0.9M159.1 267.4h0.9M160.7 270.2h0.9M159.4 269.8h0.9M159.1 270.4h0.9M159.7 275.0h0.9M159.3 273.0h0.9M159.6 272.3h0.9M158.8 274.2h0.9M158.6 271.4h0.9M155.3 278.6h0.9M155.5 277.9h0.9M157.6 276.1h0.9M157.8 274.6h0.9M158.0 276.0h0.9M152.6 278.9h0.9M153.0 278.8h0.9M154.2 278.8h0.9M151.9 277.4h0.9M149.4 275.0h0.9M151.6 279.3h0.9M152.3 278.8h0.9M149.7 277.4h0.9M146.1 271.5h0.9M145.3 271.8h0.9M145.3 271.5h0.9M146.8 273.5h0.9M148.1 273.9h0.9M147.0 273.1h0.9M142.8 266.9h0.9M143.5 266.1h0.9M144.4 268.8h0.9M144.4 270.2h0.9M144.6 270.1h0.9M145.4 270.5h0.9M143.2 265.9h0.9" stroke="#ccd2dc" stroke-width="0.9" stroke-linecap="round"/>
<path d="M145.23 281.50 C146.08 280.56 147.46 279.60 148.67 278.83 C149.88 278.06 151.57 276.71 152.47 276.85 C153.38 277.00 153.98 278.72 154.10 279.69 C154.22 280.66 153.72 281.62 153.19 282.70 C152.67 283.77 151.76 284.99 150.93 286.14 C150.10 287.29 149.11 288.52 148.22 289.58 C147.33 290.64 146.35 292.43 145.59 292.50 C144.84 292.58 144.05 291.00 143.69 290.01 C143.33 289.02 143.80 286.93 143.42 286.57 C143.04 286.21 142.59 287.50 141.43 287.86 C140.27 288.22 137.42 288.65 136.45 288.72 C135.49 288.79 134.96 288.55 135.64 288.29 C136.32 288.03 139.20 287.82 140.53 287.17 C141.85 286.53 142.82 285.37 143.60 284.42 C144.39 283.47 144.39 282.43 145.23 281.50Z" fill="#d4d5d8"/>
<path d="M147.1 279.6h0.9M148.2 278.5h0.9M146.7 280.7h0.9M147.4 279.0h0.9M146.2 280.7h0.9M151.2 277.1h0.9M148.8 279.5h0.9M149.3 277.3h0.9M150.7 277.3h0.9M150.5 278.6h0.9M153.8 277.1h0.9M152.4 276.5h0.9M153.0 277.3h0.9M152.9 279.7h0.9M154.2 280.3h0.9M154.5 281.1h0.9M153.8 280.3h0.9M153.1 284.7h0.9M152.9 283.0h0.9M153.4 283.1h0.9M151.6 285.7h0.9M153.4 285.4h0.9M148.9 290.8h0.9M149.2 287.5h0.9M149.7 289.9h0.9M150.2 288.8h0.9M151.5 286.6h0.9M147.6 291.3h0.9M147.9 291.0h0.9M148.3 291.1h0.9M146.2 291.5h0.9M143.7 290.1h0.9M144.0 290.9h0.9M143.8 289.7h0.9M142.8 290.4h0.9M143.7 288.6h0.9M143.5 288.7h0.9M143.6 289.5h0.9M143.0 287.4h0.9M140.5 288.4h0.9M137.1 288.6h0.9M137.1 288.9h0.9M140.4 287.9h0.9M139.4 288.7h0.9M138.5 288.4h0.9M137.4 288.2h0.9M136.1 287.8h0.9M139.4 287.5h0.9M136.8 288.3h0.9M138.6 287.7h0.9M138.0 288.0h0.9M135.4 288.0h0.9M140.1 287.8h0.9M142.4 285.3h0.9M139.0 287.2h0.9M141.9 285.2h0.9M143.5 285.2h0.9M142.6 285.8h0.9M144.8 282.3h0.9M143.1 283.6h0.9M143.1 283.3h0.9M143.0 284.1h0.9" stroke="#d4d5d8" stroke-width="0.9" stroke-linecap="round"/>
<path d="M157.00 281.50 C157.70 280.66 159.56 282.31 160.89 282.87 C162.21 283.43 163.68 284.16 164.96 284.85 C166.24 285.54 167.45 286.00 168.58 287.00 C169.71 288.00 171.11 289.58 171.75 290.87 C172.38 292.16 172.38 293.38 172.38 294.74 C172.38 296.10 172.23 297.82 171.75 299.04 C171.26 300.26 170.47 301.51 169.49 302.05 C168.50 302.59 167.07 302.44 165.87 302.31 C164.66 302.18 163.30 301.91 162.25 301.28 C161.19 300.65 160.25 299.69 159.53 298.52 C158.81 297.36 158.38 296.09 157.90 294.31 C157.42 292.53 156.78 290.00 156.63 287.86 C156.48 285.72 156.29 282.33 157.00 281.50Z" fill="#86a8d2"/>
<path d="M160.1 283.1h0.9M159.6 282.3h0.9M161.4 283.8h0.9M159.2 282.5h0.9M158.7 282.1h0.9M162.5 282.3h0.9M162.1 283.7h0.9M164.4 285.3h0.9M162.3 283.1h0.9M163.0 282.8h0.9M169.3 286.2h0.9M167.0 285.7h0.9M165.2 284.0h0.9M166.6 285.2h0.9M165.5 283.1h0.9M169.6 287.2h0.9M172.0 289.7h0.9M170.1 289.4h0.9M169.7 288.1h0.9M169.9 286.8h0.9M169.1 288.0h0.9M173.1 294.3h0.9M172.5 293.9h0.9M172.9 294.2h0.9M173.2 293.5h0.9M172.8 299.2h0.9M172.1 297.6h0.9M173.7 295.4h0.9M171.9 299.5h0.9M172.0 294.7h0.9M171.3 300.5h0.9M169.9 301.2h0.9M170.7 302.7h0.9M171.5 300.0h0.9M169.0 303.4h0.9M169.2 303.0h0.9M167.9 303.2h0.9M168.7 301.2h0.9M165.3 303.5h0.9M164.7 303.2h0.9M165.7 301.5h0.9M161.9 302.7h0.9M161.8 301.4h0.9M161.2 300.4h0.9M161.0 299.4h0.9M161.0 299.7h0.9M158.9 294.5h0.9M158.9 297.1h0.9M158.7 298.6h0.9M158.6 295.8h0.9M158.0 297.6h0.9M157.6 289.9h0.9M157.8 289.3h0.9M156.5 292.0h0.9M155.9 293.1h0.9M157.7 294.0h0.9M156.0 292.2h0.9M156.8 290.7h0.9M156.4 288.5h0.9M156.6 280.4h0.9M156.0 286.8h0.9M156.5 282.3h0.9M156.4 284.6h0.9M156.8 282.4h0.9M155.6 287.0h0.9M156.5 286.0h0.9" stroke="#86a8d2" stroke-width="0.9" stroke-linecap="round"/>
<path d="M172.20 281.67 C172.68 280.88 174.01 280.46 174.92 280.12 C175.82 279.78 176.80 279.32 177.63 279.60 C178.46 279.89 179.29 280.89 179.89 281.84 C180.50 282.79 180.87 284.06 181.25 285.28 C181.63 286.50 182.08 288.03 182.16 289.15 C182.23 290.27 182.31 291.43 181.70 291.99 C181.10 292.55 179.52 292.69 178.54 292.50 C177.55 292.32 176.72 291.57 175.82 290.87 C174.91 290.17 173.74 289.29 173.11 288.29 C172.47 287.29 172.17 285.95 172.02 284.85 C171.87 283.75 171.72 282.46 172.20 281.67Z" fill="#8aaad2"/>
<path d="M173.7 280.7h0.9M173.2 280.0h0.9M171.6 280.8h0.9M177.1 279.2h0.9M177.7 278.5h0.9M175.1 280.0h0.9M178.2 279.1h0.9M177.7 280.7h0.9M179.1 279.9h0.9M179.9 284.1h0.9M179.9 282.8h0.9M181.0 282.4h0.9M181.9 283.1h0.9M182.0 287.1h0.9M181.9 286.7h0.9M183.3 288.0h0.9M182.3 286.1h0.9M181.7 292.2h0.9M181.2 288.7h0.9M182.3 291.8h0.9M181.0 292.4h0.9M178.9 292.8h0.9M181.4 292.0h0.9M180.7 291.0h0.9M178.0 291.9h0.9M177.5 293.3h0.9M176.5 290.9h0.9M172.8 289.9h0.9M173.9 288.5h0.9M175.5 291.5h0.9M172.5 290.3h0.9M171.5 286.1h0.9M170.6 284.5h0.9M172.3 286.0h0.9M172.6 285.8h0.9M172.5 282.9h0.9M172.3 284.2h0.9M172.0 282.0h0.9" stroke="#8aaad2" stroke-width="0.9" stroke-linecap="round"/>
<path d="M171.84 293.54 C172.41 293.39 173.95 295.04 174.92 296.03 C175.88 297.02 176.48 298.18 177.63 299.47 C178.78 300.76 181.64 303.04 181.79 303.77 C181.94 304.50 179.59 303.99 178.54 303.86 C177.48 303.73 176.44 303.58 175.46 303.00 C174.48 302.41 173.32 301.35 172.65 300.33 C171.99 299.31 171.61 298.02 171.48 296.89 C171.34 295.76 171.26 293.68 171.84 293.54Z" fill="#a4bad8"/>
<path d="M175.2 295.7h0.9M173.6 294.6h0.9M174.5 295.5h0.9M172.9 294.4h0.9M178.2 298.4h0.9M175.2 295.4h0.9M177.7 298.6h0.9M177.6 298.5h0.9M176.5 297.3h0.9M180.3 302.1h0.9M180.9 302.9h0.9M177.9 300.1h0.9M179.9 300.4h0.9M177.2 299.9h0.9M180.0 300.9h0.9M180.6 301.2h0.9M182.7 304.7h0.9M181.0 304.3h0.9M181.5 304.0h0.9M181.4 304.9h0.9M175.2 302.8h0.9M177.1 303.3h0.9M179.4 304.9h0.9M172.9 301.8h0.9M172.8 300.6h0.9M174.4 302.6h0.9M173.5 300.3h0.9M170.8 296.5h0.9M171.7 298.6h0.9M171.6 298.2h0.9M170.3 296.7h0.9M171.3 294.1h0.9M172.2 294.0h0.9M170.9 295.4h0.9M172.3 296.4h0.9" stroke="#a4bad8" stroke-width="0.9" stroke-linecap="round"/>
<path d="M169.03 300.33 C169.59 299.04 170.92 299.18 171.75 299.47 C172.58 299.76 173.56 301.03 174.01 302.05 C174.46 303.07 174.49 304.43 174.46 305.58 C174.43 306.72 173.96 307.80 173.83 308.93 C173.69 310.06 173.83 311.22 173.65 312.37 C173.47 313.52 173.04 314.94 172.74 315.81 C172.44 316.68 172.32 317.46 171.84 317.62 C171.36 317.77 170.36 317.42 169.85 316.76 C169.33 316.10 168.91 314.75 168.76 313.66 C168.61 312.57 169.00 311.30 168.94 310.22 C168.88 309.15 168.38 308.86 168.40 307.21 C168.41 305.56 168.47 301.62 169.03 300.33Z" fill="#6e98cc"/>
<path d="M169.2 300.4h0.9M170.6 299.3h0.9M171.3 298.9h0.9M174.0 299.8h0.9M172.7 301.5h0.9M173.4 300.3h0.9M174.0 300.9h0.9M174.4 301.6h0.9M174.3 305.5h0.9M174.2 303.5h0.9M174.0 303.7h0.9M174.1 306.2h0.9M173.3 308.4h0.9M175.3 308.7h0.9M173.4 307.4h0.9M174.0 310.8h0.9M174.0 312.8h0.9M173.8 311.9h0.9M173.5 309.5h0.9M173.6 315.2h0.9M173.5 313.5h0.9M174.0 314.4h0.9M173.1 314.1h0.9M171.8 318.2h0.9M172.8 316.0h0.9M171.7 317.3h0.9M171.0 317.8h0.9M168.5 315.6h0.9M168.6 315.2h0.9M168.7 314.5h0.9M168.7 315.4h0.9M168.6 311.7h0.9M168.4 312.4h0.9M168.9 312.1h0.9M168.8 313.5h0.9M169.2 309.5h0.9M168.4 307.3h0.9M169.3 310.3h0.9M168.3 301.4h0.9M168.2 303.1h0.9M169.2 305.3h0.9M169.1 303.1h0.9M168.3 304.7h0.9M168.7 300.6h0.9M168.5 303.6h0.9M168.4 301.6h0.9" stroke="#6e98cc" stroke-width="0.9" stroke-linecap="round"/>
<path d="M214.74 272.04 C215.25 271.26 216.47 270.67 217.45 270.49 C218.43 270.30 219.68 270.57 220.62 270.92 C221.55 271.26 222.74 271.81 223.06 272.55 C223.38 273.30 222.88 274.63 222.52 275.39 C222.16 276.15 221.30 276.39 220.89 277.11 C220.48 277.83 220.33 278.96 220.07 279.69 C219.82 280.42 219.61 281.68 219.35 281.50 C219.09 281.31 219.00 279.29 218.54 278.57 C218.07 277.86 217.24 277.77 216.55 277.20 C215.85 276.62 214.67 275.99 214.37 275.13 C214.07 274.27 214.22 272.81 214.74 272.04Z" fill="#d4d5d8"/>
<path d="M216.1 271.1h0.9M214.9 271.6h0.9M217.9 270.7h0.9M218.8 271.4h0.9M218.9 270.9h0.9M218.7 269.6h0.9M221.8 271.8h0.9M221.8 272.3h0.9M222.0 270.1h0.9M223.0 273.9h0.9M224.0 272.4h0.9M222.4 273.7h0.9M222.2 275.8h0.9M221.1 276.6h0.9M220.2 277.3h0.9M220.4 277.8h0.9M221.3 278.5h0.9M219.6 282.1h0.9M219.5 280.1h0.9M218.3 279.9h0.9M219.3 281.1h0.9M218.5 279.7h0.9M216.8 277.6h0.9M217.5 279.2h0.9M216.5 277.3h0.9M212.8 274.6h0.9M214.3 275.9h0.9M215.3 275.8h0.9M214.2 271.6h0.9M214.0 274.0h0.9M214.9 273.9h0.9" stroke="#d4d5d8" stroke-width="0.9" stroke-linecap="round"/>
<ellipse cx="187.13" cy="284.94" rx="2.70" ry="0.81" transform="rotate(30 187.13 284.94)" fill="#b4c4da"/>
<ellipse cx="188.49" cy="290.70" rx="1.44" ry="0.72" transform="rotate(35 188.49 290.70)" fill="#a4bad8"/>
<ellipse cx="187.13" cy="296.63" rx="1.35" ry="0.63" transform="rotate(40 187.13 296.63)" fill="#b4c4da"/>
<ellipse cx="191.39" cy="300.93" rx="0.81" ry="1.98" transform="rotate(10 191.39 300.93)" fill="#c4ccda"/>
<ellipse cx="192.74" cy="284.42" rx="0.81" ry="0.72" transform="rotate(0 192.74 284.42)" fill="#b4c4da"/>
<ellipse cx="195.55" cy="291.73" rx="0.72" ry="0.63" transform="rotate(0 195.55 291.73)" fill="#a4bad8"/>
<ellipse cx="198.72" cy="269.46" rx="1.98" ry="0.63" transform="rotate(30 198.72 269.46)" fill="#4a82c2"/>
<ellipse cx="180.53" cy="296.03" rx="1.08" ry="0.54" transform="rotate(30 180.53 296.03)" fill="#a4bad8"/>
<ellipse cx="136.45" cy="281.41" rx="2.25" ry="0.45" transform="rotate(-60 136.45 281.41)" fill="#b4c4da"/>
<ellipse cx="141.43" cy="254.49" rx="1.35" ry="0.45" transform="rotate(-30 141.43 254.49)" fill="#d4d5d8"/>
<ellipse cx="183.51" cy="246.15" rx="1.62" ry="0.45" transform="rotate(-40 183.51 246.15)" fill="#b4c4da"/>
<ellipse cx="169.49" cy="263.78" rx="13.50" ry="10.32" fill="#2c6cb8"/>
</g>
<rect x="130.40" y="233.40" width="99.2" height="89.4" fill="none" stroke="#4d4d4d" stroke-width="0.85"/>
<text x="227.20" y="240.60" font-size="6.3" text-anchor="end" font-weight="normal" fill="#3a78bd" >1% O2</text>
<g filter="url(#udense)">
<path d="M337.30 156.90 C337.87 156.52 338.75 158.82 339.20 160.00 C339.65 161.18 339.62 162.75 340.00 164.00 C340.38 165.25 340.53 166.25 341.50 167.50 C342.47 168.75 344.07 170.32 345.80 171.50 C347.53 172.68 349.85 173.32 351.90 174.60 C353.95 175.88 356.05 177.15 358.10 179.20 C360.15 181.25 362.42 184.58 364.20 186.90 C365.98 189.22 369.05 191.55 368.80 193.10 C368.55 194.65 364.23 194.92 362.70 196.20 C361.17 197.48 360.55 199.50 359.60 200.80 C358.65 202.10 356.77 202.72 357.00 204.00 C357.23 205.28 359.92 206.92 361.00 208.50 C362.08 210.08 363.42 211.75 363.50 213.50 C363.58 215.25 362.33 217.08 361.50 219.00 C360.67 220.92 359.75 223.33 358.50 225.00 C357.25 226.67 355.58 228.17 354.00 229.00 C352.42 229.83 350.50 229.58 349.00 230.00 C347.50 230.42 346.08 230.42 345.00 231.50 C343.92 232.58 343.13 234.50 342.50 236.50 C341.87 238.50 341.85 242.22 341.20 243.50 C340.55 244.78 339.33 245.12 338.60 244.20 C337.87 243.28 337.48 240.03 336.80 238.00 C336.12 235.97 335.55 233.58 334.50 232.00 C333.45 230.42 331.83 230.08 330.50 228.50 C329.17 226.92 327.58 224.75 326.50 222.50 C325.42 220.25 325.08 216.48 324.00 215.00 C322.92 213.52 321.42 213.88 320.00 213.60 C318.58 213.32 316.85 213.60 315.50 213.30 C314.15 213.00 313.27 212.60 311.90 211.80 C310.53 211.00 308.70 209.97 307.30 208.50 C305.90 207.03 304.33 205.25 303.50 203.00 C302.67 200.75 302.57 197.68 302.30 195.00 C302.03 192.32 301.58 189.27 301.90 186.90 C302.22 184.53 302.78 182.23 304.20 180.80 C305.62 179.37 308.60 177.92 310.40 178.30 C312.20 178.68 312.95 182.68 315.00 183.10 C317.05 183.52 321.28 182.73 322.70 180.80 C324.12 178.87 322.22 173.30 323.50 171.50 C324.78 169.70 328.48 170.77 330.40 170.00 C332.32 169.23 334.10 168.18 335.00 166.90 C335.90 165.62 335.42 163.97 335.80 162.30 C336.18 160.63 336.73 157.28 337.30 156.90Z" fill="#a5130b"/>
<path d="M338.6 159.7h1.0M337.6 156.9h1.0M337.6 156.9h1.0M337.1 155.6h1.0M338.0 156.9h1.0M339.4 158.8h1.0M339.0 161.4h1.0M339.2 161.1h1.0M340.3 163.2h1.0M338.9 160.3h1.0M339.5 163.0h1.0M341.2 166.0h1.0M341.8 165.7h1.0M340.7 166.3h1.0M341.6 166.0h1.0M340.5 166.9h1.0M342.7 166.4h1.0M342.0 166.9h1.0M343.0 169.7h1.0M345.9 169.7h1.0M344.1 167.8h1.0M341.9 167.7h1.0M343.7 168.3h1.0M342.4 167.0h1.0M346.2 170.0h1.0M349.0 171.2h1.0M349.1 172.7h1.0M349.4 173.4h1.0M346.8 170.9h1.0M346.8 172.5h1.0M350.2 173.0h1.0M348.3 172.5h1.0M350.7 174.1h1.0M348.2 171.3h1.0M355.1 175.3h1.0M357.8 177.0h1.0M357.1 177.7h1.0M357.7 178.5h1.0M355.9 178.0h1.0M353.2 174.7h1.0M358.1 178.4h1.0M352.1 175.6h1.0M356.5 176.2h1.0M357.5 179.6h1.0M357.6 179.0h1.0M361.9 181.8h1.0M362.2 185.6h1.0M362.3 185.6h1.0M362.5 185.9h1.0M364.7 185.0h1.0M361.8 182.9h1.0M364.5 186.4h1.0M361.8 182.4h1.0M360.8 183.4h1.0M361.2 181.3h1.0M362.2 185.2h1.0M360.5 181.1h1.0M359.9 180.1h1.0M359.8 182.2h1.0M368.5 191.7h1.0M366.8 188.0h1.0M364.7 188.6h1.0M366.8 189.5h1.0M369.7 192.3h1.0M367.5 190.5h1.0M367.3 189.1h1.0M365.4 186.7h1.0M368.7 191.6h1.0M367.5 188.4h1.0M367.9 192.2h1.0M362.9 195.8h1.0M366.5 194.1h1.0M363.6 195.1h1.0M365.7 194.5h1.0M364.6 195.2h1.0M364.9 194.5h1.0M364.6 195.3h1.0M364.0 195.8h1.0M362.9 196.0h1.0M364.4 195.7h1.0M363.0 197.4h1.0M362.3 196.8h1.0M361.1 198.4h1.0M361.7 197.8h1.0M362.6 197.0h1.0M360.7 200.6h1.0M360.5 199.1h1.0M360.6 200.8h1.0M357.3 203.3h1.0M359.1 203.4h1.0M357.3 203.6h1.0M359.5 201.2h1.0M357.5 203.6h1.0M356.3 203.2h1.0M360.1 207.2h1.0M360.1 205.2h1.0M360.9 208.3h1.0M360.8 208.7h1.0M362.2 208.1h1.0M361.4 207.1h1.0M358.4 205.6h1.0M357.1 205.1h1.0M360.1 206.6h1.0M362.5 212.1h1.0M362.8 211.3h1.0M364.7 212.9h1.0M363.9 212.3h1.0M361.7 209.4h1.0M360.7 208.4h1.0M362.3 209.8h1.0M364.1 213.0h1.0M362.1 217.8h1.0M363.3 213.4h1.0M361.8 215.9h1.0M362.4 218.0h1.0M362.1 217.3h1.0M362.2 213.5h1.0M362.8 218.3h1.0M361.9 218.7h1.0M360.5 221.6h1.0M360.6 223.5h1.0M361.3 221.7h1.0M358.9 223.2h1.0M359.3 221.1h1.0M358.4 224.4h1.0M359.9 220.7h1.0M359.1 225.0h1.0M360.9 221.4h1.0M359.6 225.2h1.0M358.0 226.3h1.0M358.1 225.6h1.0M354.9 230.4h1.0M356.2 225.9h1.0M357.6 225.8h1.0M357.4 226.9h1.0M354.6 229.1h1.0M359.6 226.4h1.0M356.4 225.7h1.0M353.9 230.0h1.0M353.1 229.5h1.0M353.5 230.1h1.0M353.8 229.6h1.0M353.7 230.6h1.0M350.4 229.9h1.0M350.2 229.2h1.0M345.4 231.7h1.0M346.4 230.6h1.0M347.1 232.8h1.0M347.6 231.1h1.0M348.8 229.6h1.0M348.5 231.2h1.0M344.3 232.0h1.0M344.8 231.9h1.0M343.8 233.2h1.0M344.6 234.3h1.0M344.1 233.8h1.0M344.3 231.2h1.0M344.9 232.1h1.0M343.2 235.4h1.0M342.2 237.8h1.0M341.6 240.5h1.0M342.0 238.1h1.0M342.0 238.8h1.0M342.7 238.8h1.0M341.9 239.5h1.0M342.4 238.8h1.0M341.8 239.9h1.0M342.8 235.7h1.0M341.2 242.0h1.0M339.2 244.6h1.0M340.0 245.6h1.0M339.5 244.9h1.0M339.0 243.0h1.0M337.0 238.4h1.0M338.0 242.0h1.0M338.1 241.9h1.0M337.5 240.3h1.0M337.3 239.1h1.0M337.1 238.1h1.0M337.8 239.5h1.0M338.3 242.5h1.0M337.3 240.1h1.0M335.2 231.9h1.0M335.4 233.7h1.0M336.5 236.8h1.0M334.8 236.0h1.0M336.4 236.8h1.0M335.0 233.7h1.0M335.8 235.1h1.0M336.6 238.7h1.0M336.5 238.1h1.0M333.4 230.2h1.0M332.4 230.1h1.0M330.1 230.2h1.0M330.7 230.7h1.0M332.3 231.5h1.0M334.6 232.2h1.0M331.2 228.6h1.0M326.6 222.2h1.0M327.5 225.4h1.0M330.0 229.7h1.0M327.5 224.6h1.0M328.4 226.0h1.0M327.9 224.5h1.0M330.0 227.6h1.0M328.7 227.1h1.0M327.1 222.4h1.0M329.5 226.9h1.0M324.7 221.6h1.0M326.3 220.7h1.0M324.1 218.9h1.0M325.9 219.4h1.0M324.7 216.6h1.0M324.0 215.0h1.0M325.4 221.4h1.0M323.8 217.5h1.0M325.3 221.6h1.0M325.1 217.0h1.0M324.9 216.7h1.0M322.0 216.1h1.0M322.1 214.6h1.0M321.2 215.9h1.0M321.1 214.9h1.0M323.4 215.9h1.0M322.4 213.6h1.0M319.0 213.4h1.0M317.5 213.7h1.0M316.3 213.9h1.0M318.9 214.1h1.0M318.8 214.3h1.0M317.7 213.7h1.0M312.0 212.5h1.0M313.5 214.4h1.0M312.2 213.5h1.0M312.2 212.3h1.0M313.7 213.0h1.0M310.2 212.0h1.0M308.8 210.0h1.0M310.5 212.1h1.0M311.1 211.2h1.0M308.6 209.9h1.0M308.2 210.9h1.0M311.2 211.8h1.0M311.3 211.3h1.0M304.9 204.2h1.0M304.1 202.6h1.0M304.9 205.0h1.0M305.7 207.4h1.0M305.3 205.6h1.0M302.5 204.0h1.0M307.2 207.7h1.0M303.0 203.8h1.0M305.0 203.7h1.0M305.5 207.9h1.0M301.6 202.4h1.0M302.4 202.0h1.0M301.9 196.6h1.0M301.0 196.2h1.0M302.7 197.9h1.0M303.1 196.8h1.0M302.7 195.8h1.0M303.7 201.6h1.0M301.6 197.3h1.0M302.6 200.7h1.0M301.9 195.3h1.0M303.1 198.6h1.0M302.0 191.3h1.0M302.6 192.0h1.0M303.0 193.4h1.0M300.8 193.0h1.0M302.6 190.2h1.0M301.0 190.9h1.0M302.7 192.9h1.0M301.4 188.3h1.0M302.0 190.9h1.0M300.9 188.6h1.0M301.2 193.8h1.0M300.7 193.9h1.0M303.2 184.7h1.0M302.3 186.7h1.0M302.0 181.0h1.0M302.2 185.2h1.0M302.3 181.7h1.0M303.1 180.0h1.0M302.5 183.4h1.0M304.2 182.3h1.0M303.0 183.6h1.0M303.7 180.0h1.0M304.7 179.1h1.0M305.5 180.0h1.0M305.7 180.7h1.0M306.4 178.4h1.0M309.6 179.2h1.0M309.1 177.7h1.0M305.4 178.7h1.0M306.3 180.1h1.0M307.2 179.8h1.0M310.8 178.9h1.0M312.2 180.8h1.0M312.9 180.5h1.0M311.9 179.4h1.0M312.3 180.6h1.0M313.1 181.2h1.0M312.1 180.2h1.0M310.8 178.6h1.0M312.1 179.9h1.0M318.6 181.5h1.0M319.1 181.1h1.0M317.8 181.0h1.0M320.7 181.0h1.0M318.3 181.9h1.0M319.0 181.4h1.0M320.7 179.8h1.0M321.8 180.7h1.0M319.9 181.3h1.0M316.6 183.2h1.0M316.8 182.6h1.0M318.4 181.6h1.0M323.2 175.1h1.0M322.5 173.6h1.0M323.0 179.1h1.0M322.5 174.9h1.0M323.8 172.3h1.0M323.6 172.4h1.0M323.2 172.9h1.0M323.4 178.3h1.0M323.2 173.5h1.0M322.8 172.4h1.0M322.2 179.3h1.0M323.5 173.0h1.0M322.6 174.9h1.0M323.0 179.3h1.0M329.0 169.8h1.0M325.4 171.5h1.0M328.2 169.9h1.0M328.7 170.8h1.0M328.0 168.3h1.0M324.7 171.5h1.0M325.3 171.0h1.0M328.1 171.0h1.0M325.4 169.7h1.0M324.7 171.9h1.0M333.2 167.8h1.0M332.8 167.5h1.0M331.8 168.7h1.0M332.9 169.0h1.0M334.4 167.6h1.0M330.7 169.7h1.0M331.9 169.5h1.0M334.6 167.9h1.0M334.8 163.7h1.0M334.7 165.7h1.0M335.2 163.5h1.0M335.0 162.8h1.0M336.0 162.2h1.0M335.5 165.0h1.0M335.4 165.7h1.0M337.1 158.5h1.0M336.4 160.7h1.0M336.9 156.6h1.0M336.3 159.6h1.0M336.9 160.0h1.0M336.2 160.9h1.0M335.9 160.6h1.0M337.2 159.3h1.0" stroke="#b8200e" stroke-width="1.0" stroke-linecap="round"/>
<path d="M381.50 196.00 C382.00 195.03 383.00 193.62 384.00 193.20 C385.00 192.78 386.42 193.12 387.50 193.50 C388.58 193.88 390.08 194.58 390.50 195.50 C390.92 196.42 390.42 198.08 390.00 199.00 C389.58 199.92 388.42 200.17 388.00 201.00 C387.58 201.83 387.75 203.25 387.50 204.00 C387.25 204.75 386.83 205.75 386.50 205.50 C386.17 205.25 386.08 203.17 385.50 202.50 C384.92 201.83 383.75 202.08 383.00 201.50 C382.25 200.92 381.25 199.92 381.00 199.00 C380.75 198.08 381.00 196.97 381.50 196.00Z" fill="#2c56b4"/>
<ellipse cx="354.50" cy="167.5" rx="2.4" ry="0.6" transform="rotate(-40 354.50 167.5)" fill="#b01c10"/>
<ellipse cx="366.00" cy="205" rx="2.5" ry="0.8" transform="rotate(35 366.00 205)" fill="#b01c10"/>
<ellipse cx="367.00" cy="211" rx="1.6" ry="0.7" transform="rotate(20 367.00 211)" fill="#b01c10"/>
<ellipse cx="364.50" cy="220" rx="1.2" ry="2.2" transform="rotate(10 364.50 220)" fill="#b01c10"/>
<ellipse cx="357.00" cy="232" rx="1.0" ry="1.8" transform="rotate(0 357.00 232)" fill="#b01c10"/>
<ellipse cx="361.50" cy="228" rx="1.3" ry="1.0" transform="rotate(0 361.50 228)" fill="#b01c10"/>
<ellipse cx="366.50" cy="216" rx="0.9" ry="0.9" transform="rotate(0 366.50 216)" fill="#b01c10"/>
<ellipse cx="311" cy="196" rx="8" ry="14" fill="#cc2a14" opacity="0.55" filter="url(#gsoft)"/>
<ellipse cx="356" cy="212" rx="6" ry="9" fill="#c83018" opacity="0.5" filter="url(#gsoft)"/>
<path d="M302.8 196 Q300.6 205 302.3 214.5" stroke="#c8c040" stroke-width="1.6" fill="none"/>
<path d="M304.5 197 Q303 205 304.8 212" stroke="#e0a030" stroke-width="0.9" fill="none"/>
<path d="M338.2 229 Q341.5 236 339.6 243.5" stroke="#e8701c" stroke-width="2.4" fill="none"/>
<path d="M306 205 Q309 208 311.5 211" stroke="#e05020" stroke-width="1.2" fill="none"/>
<line x1="350" y1="163" x2="354" y2="159" stroke="#1a1a1a" stroke-width="0.9"/>
<line x1="311" y1="179.5" x2="317" y2="179.5" stroke="#1a1a1a" stroke-width="0.9"/>
<line x1="356" y1="203.5" x2="361" y2="201" stroke="#1a1a1a" stroke-width="0.9"/>
<line x1="357" y1="208" x2="362" y2="207.5" stroke="#1a1a1a" stroke-width="0.9"/>
<line x1="353" y1="213" x2="359" y2="214" stroke="#1a1a1a" stroke-width="0.9"/>
<line x1="356" y1="221" x2="360" y2="219" stroke="#1a1a1a" stroke-width="0.9"/>
<line x1="305" y1="193" x2="308" y2="189" stroke="#1a1a1a" stroke-width="0.9"/>
<line x1="335" y1="176" x2="338" y2="173" stroke="#1a1a1a" stroke-width="0.9"/>
<line x1="321" y1="188" x2="324" y2="185" stroke="#1a1a1a" stroke-width="0.9"/>
<line x1="344" y1="190" x2="347" y2="187" stroke="#1a1a1a" stroke-width="0.9"/>
<line x1="330" y1="200" x2="333" y2="197" stroke="#1a1a1a" stroke-width="0.9"/>
<line x1="315.2" y1="211.7" x2="313.7" y2="210.0" stroke="#5a0a06" stroke-width="0.7" opacity="0.8"/>
<line x1="318.1" y1="216.5" x2="318.9" y2="214.2" stroke="#5a0a06" stroke-width="0.7" opacity="0.8"/>
<line x1="334.3" y1="190.9" x2="336.4" y2="190.9" stroke="#5a0a06" stroke-width="0.7" opacity="0.8"/>
<line x1="338.8" y1="183.2" x2="339.3" y2="181.4" stroke="#5a0a06" stroke-width="0.7" opacity="0.8"/>
<line x1="361.9" y1="214.0" x2="363.7" y2="212.2" stroke="#5a0a06" stroke-width="0.7" opacity="0.8"/>
<line x1="307.9" y1="195.1" x2="306.2" y2="195.2" stroke="#5a0a06" stroke-width="0.7" opacity="0.8"/>
<line x1="359.3" y1="196.9" x2="360.9" y2="199.3" stroke="#5a0a06" stroke-width="0.7" opacity="0.8"/>
<line x1="313.0" y1="222.7" x2="310.7" y2="223.4" stroke="#5a0a06" stroke-width="0.7" opacity="0.8"/>
<line x1="325.2" y1="202.3" x2="325.8" y2="203.7" stroke="#5a0a06" stroke-width="0.7" opacity="0.8"/>
<line x1="354.5" y1="190.8" x2="354.8" y2="189.0" stroke="#5a0a06" stroke-width="0.7" opacity="0.8"/>
<line x1="360.3" y1="221.1" x2="360.3" y2="218.3" stroke="#5a0a06" stroke-width="0.7" opacity="0.8"/>
<line x1="338.5" y1="213.6" x2="340.2" y2="215.2" stroke="#5a0a06" stroke-width="0.7" opacity="0.8"/>
<line x1="352.3" y1="189.2" x2="355.0" y2="187.8" stroke="#5a0a06" stroke-width="0.7" opacity="0.8"/>
<line x1="328.9" y1="196.8" x2="326.9" y2="197.5" stroke="#5a0a06" stroke-width="0.7" opacity="0.8"/>
<line x1="361.7" y1="197.8" x2="363.3" y2="198.1" stroke="#5a0a06" stroke-width="0.7" opacity="0.8"/>
<line x1="346.2" y1="225.7" x2="343.9" y2="225.7" stroke="#5a0a06" stroke-width="0.7" opacity="0.8"/>
<line x1="336.8" y1="214.4" x2="337.3" y2="216.9" stroke="#5a0a06" stroke-width="0.7" opacity="0.8"/>
<line x1="337.2" y1="208.6" x2="337.9" y2="210.3" stroke="#5a0a06" stroke-width="0.7" opacity="0.8"/>
<line x1="325.5" y1="222.6" x2="324.1" y2="224.7" stroke="#5a0a06" stroke-width="0.7" opacity="0.8"/>
<line x1="323.2" y1="184.8" x2="325.8" y2="185.9" stroke="#5a0a06" stroke-width="0.7" opacity="0.8"/>
<line x1="349.5" y1="197.2" x2="348.4" y2="194.8" stroke="#5a0a06" stroke-width="0.7" opacity="0.8"/>
<line x1="356.3" y1="224.1" x2="353.7" y2="225.8" stroke="#5a0a06" stroke-width="0.7" opacity="0.8"/>
<line x1="359.8" y1="207.2" x2="361.6" y2="205.6" stroke="#5a0a06" stroke-width="0.7" opacity="0.8"/>
<line x1="327.0" y1="191.4" x2="328.3" y2="190.1" stroke="#5a0a06" stroke-width="0.7" opacity="0.8"/>
<line x1="309.9" y1="217.0" x2="310.2" y2="214.7" stroke="#5a0a06" stroke-width="0.7" opacity="0.8"/>
<line x1="358" y1="210" x2="365" y2="214" stroke="#e07828" stroke-width="0.8"/>
<line x1="357" y1="216" x2="364" y2="222" stroke="#e07828" stroke-width="0.8"/>
<line x1="359" y1="206" x2="366" y2="209" stroke="#e07828" stroke-width="0.8"/>
</g>
<defs><linearGradient id="fcb" x1="0" x2="0" y1="0" y2="1"><stop offset="0.000" stop-color="#1c2550"/><stop offset="0.111" stop-color="#263c80"/><stop offset="0.222" stop-color="#3a6cb0"/><stop offset="0.333" stop-color="#58b0b4"/><stop offset="0.444" stop-color="#b8d070"/><stop offset="0.556" stop-color="#f0c640"/><stop offset="0.667" stop-color="#ec7a28"/><stop offset="0.778" stop-color="#d0381c"/><stop offset="0.889" stop-color="#9e1a14"/><stop offset="1.000" stop-color="#5c0a0a"/></linearGradient></defs>
<rect x="380.30" y="214.20" width="3.90" height="29.20" fill="url(#fcb)" />
<line x1="384.20" y1="214.60" x2="386.00" y2="214.60" stroke="#333" stroke-width="0.5" />
<line x1="384.20" y1="243.00" x2="386.00" y2="243.00" stroke="#333" stroke-width="0.5" />
<text x="386.60" y="216.40" font-size="5.6" text-anchor="start" font-weight="normal" fill="#231f20" >1</text>
<text x="386.60" y="245.20" font-size="5.6" text-anchor="start" font-weight="normal" fill="#231f20" >0</text>
<defs><linearGradient id="gglow" x1="0" x2="1" y1="0" y2="0"><stop offset="0" stop-color="#e8e23a"/><stop offset="0.22" stop-color="#9ad240"/><stop offset="0.45" stop-color="#2aa88a"/><stop offset="0.7" stop-color="#335f9c"/><stop offset="1" stop-color="#3d2a82"/></linearGradient><filter id="gsoft" x="-20%" y="-40%" width="140%" height="180%"><feGaussianBlur stdDeviation="1.1"/></filter><linearGradient id="gbody" x1="0" x2="0.3" y1="0" y2="1"><stop offset="0" stop-color="#3b3288"/><stop offset="1" stop-color="#43237a"/></linearGradient></defs>
<g filter="url(#udense)">
<path d="M446.70 156.90 C447.27 156.52 448.15 158.82 448.60 160.00 C449.05 161.18 449.02 162.75 449.40 164.00 C449.78 165.25 449.93 166.25 450.90 167.50 C451.87 168.75 453.47 170.32 455.20 171.50 C456.93 172.68 459.25 173.32 461.30 174.60 C463.35 175.88 465.45 177.15 467.50 179.20 C469.55 181.25 471.82 184.58 473.60 186.90 C475.38 189.22 478.45 191.55 478.20 193.10 C477.95 194.65 473.63 194.92 472.10 196.20 C470.57 197.48 469.95 199.50 469.00 200.80 C468.05 202.10 466.17 202.72 466.40 204.00 C466.63 205.28 469.32 206.92 470.40 208.50 C471.48 210.08 472.82 211.75 472.90 213.50 C472.98 215.25 471.73 217.08 470.90 219.00 C470.07 220.92 469.15 223.33 467.90 225.00 C466.65 226.67 464.98 228.17 463.40 229.00 C461.82 229.83 459.90 229.58 458.40 230.00 C456.90 230.42 455.48 230.42 454.40 231.50 C453.32 232.58 452.53 234.50 451.90 236.50 C451.27 238.50 451.25 242.22 450.60 243.50 C449.95 244.78 448.73 245.12 448.00 244.20 C447.27 243.28 446.88 240.03 446.20 238.00 C445.52 235.97 444.95 233.58 443.90 232.00 C442.85 230.42 441.23 230.08 439.90 228.50 C438.57 226.92 436.98 224.75 435.90 222.50 C434.82 220.25 434.48 216.48 433.40 215.00 C432.32 213.52 430.82 213.88 429.40 213.60 C427.98 213.32 426.25 213.60 424.90 213.30 C423.55 213.00 422.67 212.60 421.30 211.80 C419.93 211.00 418.10 209.97 416.70 208.50 C415.30 207.03 413.73 205.25 412.90 203.00 C412.07 200.75 411.97 197.68 411.70 195.00 C411.43 192.32 410.98 189.27 411.30 186.90 C411.62 184.53 412.18 182.23 413.60 180.80 C415.02 179.37 418.00 177.92 419.80 178.30 C421.60 178.68 422.35 182.68 424.40 183.10 C426.45 183.52 430.68 182.73 432.10 180.80 C433.52 178.87 431.62 173.30 432.90 171.50 C434.18 169.70 437.88 170.77 439.80 170.00 C441.72 169.23 443.50 168.18 444.40 166.90 C445.30 165.62 444.82 163.97 445.20 162.30 C445.58 160.63 446.13 157.28 446.70 156.90Z" fill="url(#gbody)"/>
<path d="M447.4 157.6h1.0M447.4 156.0h1.0M447.2 158.4h1.0M447.9 158.0h1.0M447.3 158.8h1.0M449.3 161.3h1.0M449.0 162.1h1.0M449.6 160.7h1.0M448.7 159.2h1.0M449.8 161.5h1.0M449.8 164.0h1.0M450.3 164.6h1.0M449.9 164.7h1.0M449.5 164.6h1.0M449.9 164.2h1.0M450.4 166.4h1.0M453.0 170.3h1.0M452.3 167.8h1.0M454.5 169.9h1.0M453.6 170.8h1.0M453.8 169.2h1.0M453.8 170.0h1.0M451.3 167.3h1.0M453.5 169.7h1.0M455.9 171.9h1.0M457.8 172.7h1.0M459.5 171.7h1.0M460.1 172.2h1.0M455.8 171.4h1.0M461.8 173.6h1.0M459.6 174.1h1.0M456.7 172.4h1.0M458.5 172.8h1.0M457.4 172.3h1.0M464.2 177.1h1.0M466.8 176.7h1.0M463.2 176.4h1.0M463.8 177.6h1.0M463.0 174.0h1.0M465.6 176.6h1.0M467.6 176.8h1.0M466.3 177.0h1.0M467.0 178.1h1.0M462.7 175.5h1.0M466.6 179.2h1.0M470.3 180.2h1.0M470.6 180.9h1.0M471.2 183.6h1.0M467.8 178.5h1.0M470.7 181.2h1.0M473.1 185.3h1.0M469.3 179.6h1.0M469.4 180.1h1.0M470.7 182.3h1.0M468.0 179.4h1.0M468.2 180.8h1.0M474.2 184.9h1.0M473.0 184.1h1.0M469.5 179.6h1.0M475.3 187.8h1.0M477.5 190.9h1.0M473.6 187.2h1.0M478.5 190.2h1.0M476.0 188.1h1.0M475.1 189.0h1.0M476.6 190.8h1.0M477.0 191.3h1.0M476.0 188.4h1.0M476.4 188.2h1.0M476.5 191.3h1.0M475.6 194.9h1.0M474.2 195.1h1.0M472.0 195.5h1.0M476.3 194.5h1.0M474.0 195.7h1.0M472.9 195.5h1.0M475.4 194.1h1.0M479.5 193.2h1.0M475.6 195.0h1.0M475.1 194.1h1.0M471.2 199.2h1.0M471.6 198.6h1.0M471.5 197.1h1.0M471.9 198.0h1.0M471.3 198.2h1.0M470.4 199.2h1.0M471.4 197.3h1.0M471.4 200.1h1.0M467.7 200.9h1.0M467.8 201.8h1.0M468.6 203.2h1.0M467.2 203.3h1.0M468.8 203.2h1.0M468.1 203.6h1.0M470.5 208.5h1.0M468.4 206.7h1.0M469.5 206.7h1.0M470.8 209.0h1.0M469.3 205.7h1.0M469.7 206.4h1.0M468.7 206.6h1.0M471.8 208.6h1.0M469.2 206.7h1.0M471.3 209.9h1.0M474.4 213.3h1.0M474.4 213.2h1.0M473.6 213.4h1.0M471.3 210.8h1.0M471.0 210.9h1.0M473.6 211.7h1.0M471.0 209.2h1.0M471.7 214.6h1.0M473.9 217.3h1.0M473.2 216.3h1.0M474.2 215.7h1.0M471.5 215.4h1.0M473.1 214.5h1.0M471.4 218.0h1.0M474.1 215.8h1.0M469.5 220.8h1.0M469.7 223.0h1.0M469.1 225.2h1.0M469.2 221.7h1.0M470.3 219.6h1.0M470.5 223.2h1.0M468.3 222.3h1.0M470.3 221.9h1.0M471.9 221.0h1.0M469.2 225.1h1.0M467.5 226.2h1.0M463.6 228.6h1.0M464.8 229.7h1.0M464.4 228.3h1.0M467.4 226.9h1.0M468.8 226.8h1.0M463.6 229.0h1.0M465.7 227.6h1.0M468.2 226.4h1.0M461.7 228.9h1.0M460.9 229.3h1.0M459.7 230.3h1.0M463.3 230.0h1.0M459.6 228.9h1.0M463.2 230.1h1.0M462.7 229.1h1.0M457.0 231.3h1.0M456.6 232.0h1.0M455.2 230.8h1.0M456.3 230.3h1.0M457.3 231.8h1.0M457.0 230.7h1.0M454.5 232.0h1.0M452.6 235.8h1.0M453.9 234.7h1.0M452.5 234.9h1.0M454.8 232.7h1.0M452.2 237.7h1.0M453.8 236.2h1.0M452.9 233.5h1.0M451.6 239.7h1.0M451.4 239.0h1.0M451.0 243.7h1.0M451.4 241.1h1.0M451.5 239.5h1.0M451.9 238.5h1.0M451.4 240.9h1.0M451.0 241.1h1.0M451.5 242.1h1.0M451.4 237.1h1.0M450.3 242.9h1.0M449.5 243.4h1.0M451.0 245.3h1.0M448.4 243.3h1.0M447.8 242.7h1.0M448.1 245.2h1.0M446.7 240.5h1.0M447.0 243.1h1.0M447.8 243.7h1.0M446.4 241.4h1.0M448.5 245.5h1.0M446.3 239.7h1.0M447.0 239.3h1.0M444.5 232.4h1.0M444.2 234.2h1.0M446.2 238.5h1.0M443.9 233.9h1.0M445.4 236.2h1.0M445.7 238.0h1.0M444.5 235.4h1.0M445.0 235.3h1.0M445.2 237.3h1.0M440.3 229.5h1.0M440.8 228.8h1.0M443.1 230.9h1.0M440.8 228.8h1.0M440.1 229.5h1.0M441.3 230.9h1.0M441.1 230.1h1.0M440.2 228.3h1.0M436.7 223.1h1.0M439.0 226.5h1.0M438.6 229.4h1.0M436.5 224.9h1.0M437.7 226.0h1.0M439.4 229.3h1.0M437.9 224.4h1.0M438.7 228.1h1.0M438.9 226.6h1.0M433.9 221.5h1.0M433.9 218.2h1.0M432.5 217.3h1.0M434.1 216.7h1.0M434.5 219.3h1.0M435.2 220.9h1.0M434.9 222.9h1.0M435.3 221.4h1.0M434.2 217.9h1.0M433.1 216.0h1.0M434.5 220.9h1.0M431.6 215.1h1.0M430.3 215.0h1.0M431.2 214.2h1.0M432.5 214.0h1.0M432.3 215.0h1.0M432.9 214.1h1.0M428.2 212.7h1.0M426.0 213.4h1.0M424.3 214.0h1.0M427.6 214.5h1.0M428.9 214.4h1.0M425.2 212.9h1.0M423.5 212.7h1.0M424.8 213.0h1.0M420.8 213.0h1.0M422.8 212.7h1.0M423.1 213.6h1.0M419.3 211.1h1.0M417.9 211.6h1.0M417.0 210.7h1.0M416.9 208.8h1.0M419.7 210.9h1.0M419.6 212.0h1.0M416.6 208.4h1.0M418.8 209.2h1.0M415.2 207.3h1.0M415.8 206.5h1.0M415.6 205.6h1.0M415.6 206.2h1.0M413.1 205.1h1.0M413.8 206.2h1.0M415.1 206.3h1.0M412.5 203.5h1.0M413.9 203.5h1.0M416.2 208.8h1.0M412.6 196.1h1.0M410.2 200.1h1.0M412.9 201.4h1.0M410.3 197.1h1.0M410.2 195.6h1.0M410.4 195.3h1.0M412.1 196.5h1.0M413.3 199.0h1.0M410.5 195.7h1.0M410.3 195.5h1.0M410.6 195.5h1.0M411.0 201.4h1.0M411.1 193.7h1.0M412.1 194.6h1.0M411.0 190.4h1.0M411.6 187.9h1.0M410.0 193.5h1.0M410.9 193.7h1.0M410.2 190.3h1.0M410.3 193.6h1.0M410.1 193.2h1.0M410.1 190.6h1.0M410.8 188.8h1.0M411.5 190.0h1.0M414.1 181.2h1.0M411.7 180.7h1.0M413.0 183.6h1.0M412.7 182.7h1.0M411.2 181.9h1.0M413.2 180.5h1.0M411.1 185.4h1.0M414.1 181.4h1.0M413.1 180.6h1.0M418.5 179.0h1.0M415.4 180.2h1.0M416.2 179.8h1.0M416.6 179.1h1.0M412.9 180.3h1.0M417.1 177.8h1.0M417.1 179.5h1.0M415.2 179.6h1.0M414.0 180.1h1.0M414.5 180.3h1.0M420.9 179.5h1.0M422.7 181.6h1.0M423.2 182.1h1.0M424.6 183.6h1.0M423.7 182.1h1.0M423.0 181.5h1.0M421.7 179.5h1.0M423.2 182.4h1.0M422.9 181.4h1.0M426.2 183.2h1.0M431.6 181.5h1.0M425.3 183.1h1.0M432.1 181.8h1.0M427.1 181.1h1.0M425.7 183.3h1.0M431.0 181.7h1.0M430.9 181.0h1.0M428.0 182.1h1.0M424.3 182.2h1.0M429.4 180.8h1.0M424.5 183.2h1.0M431.7 175.1h1.0M432.4 177.2h1.0M432.0 177.3h1.0M432.2 173.3h1.0M432.7 175.5h1.0M431.6 174.6h1.0M432.9 175.5h1.0M432.2 173.8h1.0M432.5 173.6h1.0M431.5 175.6h1.0M433.1 176.2h1.0M432.9 171.8h1.0M432.4 176.4h1.0M432.3 171.8h1.0M432.4 170.3h1.0M437.1 170.0h1.0M438.5 170.9h1.0M434.8 170.7h1.0M433.9 171.1h1.0M438.3 169.7h1.0M438.6 170.1h1.0M435.9 168.8h1.0M439.4 170.3h1.0M434.4 170.8h1.0M440.3 169.5h1.0M443.9 167.2h1.0M441.2 168.9h1.0M440.4 168.5h1.0M439.6 169.0h1.0M441.1 168.6h1.0M441.1 170.3h1.0M440.6 168.1h1.0M445.5 162.5h1.0M444.2 164.7h1.0M445.0 167.0h1.0M445.5 161.2h1.0M444.7 167.2h1.0M445.3 162.3h1.0M444.9 163.6h1.0M446.1 156.8h1.0M446.9 157.9h1.0M444.9 161.4h1.0M445.6 161.6h1.0M446.1 157.4h1.0M446.8 156.8h1.0M445.5 161.4h1.0M445.4 159.7h1.0" stroke="#3e2a80" stroke-width="1.0" stroke-linecap="round"/>
<path d="M490.90 196.00 C491.40 195.03 492.40 193.62 493.40 193.20 C494.40 192.78 495.82 193.12 496.90 193.50 C497.98 193.88 499.48 194.58 499.90 195.50 C500.32 196.42 499.82 198.08 499.40 199.00 C498.98 199.92 497.82 200.17 497.40 201.00 C496.98 201.83 497.15 203.25 496.90 204.00 C496.65 204.75 496.23 205.75 495.90 205.50 C495.57 205.25 495.48 203.17 494.90 202.50 C494.32 201.83 493.15 202.08 492.40 201.50 C491.65 200.92 490.65 199.92 490.40 199.00 C490.15 198.08 490.40 196.97 490.90 196.00Z" fill="#2e1e5a"/>
<ellipse cx="463.90" cy="167.5" rx="2.4" ry="0.6" transform="rotate(-40 463.90 167.5)" fill="#3d2a82"/>
<ellipse cx="475.40" cy="205" rx="2.5" ry="0.8" transform="rotate(35 475.40 205)" fill="#3d2a82"/>
<ellipse cx="476.40" cy="211" rx="1.6" ry="0.7" transform="rotate(20 476.40 211)" fill="#3d2a82"/>
<ellipse cx="473.90" cy="220" rx="1.2" ry="2.2" transform="rotate(10 473.90 220)" fill="#3d2a82"/>
<ellipse cx="466.40" cy="232" rx="1.0" ry="1.8" transform="rotate(0 466.40 232)" fill="#3d2a82"/>
<ellipse cx="470.90" cy="228" rx="1.3" ry="1.0" transform="rotate(0 470.90 228)" fill="#3d2a82"/>
<ellipse cx="475.90" cy="216" rx="0.9" ry="0.9" transform="rotate(0 475.90 216)" fill="#3d2a82"/>
<path d="M417.5 187.5 Q424 182.5 432 182.3 Q440 184.5 442 189.5 Q437 195 429 197 Q421 197.6 417.5 193.5 Z" fill="url(#gglow)" filter="url(#gsoft)"/>
<path d="M424.5 185.6 Q412.8 191 411.8 200 Q411.2 207 411.6 213" stroke="#f0e040" stroke-width="1.4" fill="none"/>
<path d="M433 177.5 Q437 176 441 178" stroke="#c8c8e8" stroke-width="1.2" fill="none" opacity="0.8"/>
</g>
<defs><linearGradient id="gcb" x1="0" x2="0" y1="0" y2="1"><stop offset="0" stop-color="#c2cf3c"/><stop offset="0.25" stop-color="#6cbf5a"/><stop offset="0.5" stop-color="#24968a"/><stop offset="0.75" stop-color="#2d5a86"/><stop offset="1" stop-color="#2a1d4e"/></linearGradient></defs>
<rect x="484.30" y="213.20" width="3.50" height="28.20" fill="url(#gcb)" />
<line x1="487.80" y1="217.20" x2="489.60" y2="217.20" stroke="#333" stroke-width="0.6" />
<text x="493.00" y="219.30" font-size="5.7" text-anchor="start" font-weight="normal" fill="#231f20" >0.50</text>
<line x1="487.80" y1="229.40" x2="489.60" y2="229.40" stroke="#333" stroke-width="0.6" />
<text x="493.00" y="231.50" font-size="5.7" text-anchor="start" font-weight="normal" fill="#231f20" >0.25</text>
<line x1="487.80" y1="240.00" x2="489.60" y2="240.00" stroke="#333" stroke-width="0.6" />
<text x="493.00" y="242.10" font-size="5.7" text-anchor="start" font-weight="normal" fill="#231f20" >0.00</text>
<line x1="57.20" y1="341.00" x2="57.20" y2="427.40" stroke="#231f20" stroke-width="0.9" />
<line x1="57.20" y1="427.00" x2="173.00" y2="427.00" stroke="#231f20" stroke-width="0.9" />
<line x1="54.00" y1="344.40" x2="57.20" y2="344.40" stroke="#231f20" stroke-width="0.7" />
<text x="51.80" y="346.60" font-size="6.3" text-anchor="end" font-weight="normal" fill="#231f20" >1</text>
<line x1="54.00" y1="364.20" x2="57.20" y2="364.20" stroke="#231f20" stroke-width="0.7" />
<text x="51.80" y="366.40" font-size="6.3" text-anchor="end" font-weight="normal" fill="#231f20" >0.75</text>
<line x1="54.00" y1="384.00" x2="57.20" y2="384.00" stroke="#231f20" stroke-width="0.7" />
<text x="51.80" y="386.20" font-size="6.3" text-anchor="end" font-weight="normal" fill="#231f20" >0.50</text>
<line x1="54.00" y1="403.80" x2="57.20" y2="403.80" stroke="#231f20" stroke-width="0.7" />
<text x="51.80" y="406.00" font-size="6.3" text-anchor="end" font-weight="normal" fill="#231f20" >0.25</text>
<line x1="54.00" y1="423.60" x2="57.20" y2="423.60" stroke="#231f20" stroke-width="0.7" />
<text x="51.80" y="425.80" font-size="6.3" text-anchor="end" font-weight="normal" fill="#231f20" >0</text>
<text transform="translate(32.6 384.0) rotate(-90)" font-size="6.6" textLength="58" lengthAdjust="spacingAndGlyphs" text-anchor="middle" fill="#231f20">Fraction of single cells</text>
<rect x="59.60" y="400.63" width="14.60" height="22.97" fill="#a3b882" />
<rect x="59.60" y="382.42" width="14.60" height="18.22" fill="#8a84c4" />
<rect x="59.60" y="360.24" width="14.60" height="22.18" fill="#e6077c" />
<rect x="59.60" y="347.96" width="14.60" height="12.28" fill="#dddbe4" />
<rect x="59.60" y="344.40" width="14.60" height="3.56" fill="#855626" />
<line x1="66.90" y1="427.00" x2="66.90" y2="429.60" stroke="#231f20" stroke-width="0.7" />
<text transform="translate(72.50 437.6) rotate(-45)" font-size="6.2" text-anchor="end" fill="#231f20">Fresh c-Kit+</text>
<rect x="75.94" y="404.20" width="14.60" height="19.40" fill="#a3b882" />
<rect x="75.94" y="396.28" width="14.60" height="7.92" fill="#8a84c4" />
<rect x="75.94" y="376.08" width="14.60" height="20.20" fill="#e6077c" />
<rect x="75.94" y="350.89" width="14.60" height="25.19" fill="#dddbe4" />
<rect x="75.94" y="344.40" width="14.60" height="6.49" fill="#855626" />
<line x1="83.24" y1="427.00" x2="83.24" y2="429.60" stroke="#231f20" stroke-width="0.7" />
<text transform="translate(88.84 437.6) rotate(-45)" font-size="6.2" text-anchor="end" fill="#231f20">20% O2 r1</text>
<rect x="92.28" y="418.85" width="14.60" height="4.75" fill="#a3b882" />
<rect x="92.28" y="404.99" width="14.60" height="13.86" fill="#8a84c4" />
<rect x="92.28" y="389.94" width="14.60" height="15.05" fill="#e6077c" />
<rect x="92.28" y="348.52" width="14.60" height="41.42" fill="#dddbe4" />
<rect x="92.28" y="344.40" width="14.60" height="4.12" fill="#855626" />
<line x1="99.58" y1="427.00" x2="99.58" y2="429.60" stroke="#231f20" stroke-width="0.7" />
<text transform="translate(105.18 437.6) rotate(-45)" font-size="6.2" text-anchor="end" fill="#231f20">20% O2 r2</text>
<rect x="108.62" y="418.85" width="14.60" height="4.75" fill="#a3b882" />
<rect x="108.62" y="413.30" width="14.60" height="5.54" fill="#8a84c4" />
<rect x="108.62" y="411.72" width="14.60" height="1.58" fill="#e6077c" />
<rect x="108.62" y="360.24" width="14.60" height="51.48" fill="#dddbe4" />
<rect x="108.62" y="344.40" width="14.60" height="15.84" fill="#855626" />
<line x1="115.92" y1="427.00" x2="115.92" y2="429.60" stroke="#231f20" stroke-width="0.7" />
<text transform="translate(121.52 437.6) rotate(-45)" font-size="6.2" text-anchor="end" fill="#231f20">5% O2 r1</text>
<circle cx="115.92" cy="352.5" r="0.55" fill="#222"/>
<circle cx="115.92" cy="388.5" r="0.55" fill="#222"/>
<circle cx="115.92" cy="412.52" r="0.55" fill="#222"/>
<rect x="124.96" y="418.85" width="14.60" height="4.75" fill="#a3b882" />
<rect x="124.96" y="413.70" width="14.60" height="5.15" fill="#8a84c4" />
<rect x="124.96" y="411.72" width="14.60" height="1.98" fill="#e6077c" />
<rect x="124.96" y="359.61" width="14.60" height="52.11" fill="#dddbe4" />
<rect x="124.96" y="344.40" width="14.60" height="15.21" fill="#855626" />
<line x1="132.26" y1="427.00" x2="132.26" y2="429.60" stroke="#231f20" stroke-width="0.7" />
<text transform="translate(137.86 437.6) rotate(-45)" font-size="6.2" text-anchor="end" fill="#231f20">5% O2 r2</text>
<circle cx="132.26" cy="352.5" r="0.55" fill="#222"/>
<circle cx="132.26" cy="388.5" r="0.55" fill="#222"/>
<circle cx="132.26" cy="412.52" r="0.55" fill="#222"/>
<rect x="141.30" y="418.85" width="14.60" height="4.75" fill="#a3b882" />
<rect x="141.30" y="413.70" width="14.60" height="5.15" fill="#8a84c4" />
<rect x="141.30" y="412.51" width="14.60" height="1.19" fill="#e6077c" />
<rect x="141.30" y="359.45" width="14.60" height="53.06" fill="#dddbe4" />
<rect x="141.30" y="344.40" width="14.60" height="15.05" fill="#855626" />
<line x1="148.60" y1="427.00" x2="148.60" y2="429.60" stroke="#231f20" stroke-width="0.7" />
<text transform="translate(154.20 437.6) rotate(-45)" font-size="6.2" text-anchor="end" fill="#231f20">1% O2 r1</text>
<circle cx="148.60" cy="352.5" r="0.55" fill="#222"/>
<circle cx="148.60" cy="388.5" r="0.55" fill="#222"/>
<circle cx="148.60" cy="413.31" r="0.55" fill="#222"/>
<rect x="157.64" y="416.47" width="14.60" height="7.13" fill="#a3b882" />
<rect x="157.64" y="410.93" width="14.60" height="5.54" fill="#8a84c4" />
<rect x="157.64" y="408.95" width="14.60" height="1.98" fill="#e6077c" />
<rect x="157.64" y="360.24" width="14.60" height="48.71" fill="#dddbe4" />
<rect x="157.64" y="344.40" width="14.60" height="15.84" fill="#855626" />
<line x1="164.94" y1="427.00" x2="164.94" y2="429.60" stroke="#231f20" stroke-width="0.7" />
<text transform="translate(170.54 437.6) rotate(-45)" font-size="6.2" text-anchor="end" fill="#231f20">1% O2 r2</text>
<circle cx="164.94" cy="352.5" r="0.55" fill="#222"/>
<circle cx="164.94" cy="388.5" r="0.55" fill="#222"/>
<circle cx="164.94" cy="409.75" r="0.55" fill="#222"/>
<rect x="177.80" y="364.60" width="7.20" height="7.20" fill="#855626" />
<text x="187.60" y="370.40" font-size="6.4" text-anchor="start" font-weight="normal" fill="#231f20" >HSC</text>
<rect x="177.80" y="373.85" width="7.20" height="7.20" fill="#dddbe4" />
<text x="187.60" y="379.65" font-size="6.4" text-anchor="start" font-weight="normal" fill="#231f20" >Intermediate prog</text>
<rect x="177.80" y="383.10" width="7.20" height="7.20" fill="#e6077c" />
<text x="187.60" y="388.90" font-size="6.4" text-anchor="start" font-weight="normal" fill="#231f20" >Ery/Bas/MC/Meg prog</text>
<rect x="177.80" y="392.35" width="7.20" height="7.20" fill="#8a84c4" />
<text x="187.60" y="398.15" font-size="6.4" text-anchor="start" font-weight="normal" fill="#231f20" >Neu/Mono/DC</text>
<rect x="177.80" y="401.60" width="7.20" height="7.20" fill="#a3b882" />
<text x="187.60" y="407.40" font-size="6.4" text-anchor="start" font-weight="normal" fill="#231f20" >Other</text>
<line x1="329.50" y1="276.50" x2="329.50" y2="355.40" stroke="#231f20" stroke-width="0.9" />
<line x1="329.10" y1="355.00" x2="477.50" y2="355.00" stroke="#231f20" stroke-width="0.9" />
<line x1="327.20" y1="351.10" x2="329.50" y2="351.10" stroke="#231f20" stroke-width="0.7" />
<text x="325.00" y="353.20" font-size="6.0" text-anchor="end" font-weight="normal" fill="#231f20" >0</text>
<line x1="327.20" y1="325.70" x2="329.50" y2="325.70" stroke="#231f20" stroke-width="0.7" />
<text x="325.00" y="327.80" font-size="6.0" text-anchor="end" font-weight="normal" fill="#231f20" >50</text>
<line x1="327.20" y1="300.30" x2="329.50" y2="300.30" stroke="#231f20" stroke-width="0.7" />
<text x="325.00" y="302.40" font-size="6.0" text-anchor="end" font-weight="normal" fill="#231f20" >100</text>
<line x1="336.20" y1="355.00" x2="336.20" y2="357.40" stroke="#231f20" stroke-width="0.7" />
<text x="336.20" y="365.80" font-size="6.0" text-anchor="middle" font-weight="normal" fill="#231f20" >0.00</text>
<line x1="363.26" y1="355.00" x2="363.26" y2="357.40" stroke="#231f20" stroke-width="0.7" />
<text x="363.26" y="365.80" font-size="6.0" text-anchor="middle" font-weight="normal" fill="#231f20" >0.01</text>
<line x1="390.32" y1="355.00" x2="390.32" y2="357.40" stroke="#231f20" stroke-width="0.7" />
<text x="390.32" y="365.80" font-size="6.0" text-anchor="middle" font-weight="normal" fill="#231f20" >0.02</text>
<line x1="417.38" y1="355.00" x2="417.38" y2="357.40" stroke="#231f20" stroke-width="0.7" />
<text x="417.38" y="365.80" font-size="6.0" text-anchor="middle" font-weight="normal" fill="#231f20" >0.03</text>
<line x1="444.44" y1="355.00" x2="444.44" y2="357.40" stroke="#231f20" stroke-width="0.7" />
<text x="444.44" y="365.80" font-size="6.0" text-anchor="middle" font-weight="normal" fill="#231f20" >0.04</text>
<line x1="471.50" y1="355.00" x2="471.50" y2="357.40" stroke="#231f20" stroke-width="0.7" />
<text x="471.50" y="365.80" font-size="6.0" text-anchor="middle" font-weight="normal" fill="#231f20" >0.05</text>
<text transform="translate(306.8 315.6) rotate(-90)" font-size="6.6" text-anchor="middle" fill="#231f20" textLength="19.5" lengthAdjust="spacingAndGlyphs">Density</text>
<text x="403.50" y="377.60" font-size="6.8" text-anchor="middle" font-weight="normal" fill="#231f20" textLength="41.8" lengthAdjust="spacingAndGlyphs" >Dpt_pseudotime</text>
<line x1="377.70" y1="276.50" x2="377.70" y2="355.00" stroke="#777" stroke-width="0.9" />
<line x1="400.70" y1="276.50" x2="400.70" y2="355.00" stroke="#777" stroke-width="0.9" />
<line x1="390.60" y1="291.00" x2="390.60" y2="298.00" stroke="#111" stroke-width="0.9" />
<path d="M388.9 297.2 L392.3 297.2 L390.6 300.4Z" fill="#111"/>
<path d="M336.20 350.85 C338.00 350.63 343.87 351.40 347.02 349.58 C350.18 347.76 352.89 343.48 355.14 339.92 C357.40 336.37 358.75 330.95 360.55 328.24 C362.36 325.53 364.16 324.01 365.97 323.67 C367.77 323.33 369.12 324.60 371.38 326.21 C373.63 327.82 376.79 331.37 379.50 333.32 C382.20 335.27 384.46 336.62 387.61 337.89 C390.77 339.16 394.83 340.43 398.44 340.94 C402.05 341.45 405.65 341.02 409.26 340.94 C412.87 340.86 416.48 340.35 420.09 340.43 C423.69 340.52 426.85 340.60 430.91 341.45 C434.97 342.29 439.93 344.24 444.44 345.51 C448.95 346.78 453.46 348.18 457.97 349.07 C462.48 349.96 469.25 350.55 471.50 350.85" fill="none" stroke="#6b2463" stroke-width="1.15"/>
<path d="M336.20 350.85 C338.00 350.55 343.87 351.57 347.02 349.07 C350.18 346.57 352.89 340.43 355.14 335.86 C357.40 331.29 358.98 325.02 360.55 321.64 C362.13 318.25 363.26 316.13 364.61 315.54 C365.97 314.95 367.09 316.39 368.67 318.08 C370.25 319.77 371.83 323.41 374.08 325.70 C376.34 327.99 379.50 329.85 382.20 331.80 C384.91 333.74 387.16 335.86 390.32 337.38 C393.48 338.91 397.54 340.01 401.14 340.94 C404.75 341.87 407.91 342.55 411.97 342.97 C416.03 343.40 421.44 343.14 425.50 343.48 C429.56 343.82 432.26 344.24 436.32 345.00 C440.38 345.77 445.34 347.21 449.85 348.05 C454.36 348.90 459.77 349.62 463.38 350.08 C466.99 350.55 470.15 350.72 471.50 350.85" fill="none" stroke="#c2185b" stroke-width="1.15"/>
<path d="M336.20 350.85 C338.00 350.72 343.87 351.06 347.02 350.08 C350.18 349.11 352.44 347.54 355.14 345.00 C357.85 342.46 360.55 339.08 363.26 334.84 C365.97 330.61 368.90 324.68 371.38 319.60 C373.86 314.52 376.56 307.33 378.14 304.36 C379.72 301.40 379.72 301.23 380.85 301.82 C381.98 302.42 383.56 303.52 384.91 307.92 C386.26 312.32 387.61 322.91 388.97 328.24 C390.32 333.57 391.00 337.47 393.03 339.92 C395.06 342.38 397.99 342.13 401.14 342.97 C404.30 343.82 407.91 344.58 411.97 345.00 C416.03 345.43 420.99 345.26 425.50 345.51 C430.01 345.77 434.52 345.94 439.03 346.53 C443.54 347.12 447.15 348.35 452.56 349.07 C457.97 349.79 468.34 350.55 471.50 350.85" fill="none" stroke="#e0338f" stroke-width="1.15"/>
<path d="M336.20 350.85 C338.00 350.63 344.32 350.97 347.02 349.58 C349.73 348.18 350.63 348.14 352.44 342.46 C354.24 336.79 356.27 322.91 357.85 315.54 C359.43 308.17 360.55 301.99 361.91 298.27 C363.26 294.54 364.39 293.53 365.97 293.19 C367.54 292.85 369.80 293.87 371.38 296.24 C372.96 298.61 374.08 303.69 375.44 307.41 C376.79 311.14 378.14 314.35 379.50 318.59 C380.85 322.82 382.20 328.41 383.56 332.81 C384.91 337.21 386.04 342.29 387.61 345.00 C389.19 347.71 390.32 348.26 393.03 349.07 C395.73 349.87 397.54 349.62 403.85 349.83 C410.16 350.04 421.89 350.19 430.91 350.34 C439.93 350.48 451.20 350.59 457.97 350.69 C464.73 350.80 469.25 350.91 471.50 350.95" fill="none" stroke="#3e9a3c" stroke-width="1.15"/>
<path d="M336.20 350.85 C338.00 350.63 344.32 351.06 347.02 349.58 C349.73 348.09 350.63 347.80 352.44 341.96 C354.24 336.11 356.27 321.97 357.85 314.52 C359.43 307.07 360.55 301.06 361.91 297.25 C363.26 293.44 364.39 291.83 365.97 291.66 C367.54 291.49 369.80 293.27 371.38 296.24 C372.96 299.20 374.08 304.70 375.44 309.44 C376.79 314.19 378.14 319.60 379.50 324.68 C380.85 329.76 382.20 336.11 383.56 339.92 C384.91 343.73 386.04 345.94 387.61 347.54 C389.19 349.15 390.32 349.11 393.03 349.58 C395.73 350.04 397.54 350.17 403.85 350.34 C410.16 350.51 419.63 350.49 430.91 350.59 C442.18 350.69 464.74 350.89 471.50 350.95" fill="none" stroke="#a5d17f" stroke-width="1.15"/>
<path d="M336.20 350.85 C338.00 350.63 344.32 351.23 347.02 349.58 C349.73 347.93 350.63 347.46 352.44 340.94 C354.24 334.42 356.27 318.76 357.85 310.46 C359.43 302.16 360.46 295.22 361.91 291.16 C363.35 287.09 365.15 286.25 366.51 286.08 C367.86 285.91 368.76 286.75 370.02 290.14 C371.29 293.53 372.73 300.30 374.08 306.40 C375.44 312.49 376.79 320.79 378.14 326.72 C379.50 332.64 380.62 338.40 382.20 341.96 C383.78 345.51 385.36 346.70 387.61 348.05 C389.87 349.41 388.52 349.66 395.73 350.08 C402.95 350.51 418.28 350.45 430.91 350.59 C443.54 350.74 464.74 350.89 471.50 350.95" fill="none" stroke="#1b5c8a" stroke-width="1.15"/>
<path d="M336.20 350.85 C338.00 350.63 344.32 351.40 347.02 349.58 C349.73 347.76 350.63 346.87 352.44 339.92 C354.24 332.98 356.27 316.89 357.85 307.92 C359.43 298.95 360.46 290.73 361.91 286.08 C363.35 281.42 365.15 279.98 366.51 279.98 C367.86 279.98 368.76 281.67 370.02 286.08 C371.29 290.48 372.73 299.37 374.08 306.40 C375.44 313.42 376.79 322.14 378.14 328.24 C379.50 334.34 380.62 339.59 382.20 342.97 C383.78 346.36 385.36 347.37 387.61 348.56 C389.87 349.75 388.52 349.75 395.73 350.08 C402.95 350.42 418.28 350.45 430.91 350.59 C443.54 350.74 464.74 350.89 471.50 350.95" fill="none" stroke="#5ab6e0" stroke-width="1.15"/>
<rect x="438.9" y="286.60" width="3.6" height="3.8" fill="#fff" stroke="#5ab6e0" stroke-width="0.9"/>
<text x="446.00" y="290.50" font-size="5.4" text-anchor="start" font-weight="normal" fill="#231f20" >1% O2 r1</text>
<rect x="438.9" y="292.58" width="3.6" height="3.8" fill="#fff" stroke="#1b5c8a" stroke-width="0.9"/>
<text x="446.00" y="296.48" font-size="5.4" text-anchor="start" font-weight="normal" fill="#231f20" >1% O2 r2</text>
<rect x="438.9" y="298.56" width="3.6" height="3.8" fill="#fff" stroke="#a5d17f" stroke-width="0.9"/>
<text x="446.00" y="302.46" font-size="5.4" text-anchor="start" font-weight="normal" fill="#231f20" >5% O2 r1</text>
<rect x="438.9" y="304.54" width="3.6" height="3.8" fill="#fff" stroke="#3e9a3c" stroke-width="0.9"/>
<text x="446.00" y="308.44" font-size="5.4" text-anchor="start" font-weight="normal" fill="#231f20" >5% O2 r2</text>
<rect x="438.9" y="310.52" width="3.6" height="3.8" fill="#fff" stroke="#e0338f" stroke-width="0.9"/>
<text x="446.00" y="314.42" font-size="5.4" text-anchor="start" font-weight="normal" fill="#231f20" >20% O2 r1</text>
<rect x="438.9" y="316.50" width="3.6" height="3.8" fill="#fff" stroke="#c2185b" stroke-width="0.9"/>
<text x="446.00" y="320.40" font-size="5.4" text-anchor="start" font-weight="normal" fill="#231f20" >20% O2 r2</text>
<rect x="438.9" y="322.48" width="3.6" height="3.8" fill="#fff" stroke="#6b2463" stroke-width="0.9"/>
<text x="446.00" y="326.38" font-size="5.4" text-anchor="start" font-weight="normal" fill="#231f20" >Fresh c-Kit+</text>
<defs><linearGradient id="hr0" x1="0" x2="1" y1="0" y2="0"><stop offset="0.0007" stop-color="#f7f1bd"/><stop offset="0.1240" stop-color="#f3f2cc"/><stop offset="0.1993" stop-color="#deebee"/><stop offset="0.2610" stop-color="#a6c7e3"/><stop offset="0.4459" stop-color="#87b2da"/><stop offset="0.9116" stop-color="#82aed8"/><stop offset="0.9527" stop-color="#f8f0b6"/><stop offset="1.0007" stop-color="#fbe58f"/></linearGradient><linearGradient id="hr1" x1="0" x2="1" y1="0" y2="0"><stop offset="0.0007" stop-color="#e76b3a"/><stop offset="0.0281" stop-color="#eb7941"/><stop offset="0.0623" stop-color="#fce085"/><stop offset="0.1034" stop-color="#f9eeab"/><stop offset="0.1651" stop-color="#f8efb5"/><stop offset="0.2130" stop-color="#e5f0ee"/><stop offset="0.2541" stop-color="#b7d1e8"/><stop offset="0.2747" stop-color="#93bade"/><stop offset="0.3500" stop-color="#88b3da"/><stop offset="0.4390" stop-color="#97bddf"/><stop offset="0.4527" stop-color="#85b0d9"/><stop offset="0.7747" stop-color="#80acd7"/><stop offset="1.0007" stop-color="#8cb6dc"/></linearGradient><linearGradient id="hr2" x1="0" x2="1" y1="0" y2="0"><stop offset="0.0007" stop-color="#e76c3b"/><stop offset="0.0281" stop-color="#eb7a41"/><stop offset="0.0623" stop-color="#fbe693"/><stop offset="0.1034" stop-color="#fbe896"/><stop offset="0.1651" stop-color="#f9eda9"/><stop offset="0.2130" stop-color="#e9f2eb"/><stop offset="0.2541" stop-color="#c9dded"/><stop offset="0.2747" stop-color="#a5c6e3"/><stop offset="0.3500" stop-color="#88b3da"/><stop offset="0.4390" stop-color="#a3c4e2"/><stop offset="0.4527" stop-color="#8ab4db"/><stop offset="0.7747" stop-color="#81add7"/><stop offset="1.0007" stop-color="#82aed8"/></linearGradient><linearGradient id="hr3" x1="0" x2="1" y1="0" y2="0"><stop offset="0.0007" stop-color="#e15832"/><stop offset="0.0281" stop-color="#e56638"/><stop offset="0.0623" stop-color="#fbe794"/><stop offset="0.1034" stop-color="#fbe898"/><stop offset="0.1651" stop-color="#f8efb2"/><stop offset="0.2130" stop-color="#e5f0ee"/><stop offset="0.2541" stop-color="#cfe1ee"/><stop offset="0.2747" stop-color="#84afd8"/><stop offset="0.3500" stop-color="#89b3db"/><stop offset="0.4390" stop-color="#91b9dd"/><stop offset="0.4527" stop-color="#93bbde"/><stop offset="0.7747" stop-color="#88b3da"/><stop offset="1.0007" stop-color="#88b3da"/></linearGradient><linearGradient id="hr4" x1="0" x2="1" y1="0" y2="0"><stop offset="0.0007" stop-color="#fce186"/><stop offset="0.0281" stop-color="#fce186"/><stop offset="0.0623" stop-color="#fbe896"/><stop offset="0.1034" stop-color="#fbe591"/><stop offset="0.1651" stop-color="#f8efb0"/><stop offset="0.2130" stop-color="#e3eeee"/><stop offset="0.2541" stop-color="#d0e1ee"/><stop offset="0.2747" stop-color="#94bbde"/><stop offset="0.3500" stop-color="#a8c8e4"/><stop offset="0.4390" stop-color="#9fc2e1"/><stop offset="0.4527" stop-color="#8ab4db"/><stop offset="0.7747" stop-color="#99bedf"/><stop offset="1.0007" stop-color="#82aed8"/></linearGradient><linearGradient id="hr5" x1="0" x2="1" y1="0" y2="0"><stop offset="0.0007" stop-color="#fbd67d"/><stop offset="0.0281" stop-color="#fbd67d"/><stop offset="0.0623" stop-color="#faea9b"/><stop offset="0.1034" stop-color="#faea9b"/><stop offset="0.1651" stop-color="#f6f2c3"/><stop offset="0.2130" stop-color="#eaf2e8"/><stop offset="0.2541" stop-color="#d4e4ee"/><stop offset="0.2747" stop-color="#95bcdf"/><stop offset="0.3500" stop-color="#a8c8e4"/><stop offset="0.4390" stop-color="#94bbde"/><stop offset="0.4527" stop-color="#94bbde"/><stop offset="0.7747" stop-color="#8cb6dc"/><stop offset="1.0007" stop-color="#92bade"/></linearGradient><linearGradient id="hr6" x1="0" x2="1" y1="0" y2="0"><stop offset="0.0007" stop-color="#fbd37a"/><stop offset="0.0281" stop-color="#fbd37a"/><stop offset="0.0623" stop-color="#fcdc81"/><stop offset="0.1034" stop-color="#faea9b"/><stop offset="0.1651" stop-color="#f8efb1"/><stop offset="0.2130" stop-color="#dfecee"/><stop offset="0.2541" stop-color="#d2e3ee"/><stop offset="0.2747" stop-color="#b9d3e8"/><stop offset="0.3500" stop-color="#adcbe5"/><stop offset="0.4390" stop-color="#a2c4e2"/><stop offset="0.4527" stop-color="#8ab4db"/><stop offset="0.7747" stop-color="#87b2da"/><stop offset="1.0007" stop-color="#95bcdf"/></linearGradient><linearGradient id="hr7" x1="0" x2="1" y1="0" y2="0"><stop offset="0.0007" stop-color="#f6a155"/><stop offset="0.0281" stop-color="#f7ae5f"/><stop offset="0.0623" stop-color="#fbe795"/><stop offset="0.1034" stop-color="#f9eea9"/><stop offset="0.1651" stop-color="#f6f2c2"/><stop offset="0.2130" stop-color="#ebf2e5"/><stop offset="0.2541" stop-color="#bad4e9"/><stop offset="0.2747" stop-color="#aac9e4"/><stop offset="0.3500" stop-color="#95bcde"/><stop offset="0.4390" stop-color="#a3c5e2"/><stop offset="0.4527" stop-color="#85b1d9"/><stop offset="0.7747" stop-color="#89b3db"/><stop offset="1.0007" stop-color="#91b9dd"/></linearGradient><linearGradient id="hr8" x1="0" x2="1" y1="0" y2="0"><stop offset="0.0007" stop-color="#f2934d"/><stop offset="0.0281" stop-color="#f6a154"/><stop offset="0.0623" stop-color="#fbd87e"/><stop offset="0.1034" stop-color="#faeca2"/><stop offset="0.1651" stop-color="#f7f0b8"/><stop offset="0.2130" stop-color="#e5f0ee"/><stop offset="0.2541" stop-color="#d6e6ee"/><stop offset="0.2747" stop-color="#c6dbec"/><stop offset="0.3500" stop-color="#8cb6dc"/><stop offset="0.4390" stop-color="#91b9dd"/><stop offset="0.4527" stop-color="#89b3db"/><stop offset="0.7747" stop-color="#83afd8"/><stop offset="1.0007" stop-color="#8eb7dd"/></linearGradient><linearGradient id="hr9" x1="0" x2="1" y1="0" y2="0"><stop offset="0.0007" stop-color="#f7a95b"/><stop offset="0.0281" stop-color="#f8b664"/><stop offset="0.0623" stop-color="#faea9a"/><stop offset="0.1034" stop-color="#faeb9d"/><stop offset="0.1651" stop-color="#f7f0b9"/><stop offset="0.2130" stop-color="#e9f2ec"/><stop offset="0.2541" stop-color="#d7e7ee"/><stop offset="0.2747" stop-color="#bbd4e9"/><stop offset="0.3500" stop-color="#9abfe0"/><stop offset="0.4390" stop-color="#9cc0e0"/><stop offset="0.4527" stop-color="#93bbde"/><stop offset="0.7747" stop-color="#7fabd6"/><stop offset="1.0007" stop-color="#9ec2e1"/></linearGradient><linearGradient id="hr10" x1="0" x2="1" y1="0" y2="0"><stop offset="0.0007" stop-color="#fbd279"/><stop offset="0.0281" stop-color="#fbd279"/><stop offset="0.0623" stop-color="#fce185"/><stop offset="0.1034" stop-color="#faeb9e"/><stop offset="0.1651" stop-color="#f7f0b9"/><stop offset="0.2130" stop-color="#e0ecee"/><stop offset="0.2541" stop-color="#d1e2ee"/><stop offset="0.2747" stop-color="#84afd8"/><stop offset="0.3500" stop-color="#89b3db"/><stop offset="0.4390" stop-color="#92bade"/><stop offset="0.4527" stop-color="#87b2da"/><stop offset="0.7747" stop-color="#86b1d9"/><stop offset="1.0007" stop-color="#80acd7"/></linearGradient><linearGradient id="hr11" x1="0" x2="1" y1="0" y2="0"><stop offset="0.0007" stop-color="#fbe590"/><stop offset="0.0281" stop-color="#fbe590"/><stop offset="0.0623" stop-color="#faeb9d"/><stop offset="0.1034" stop-color="#faec9f"/><stop offset="0.1651" stop-color="#f6f2c3"/><stop offset="0.2130" stop-color="#ecf2e1"/><stop offset="0.2541" stop-color="#d0e2ee"/><stop offset="0.2747" stop-color="#86b1da"/><stop offset="0.3500" stop-color="#8fb8dd"/><stop offset="0.4390" stop-color="#95bcdf"/><stop offset="0.4527" stop-color="#8bb5dc"/><stop offset="0.7747" stop-color="#81add7"/><stop offset="1.0007" stop-color="#9cc0e0"/></linearGradient><linearGradient id="hr12" x1="0" x2="1" y1="0" y2="0"><stop offset="0.0007" stop-color="#fbda7f"/><stop offset="0.0281" stop-color="#fbda7f"/><stop offset="0.0623" stop-color="#fbe590"/><stop offset="0.1034" stop-color="#faea9b"/><stop offset="0.1651" stop-color="#f6f2c2"/><stop offset="0.2130" stop-color="#e0ecee"/><stop offset="0.2541" stop-color="#c6dbec"/><stop offset="0.2747" stop-color="#aac9e4"/><stop offset="0.3500" stop-color="#a6c7e3"/><stop offset="0.4390" stop-color="#90b9dd"/><stop offset="0.4527" stop-color="#84b0d9"/><stop offset="0.7747" stop-color="#98bddf"/><stop offset="1.0007" stop-color="#90b8dd"/></linearGradient><linearGradient id="hr13" x1="0" x2="1" y1="0" y2="0"><stop offset="0.0007" stop-color="#fcde83"/><stop offset="0.0281" stop-color="#fcde83"/><stop offset="0.0623" stop-color="#faec9f"/><stop offset="0.1034" stop-color="#fae999"/><stop offset="0.1651" stop-color="#f9eda8"/><stop offset="0.2130" stop-color="#ecf2e2"/><stop offset="0.2541" stop-color="#d2e3ee"/><stop offset="0.2747" stop-color="#aac9e4"/><stop offset="0.3500" stop-color="#94bbde"/><stop offset="0.4390" stop-color="#90b9dd"/><stop offset="0.4527" stop-color="#96bcdf"/><stop offset="0.7747" stop-color="#8bb5db"/><stop offset="1.0007" stop-color="#9abfe0"/></linearGradient><linearGradient id="hr14" x1="0" x2="1" y1="0" y2="0"><stop offset="0.0007" stop-color="#fbe795"/><stop offset="0.0281" stop-color="#fbe795"/><stop offset="0.0623" stop-color="#fbe999"/><stop offset="0.1034" stop-color="#fbe590"/><stop offset="0.1651" stop-color="#f9eda8"/><stop offset="0.2130" stop-color="#ecf2e2"/><stop offset="0.2541" stop-color="#d4e4ee"/><stop offset="0.2747" stop-color="#c0d7ea"/><stop offset="0.3500" stop-color="#a3c4e2"/><stop offset="0.4390" stop-color="#92bade"/><stop offset="0.4527" stop-color="#8fb8dd"/><stop offset="0.7747" stop-color="#86b1da"/><stop offset="1.0007" stop-color="#7facd7"/></linearGradient><linearGradient id="hr15" x1="0" x2="1" y1="0" y2="0"><stop offset="0.0007" stop-color="#faec9f"/><stop offset="0.0281" stop-color="#faec9f"/><stop offset="0.0623" stop-color="#fbe897"/><stop offset="0.1034" stop-color="#faeda3"/><stop offset="0.1651" stop-color="#f8efb0"/><stop offset="0.2130" stop-color="#edf2df"/><stop offset="0.2541" stop-color="#cbdeed"/><stop offset="0.2747" stop-color="#a4c5e3"/><stop offset="0.3500" stop-color="#adcbe5"/><stop offset="0.4390" stop-color="#a5c6e3"/><stop offset="0.4527" stop-color="#8bb5dc"/><stop offset="0.7747" stop-color="#83afd8"/><stop offset="1.0007" stop-color="#86b1d9"/></linearGradient><linearGradient id="hr16" x1="0" x2="1" y1="0" y2="0"><stop offset="0.0007" stop-color="#fae999"/><stop offset="0.0281" stop-color="#fae999"/><stop offset="0.0623" stop-color="#fae999"/><stop offset="0.1034" stop-color="#fbe896"/><stop offset="0.1651" stop-color="#f9eeaa"/><stop offset="0.2130" stop-color="#ecf2e3"/><stop offset="0.2541" stop-color="#cddfee"/><stop offset="0.2747" stop-color="#99bedf"/><stop offset="0.3500" stop-color="#a5c6e3"/><stop offset="0.4390" stop-color="#8eb7dd"/><stop offset="0.4527" stop-color="#93bade"/><stop offset="0.7747" stop-color="#96bddf"/><stop offset="1.0007" stop-color="#9abfe0"/></linearGradient><linearGradient id="hr17" x1="0" x2="1" y1="0" y2="0"><stop offset="0.0007" stop-color="#fce085"/><stop offset="0.0281" stop-color="#fce085"/><stop offset="0.0623" stop-color="#fae99a"/><stop offset="0.1034" stop-color="#fbe591"/><stop offset="0.1651" stop-color="#f7f0ba"/><stop offset="0.2130" stop-color="#ebf2e4"/><stop offset="0.2541" stop-color="#d8e7ee"/><stop offset="0.2747" stop-color="#8eb8dd"/><stop offset="0.3500" stop-color="#95bcdf"/><stop offset="0.4390" stop-color="#a5c6e3"/><stop offset="0.4527" stop-color="#95bbde"/><stop offset="0.7747" stop-color="#82aed8"/><stop offset="1.0007" stop-color="#82aed8"/></linearGradient><linearGradient id="hr18" x1="0" x2="1" y1="0" y2="0"><stop offset="0.0007" stop-color="#fbd078"/><stop offset="0.0281" stop-color="#fbd078"/><stop offset="0.0623" stop-color="#fce085"/><stop offset="0.1034" stop-color="#f9eda8"/><stop offset="0.1651" stop-color="#f9eeac"/><stop offset="0.2130" stop-color="#edf2de"/><stop offset="0.2541" stop-color="#d1e2ee"/><stop offset="0.2747" stop-color="#8db6dc"/><stop offset="0.3500" stop-color="#9bc0e0"/><stop offset="0.4390" stop-color="#8fb8dd"/><stop offset="0.4527" stop-color="#84b0d9"/><stop offset="0.7747" stop-color="#98bedf"/><stop offset="1.0007" stop-color="#95bbde"/></linearGradient><linearGradient id="hr19" x1="0" x2="1" y1="0" y2="0"><stop offset="0.0007" stop-color="#fbe48e"/><stop offset="0.0281" stop-color="#fbe48e"/><stop offset="0.0623" stop-color="#fcdc81"/><stop offset="0.1034" stop-color="#faeb9d"/><stop offset="0.1651" stop-color="#f9eeab"/><stop offset="0.2130" stop-color="#ecf2e3"/><stop offset="0.2541" stop-color="#bfd6ea"/><stop offset="0.2747" stop-color="#89b4db"/><stop offset="0.3500" stop-color="#91b9dd"/><stop offset="0.4390" stop-color="#92bade"/><stop offset="0.4527" stop-color="#91b9dd"/><stop offset="0.7747" stop-color="#84afd9"/><stop offset="1.0007" stop-color="#8cb6dc"/></linearGradient><linearGradient id="hr20" x1="0" x2="1" y1="0" y2="0"><stop offset="0.0007" stop-color="#faea9c"/><stop offset="0.0281" stop-color="#faea9c"/><stop offset="0.0623" stop-color="#fcdd82"/><stop offset="0.1034" stop-color="#faec9f"/><stop offset="0.1651" stop-color="#f7f0b7"/><stop offset="0.2130" stop-color="#e9f2eb"/><stop offset="0.2541" stop-color="#d6e6ee"/><stop offset="0.2747" stop-color="#8fb8dd"/><stop offset="0.3500" stop-color="#aac9e4"/><stop offset="0.4390" stop-color="#99bee0"/><stop offset="0.4527" stop-color="#8fb8dd"/><stop offset="0.7747" stop-color="#8bb5db"/><stop offset="1.0007" stop-color="#7facd7"/></linearGradient><linearGradient id="hr21" x1="0" x2="1" y1="0" y2="0"><stop offset="0.0007" stop-color="#fbe691"/><stop offset="0.0281" stop-color="#fbe691"/><stop offset="0.0623" stop-color="#fae99a"/><stop offset="0.1034" stop-color="#f8eeae"/><stop offset="0.1651" stop-color="#f9eead"/><stop offset="0.2130" stop-color="#e1edee"/><stop offset="0.2541" stop-color="#cddfee"/><stop offset="0.2747" stop-color="#9cc0e0"/><stop offset="0.3500" stop-color="#9bc0e0"/><stop offset="0.4390" stop-color="#95bbde"/><stop offset="0.4527" stop-color="#8fb8dd"/><stop offset="0.7747" stop-color="#8bb5dc"/><stop offset="1.0007" stop-color="#9abfe0"/></linearGradient><linearGradient id="hr22" x1="0" x2="1" y1="0" y2="0"><stop offset="0.0007" stop-color="#497cba"/><stop offset="0.1925" stop-color="#4e81be"/><stop offset="0.2541" stop-color="#77a5d3"/><stop offset="0.2952" stop-color="#87b2da"/><stop offset="0.3500" stop-color="#d1e2ee"/><stop offset="0.4048" stop-color="#f0f2d7"/><stop offset="0.4527" stop-color="#f7f0b7"/><stop offset="0.5692" stop-color="#f7f0b7"/><stop offset="0.6240" stop-color="#f2f2cf"/><stop offset="0.6788" stop-color="#ebf2e5"/><stop offset="0.7473" stop-color="#8cb6dc"/><stop offset="0.8432" stop-color="#6f9fd0"/><stop offset="1.0007" stop-color="#6d9dcf"/></linearGradient><linearGradient id="hr23" x1="0" x2="1" y1="0" y2="0"><stop offset="0.0007" stop-color="#497cba"/><stop offset="0.1925" stop-color="#4e81be"/><stop offset="0.2541" stop-color="#77a5d3"/><stop offset="0.2952" stop-color="#a2c4e2"/><stop offset="0.3500" stop-color="#d9e7ee"/><stop offset="0.4048" stop-color="#eef2db"/><stop offset="0.4527" stop-color="#f7f0bb"/><stop offset="0.5692" stop-color="#f7f0bb"/><stop offset="0.6240" stop-color="#f1f2d3"/><stop offset="0.6788" stop-color="#e8f2ee"/><stop offset="0.7473" stop-color="#96bcdf"/><stop offset="0.8432" stop-color="#6b9bce"/><stop offset="1.0007" stop-color="#6496cb"/></linearGradient><linearGradient id="hr24" x1="0" x2="1" y1="0" y2="0"><stop offset="0.0007" stop-color="#5386c2"/><stop offset="0.1925" stop-color="#588cc6"/><stop offset="0.2541" stop-color="#77a5d3"/><stop offset="0.2952" stop-color="#a9c8e4"/><stop offset="0.3500" stop-color="#e4efee"/><stop offset="0.4048" stop-color="#f4f2ca"/><stop offset="0.4527" stop-color="#f9eeac"/><stop offset="0.5692" stop-color="#f9eeac"/><stop offset="0.6240" stop-color="#f6f2c2"/><stop offset="0.6788" stop-color="#edf2df"/><stop offset="0.7473" stop-color="#82aed8"/><stop offset="0.8432" stop-color="#6f9fd0"/><stop offset="1.0007" stop-color="#75a3d2"/></linearGradient><linearGradient id="hr25" x1="0" x2="1" y1="0" y2="0"><stop offset="0.0007" stop-color="#5c8fc8"/><stop offset="0.1925" stop-color="#6697cc"/><stop offset="0.2541" stop-color="#77a5d3"/><stop offset="0.2952" stop-color="#7fabd6"/><stop offset="0.3500" stop-color="#d7e6ee"/><stop offset="0.4048" stop-color="#ebf2e5"/><stop offset="0.4527" stop-color="#f6f2c4"/><stop offset="0.5692" stop-color="#f6f2c4"/><stop offset="0.6240" stop-color="#eef2dd"/><stop offset="0.6788" stop-color="#dfecee"/><stop offset="0.7473" stop-color="#81add7"/><stop offset="0.8432" stop-color="#5b8ec7"/><stop offset="1.0007" stop-color="#699acd"/></linearGradient><linearGradient id="hr26" x1="0" x2="1" y1="0" y2="0"><stop offset="0.0007" stop-color="#598dc7"/><stop offset="0.1925" stop-color="#6496cb"/><stop offset="0.2541" stop-color="#77a5d3"/><stop offset="0.2952" stop-color="#81add7"/><stop offset="0.3500" stop-color="#dfecee"/><stop offset="0.4048" stop-color="#f3f2cc"/><stop offset="0.4527" stop-color="#f8eeae"/><stop offset="0.5692" stop-color="#f8eeae"/><stop offset="0.6240" stop-color="#f6f2c3"/><stop offset="0.6788" stop-color="#eaf2e9"/><stop offset="0.7473" stop-color="#7daad6"/><stop offset="0.8432" stop-color="#7daad6"/><stop offset="1.0007" stop-color="#76a4d3"/></linearGradient><linearGradient id="hr27" x1="0" x2="1" y1="0" y2="0"><stop offset="0.0007" stop-color="#4d81be"/><stop offset="0.1925" stop-color="#5286c2"/><stop offset="0.2541" stop-color="#77a5d3"/><stop offset="0.2952" stop-color="#91b9dd"/><stop offset="0.3500" stop-color="#d8e7ee"/><stop offset="0.4048" stop-color="#f4f2ca"/><stop offset="0.4527" stop-color="#f9eeac"/><stop offset="0.5692" stop-color="#f9eeac"/><stop offset="0.6240" stop-color="#f6f2c2"/><stop offset="0.6788" stop-color="#edf2de"/><stop offset="0.7473" stop-color="#9ec1e1"/><stop offset="0.8432" stop-color="#5f91c9"/><stop offset="1.0007" stop-color="#6092c9"/></linearGradient><linearGradient id="hr28" x1="0" x2="1" y1="0" y2="0"><stop offset="0.0007" stop-color="#5d90c8"/><stop offset="0.1240" stop-color="#5a8ec7"/><stop offset="0.2541" stop-color="#6597cc"/><stop offset="0.2678" stop-color="#709fd0"/><stop offset="0.4390" stop-color="#78a6d3"/><stop offset="0.4527" stop-color="#7daad6"/><stop offset="0.4526" stop-color="#93bade"/><stop offset="0.5347" stop-color="#d1e2ee"/><stop offset="0.6032" stop-color="#ebf2e6"/><stop offset="0.6854" stop-color="#f3f2cd"/><stop offset="0.7676" stop-color="#f6f1c1"/><stop offset="0.8568" stop-color="#f6f2c5"/><stop offset="0.9253" stop-color="#f9eea9"/><stop offset="1.0007" stop-color="#fbe795"/></linearGradient><linearGradient id="hr29" x1="0" x2="1" y1="0" y2="0"><stop offset="0.0007" stop-color="#5b8ec7"/><stop offset="0.1240" stop-color="#6697cc"/><stop offset="0.2541" stop-color="#6a9ace"/><stop offset="0.2678" stop-color="#74a3d2"/><stop offset="0.4390" stop-color="#7daad6"/><stop offset="0.4527" stop-color="#82aed8"/><stop offset="0.4643" stop-color="#93bade"/><stop offset="0.5465" stop-color="#d1e2ee"/><stop offset="0.6150" stop-color="#ebf2e6"/><stop offset="0.6972" stop-color="#f7f1bc"/><stop offset="0.7794" stop-color="#f8efb1"/><stop offset="0.8568" stop-color="#f8efb3"/><stop offset="0.9253" stop-color="#faeca2"/><stop offset="1.0007" stop-color="#fbe795"/></linearGradient><linearGradient id="hr30" x1="0" x2="1" y1="0" y2="0"><stop offset="0.0007" stop-color="#5d90c8"/><stop offset="0.1240" stop-color="#6495cb"/><stop offset="0.2541" stop-color="#6697cc"/><stop offset="0.2678" stop-color="#71a0d0"/><stop offset="0.4390" stop-color="#6b9bce"/><stop offset="0.4527" stop-color="#70a0d0"/><stop offset="0.4767" stop-color="#93bade"/><stop offset="0.5589" stop-color="#d1e2ee"/><stop offset="0.6273" stop-color="#ebf2e6"/><stop offset="0.7095" stop-color="#f4f2ca"/><stop offset="0.7917" stop-color="#f7f1be"/><stop offset="0.8568" stop-color="#f7f1be"/><stop offset="0.9253" stop-color="#f9eda8"/><stop offset="1.0007" stop-color="#fbe795"/></linearGradient><linearGradient id="hr31" x1="0" x2="1" y1="0" y2="0"><stop offset="0.0007" stop-color="#72a1d1"/><stop offset="0.1240" stop-color="#6e9dcf"/><stop offset="0.2541" stop-color="#6d9dcf"/><stop offset="0.2678" stop-color="#77a5d3"/><stop offset="0.4390" stop-color="#6c9ccf"/><stop offset="0.4527" stop-color="#72a1d1"/><stop offset="0.4945" stop-color="#93bade"/><stop offset="0.5767" stop-color="#d1e2ee"/><stop offset="0.6452" stop-color="#ebf2e6"/><stop offset="0.7274" stop-color="#f6f2c2"/><stop offset="0.8096" stop-color="#f7f0b7"/><stop offset="0.8568" stop-color="#f9eead"/><stop offset="0.9253" stop-color="#faeda4"/><stop offset="1.0007" stop-color="#fbe795"/></linearGradient><linearGradient id="hr32" x1="0" x2="1" y1="0" y2="0"><stop offset="0.0007" stop-color="#6899cd"/><stop offset="0.1240" stop-color="#6496cb"/><stop offset="0.2541" stop-color="#73a1d1"/><stop offset="0.2678" stop-color="#7daad6"/><stop offset="0.4390" stop-color="#6d9dcf"/><stop offset="0.4527" stop-color="#73a1d1"/><stop offset="0.4978" stop-color="#93bade"/><stop offset="0.5800" stop-color="#d1e2ee"/><stop offset="0.6485" stop-color="#ebf2e6"/><stop offset="0.7307" stop-color="#f2f2d0"/><stop offset="0.8129" stop-color="#f6f2c4"/><stop offset="0.8568" stop-color="#f7f1bd"/><stop offset="0.9253" stop-color="#deebee"/><stop offset="1.0007" stop-color="#99bee0"/></linearGradient><linearGradient id="hr33" x1="0" x2="1" y1="0" y2="0"><stop offset="0.0007" stop-color="#568ac4"/><stop offset="0.1240" stop-color="#5a8dc7"/><stop offset="0.2541" stop-color="#6193ca"/><stop offset="0.2678" stop-color="#6b9bce"/><stop offset="0.4390" stop-color="#71a1d1"/><stop offset="0.4527" stop-color="#77a5d3"/><stop offset="0.5103" stop-color="#93bade"/><stop offset="0.5925" stop-color="#d1e2ee"/><stop offset="0.6610" stop-color="#ebf2e6"/><stop offset="0.7432" stop-color="#f0f2d5"/><stop offset="0.8254" stop-color="#f5f2c8"/><stop offset="0.8568" stop-color="#f7f1bf"/><stop offset="0.9253" stop-color="#dceaee"/><stop offset="1.0007" stop-color="#99bee0"/></linearGradient><linearGradient id="hr34" x1="0" x2="1" y1="0" y2="0"><stop offset="0.0007" stop-color="#5083bf"/><stop offset="0.1240" stop-color="#4f82be"/><stop offset="0.2541" stop-color="#5588c3"/><stop offset="0.2678" stop-color="#5b8fc7"/><stop offset="0.4390" stop-color="#7facd7"/><stop offset="0.4527" stop-color="#84b0d9"/><stop offset="0.4719" stop-color="#93bade"/><stop offset="0.5541" stop-color="#d1e2ee"/><stop offset="0.6226" stop-color="#ebf2e6"/><stop offset="0.7048" stop-color="#f6f1c0"/><stop offset="0.7870" stop-color="#f8f0b5"/><stop offset="0.8568" stop-color="#f9eeac"/><stop offset="0.9253" stop-color="#f8efb1"/><stop offset="1.0007" stop-color="#f8eeae"/></linearGradient><linearGradient id="hr35" x1="0" x2="1" y1="0" y2="0"><stop offset="0.0007" stop-color="#6597cc"/><stop offset="0.1240" stop-color="#588cc6"/><stop offset="0.2541" stop-color="#6697cc"/><stop offset="0.2678" stop-color="#71a0d0"/><stop offset="0.4390" stop-color="#79a7d4"/><stop offset="0.4527" stop-color="#7eabd6"/><stop offset="0.4648" stop-color="#93bade"/><stop offset="0.5470" stop-color="#d1e2ee"/><stop offset="0.6155" stop-color="#ebf2e6"/><stop offset="0.6977" stop-color="#f4f2ca"/><stop offset="0.7799" stop-color="#f7f1bf"/><stop offset="0.8568" stop-color="#f4f2c9"/><stop offset="0.9253" stop-color="#f7f0bb"/><stop offset="1.0007" stop-color="#f7f0b7"/></linearGradient><linearGradient id="hr36" x1="0" x2="1" y1="0" y2="0"><stop offset="0.0007" stop-color="#588cc6"/><stop offset="0.1240" stop-color="#5588c3"/><stop offset="0.2541" stop-color="#5f92c9"/><stop offset="0.2678" stop-color="#699acd"/><stop offset="0.4390" stop-color="#7ca9d5"/><stop offset="0.4527" stop-color="#81add7"/><stop offset="0.4851" stop-color="#93bade"/><stop offset="0.5673" stop-color="#d1e2ee"/><stop offset="0.6358" stop-color="#ebf2e6"/><stop offset="0.7180" stop-color="#f6f2c4"/><stop offset="0.8002" stop-color="#f7f0b9"/><stop offset="0.8568" stop-color="#f8efaf"/><stop offset="0.9253" stop-color="#f8f0b5"/><stop offset="1.0007" stop-color="#f8efb2"/></linearGradient><linearGradient id="hr37" x1="0" x2="1" y1="0" y2="0"><stop offset="0.0007" stop-color="#5a8dc7"/><stop offset="0.1240" stop-color="#5285c1"/><stop offset="0.2541" stop-color="#598cc6"/><stop offset="0.2678" stop-color="#6395cb"/><stop offset="0.4390" stop-color="#7ba8d5"/><stop offset="0.4527" stop-color="#80acd7"/><stop offset="0.4853" stop-color="#93bade"/><stop offset="0.5675" stop-color="#d1e2ee"/><stop offset="0.6360" stop-color="#ebf2e6"/><stop offset="0.7182" stop-color="#f6f2c5"/><stop offset="0.8004" stop-color="#f7f0ba"/><stop offset="0.8568" stop-color="#f8efb2"/><stop offset="0.9253" stop-color="#eff2da"/><stop offset="1.0007" stop-color="#e0edee"/></linearGradient><linearGradient id="hr38" x1="0" x2="1" y1="0" y2="0"><stop offset="0.0007" stop-color="#75a3d2"/><stop offset="0.1240" stop-color="#6c9cce"/><stop offset="0.2541" stop-color="#72a1d1"/><stop offset="0.2678" stop-color="#7daad6"/><stop offset="0.4390" stop-color="#6c9ccf"/><stop offset="0.4527" stop-color="#72a1d1"/><stop offset="0.4992" stop-color="#93bade"/><stop offset="0.5814" stop-color="#d1e2ee"/><stop offset="0.6499" stop-color="#ebf2e6"/><stop offset="0.7321" stop-color="#f5f2c6"/><stop offset="0.8143" stop-color="#f7f1bb"/><stop offset="0.8568" stop-color="#f7f1bf"/><stop offset="0.9253" stop-color="#f0f2d6"/><stop offset="1.0007" stop-color="#e5f0ee"/></linearGradient><linearGradient id="hr39" x1="0" x2="1" y1="0" y2="0"><stop offset="0.0007" stop-color="#74a3d2"/><stop offset="0.1240" stop-color="#6698cc"/><stop offset="0.2541" stop-color="#70a0d0"/><stop offset="0.2678" stop-color="#7ba8d5"/><stop offset="0.4390" stop-color="#79a6d4"/><stop offset="0.4527" stop-color="#7eaad6"/><stop offset="0.4675" stop-color="#93bade"/><stop offset="0.5497" stop-color="#d1e2ee"/><stop offset="0.6182" stop-color="#ebf2e6"/><stop offset="0.7004" stop-color="#f5f2c6"/><stop offset="0.7826" stop-color="#f7f0bb"/><stop offset="0.8568" stop-color="#f6f2c3"/><stop offset="0.9253" stop-color="#f1f2d2"/><stop offset="1.0007" stop-color="#e9f2ea"/></linearGradient><linearGradient id="hr40" x1="0" x2="1" y1="0" y2="0"><stop offset="0.0007" stop-color="#73a2d1"/><stop offset="0.1240" stop-color="#70a0d0"/><stop offset="0.2541" stop-color="#7eabd6"/><stop offset="0.2678" stop-color="#87b2da"/><stop offset="0.4390" stop-color="#78a6d3"/><stop offset="0.4527" stop-color="#7daad6"/><stop offset="0.4615" stop-color="#93bade"/><stop offset="0.5437" stop-color="#d1e2ee"/><stop offset="0.6122" stop-color="#ebf2e6"/><stop offset="0.6944" stop-color="#f2f2d0"/><stop offset="0.7766" stop-color="#f6f2c3"/><stop offset="0.8568" stop-color="#f4f2cb"/><stop offset="0.9253" stop-color="#edf2df"/><stop offset="1.0007" stop-color="#e0edee"/></linearGradient><linearGradient id="hr41" x1="0" x2="1" y1="0" y2="0"><stop offset="0.0007" stop-color="#6e9ecf"/><stop offset="0.1240" stop-color="#70a0d0"/><stop offset="0.2541" stop-color="#79a7d4"/><stop offset="0.2678" stop-color="#84afd9"/><stop offset="0.4390" stop-color="#6c9cce"/><stop offset="0.4527" stop-color="#71a0d1"/><stop offset="0.4447" stop-color="#93bade"/><stop offset="0.5269" stop-color="#d1e2ee"/><stop offset="0.5953" stop-color="#ebf2e6"/><stop offset="0.6775" stop-color="#f6f2c1"/><stop offset="0.7597" stop-color="#f7f0b7"/><stop offset="0.8568" stop-color="#f7f0bb"/><stop offset="0.9253" stop-color="#f1f2d3"/><stop offset="1.0007" stop-color="#e5f0ee"/></linearGradient><linearGradient id="hr42" x1="0" x2="1" y1="0" y2="0"><stop offset="0.0007" stop-color="#73a2d1"/><stop offset="0.1240" stop-color="#77a5d3"/><stop offset="0.2541" stop-color="#7daad5"/><stop offset="0.2678" stop-color="#87b2da"/><stop offset="0.4390" stop-color="#7eaad6"/><stop offset="0.4527" stop-color="#83afd8"/><stop offset="0.4473" stop-color="#93bade"/><stop offset="0.5295" stop-color="#d1e2ee"/><stop offset="0.5980" stop-color="#ebf2e6"/><stop offset="0.6802" stop-color="#f2f2d0"/><stop offset="0.7623" stop-color="#f6f2c3"/><stop offset="0.8568" stop-color="#f4f2cb"/><stop offset="0.9253" stop-color="#f0f2d6"/><stop offset="1.0007" stop-color="#e9f2ea"/></linearGradient><linearGradient id="hr43" x1="0" x2="1" y1="0" y2="0"><stop offset="0.0007" stop-color="#5c8fc8"/><stop offset="0.1240" stop-color="#6193ca"/><stop offset="0.2541" stop-color="#6b9cce"/><stop offset="0.2678" stop-color="#76a4d3"/><stop offset="0.4390" stop-color="#73a2d2"/><stop offset="0.4527" stop-color="#79a6d4"/><stop offset="0.4510" stop-color="#93bade"/><stop offset="0.5332" stop-color="#d1e2ee"/><stop offset="0.6017" stop-color="#ebf2e6"/><stop offset="0.6839" stop-color="#f0f2d5"/><stop offset="0.7661" stop-color="#f5f2c8"/><stop offset="0.8568" stop-color="#f0f2d5"/><stop offset="0.9253" stop-color="#ecf2e1"/><stop offset="1.0007" stop-color="#e0edee"/></linearGradient><linearGradient id="hr44" x1="0" x2="1" y1="0" y2="0"><stop offset="0.0007" stop-color="#6e9ecf"/><stop offset="0.1240" stop-color="#6698cc"/><stop offset="0.2541" stop-color="#72a1d1"/><stop offset="0.2678" stop-color="#7ca9d5"/><stop offset="0.4390" stop-color="#7daad6"/><stop offset="0.4527" stop-color="#82aed8"/><stop offset="0.4236" stop-color="#93bade"/><stop offset="0.5058" stop-color="#d1e2ee"/><stop offset="0.5743" stop-color="#ebf2e6"/><stop offset="0.6565" stop-color="#edf2e0"/><stop offset="0.7386" stop-color="#f1f2d3"/><stop offset="0.8568" stop-color="#f1f2d4"/><stop offset="0.9253" stop-color="#ecf2e3"/><stop offset="1.0007" stop-color="#e5f0ee"/></linearGradient><linearGradient id="hr45" x1="0" x2="1" y1="0" y2="0"><stop offset="0.0007" stop-color="#73a2d1"/><stop offset="0.1240" stop-color="#82aed8"/><stop offset="0.2541" stop-color="#80acd7"/><stop offset="0.2678" stop-color="#87b2da"/><stop offset="0.4390" stop-color="#82aed8"/><stop offset="0.4527" stop-color="#87b2da"/><stop offset="0.4127" stop-color="#93bade"/><stop offset="0.4949" stop-color="#d1e2ee"/><stop offset="0.5634" stop-color="#ebf2e6"/><stop offset="0.6456" stop-color="#edf2df"/><stop offset="0.7277" stop-color="#f1f2d3"/><stop offset="0.8568" stop-color="#f1f2d4"/><stop offset="0.9253" stop-color="#dce9ee"/><stop offset="1.0007" stop-color="#a6c7e3"/></linearGradient><linearGradient id="hr46" x1="0" x2="1" y1="0" y2="0"><stop offset="0.0007" stop-color="#7fabd6"/><stop offset="0.1240" stop-color="#76a4d3"/><stop offset="0.2541" stop-color="#7daad6"/><stop offset="0.2678" stop-color="#87b2da"/><stop offset="0.4390" stop-color="#77a5d3"/><stop offset="0.4527" stop-color="#7ca9d5"/><stop offset="0.4074" stop-color="#93bade"/><stop offset="0.4895" stop-color="#d1e2ee"/><stop offset="0.5580" stop-color="#ebf2e6"/><stop offset="0.6402" stop-color="#eff2da"/><stop offset="0.7224" stop-color="#f3f2ce"/><stop offset="0.8568" stop-color="#f3f2cd"/><stop offset="0.9253" stop-color="#ddebee"/><stop offset="1.0007" stop-color="#a6c7e3"/></linearGradient><linearGradient id="hr47" x1="0" x2="1" y1="0" y2="0"><stop offset="0.0007" stop-color="#88b3da"/><stop offset="0.1240" stop-color="#7ba8d5"/><stop offset="0.2541" stop-color="#83afd8"/><stop offset="0.2678" stop-color="#87b2da"/><stop offset="0.4390" stop-color="#7ca9d5"/><stop offset="0.4527" stop-color="#81add7"/><stop offset="0.4376" stop-color="#93bade"/><stop offset="0.5198" stop-color="#d1e2ee"/><stop offset="0.5883" stop-color="#ebf2e6"/><stop offset="0.6705" stop-color="#f5f2c6"/><stop offset="0.7527" stop-color="#f7f1bb"/><stop offset="0.8568" stop-color="#f8efb4"/><stop offset="0.9253" stop-color="#f7f0b7"/><stop offset="1.0007" stop-color="#f8efb4"/></linearGradient><linearGradient id="hr48" x1="0" x2="1" y1="0" y2="0"><stop offset="0.0007" stop-color="#83afd8"/><stop offset="0.1240" stop-color="#7eabd6"/><stop offset="0.2541" stop-color="#85b1d9"/><stop offset="0.2678" stop-color="#87b2da"/><stop offset="0.4390" stop-color="#7ca9d5"/><stop offset="0.4527" stop-color="#82aed8"/><stop offset="0.4537" stop-color="#93bade"/><stop offset="0.5359" stop-color="#d1e2ee"/><stop offset="0.6044" stop-color="#ebf2e6"/><stop offset="0.6866" stop-color="#f4f2ca"/><stop offset="0.7688" stop-color="#f7f1be"/><stop offset="0.8568" stop-color="#f6f2c1"/><stop offset="0.9253" stop-color="#f7f0ba"/><stop offset="1.0007" stop-color="#f7f0b7"/></linearGradient><linearGradient id="hr49" x1="0" x2="1" y1="0" y2="0"><stop offset="0.0007" stop-color="#6294ca"/><stop offset="0.1240" stop-color="#6093ca"/><stop offset="0.2541" stop-color="#6f9ed0"/><stop offset="0.2678" stop-color="#79a7d4"/><stop offset="0.4390" stop-color="#6c9cce"/><stop offset="0.4527" stop-color="#71a0d1"/><stop offset="0.4337" stop-color="#93bade"/><stop offset="0.5159" stop-color="#d1e2ee"/><stop offset="0.5844" stop-color="#ebf2e6"/><stop offset="0.6666" stop-color="#f0f2d5"/><stop offset="0.7487" stop-color="#f5f2c8"/><stop offset="0.8568" stop-color="#f6f2c2"/><stop offset="0.9253" stop-color="#f6f2c4"/><stop offset="1.0007" stop-color="#f6f1c0"/></linearGradient><linearGradient id="hr50" x1="0" x2="1" y1="0" y2="0"><stop offset="0.0007" stop-color="#6d9dcf"/><stop offset="0.1240" stop-color="#6b9cce"/><stop offset="0.2541" stop-color="#79a7d4"/><stop offset="0.2678" stop-color="#84afd8"/><stop offset="0.4390" stop-color="#71a0d1"/><stop offset="0.4527" stop-color="#76a4d3"/><stop offset="0.4522" stop-color="#93bade"/><stop offset="0.5344" stop-color="#d1e2ee"/><stop offset="0.6029" stop-color="#ebf2e6"/><stop offset="0.6851" stop-color="#eff2d8"/><stop offset="0.7673" stop-color="#f4f2cb"/><stop offset="0.8568" stop-color="#f6f2c3"/><stop offset="0.9253" stop-color="#f5f2c7"/><stop offset="1.0007" stop-color="#f6f2c3"/></linearGradient><linearGradient id="hr51" x1="0" x2="1" y1="0" y2="0"><stop offset="0.0007" stop-color="#79a7d4"/><stop offset="0.1240" stop-color="#71a0d1"/><stop offset="0.2541" stop-color="#7ba8d5"/><stop offset="0.2678" stop-color="#85b0d9"/><stop offset="0.4390" stop-color="#80add7"/><stop offset="0.4527" stop-color="#86b1d9"/><stop offset="0.4314" stop-color="#93bade"/><stop offset="0.5136" stop-color="#d1e2ee"/><stop offset="0.5821" stop-color="#ebf2e6"/><stop offset="0.6643" stop-color="#f6f2c2"/><stop offset="0.7464" stop-color="#f7f0b7"/><stop offset="0.8568" stop-color="#f7f1bd"/><stop offset="0.9253" stop-color="#f8efb3"/><stop offset="1.0007" stop-color="#f8efb0"/></linearGradient><linearGradient id="hr52" x1="0" x2="1" y1="0" y2="0"><stop offset="0.0007" stop-color="#6a9ace"/><stop offset="0.1240" stop-color="#6495cb"/><stop offset="0.2541" stop-color="#709fd0"/><stop offset="0.2678" stop-color="#7aa8d5"/><stop offset="0.4390" stop-color="#72a1d1"/><stop offset="0.4527" stop-color="#77a5d3"/><stop offset="0.4407" stop-color="#93bade"/><stop offset="0.5228" stop-color="#d1e2ee"/><stop offset="0.5913" stop-color="#ebf2e6"/><stop offset="0.6735" stop-color="#f2f2d1"/><stop offset="0.7557" stop-color="#f6f2c4"/><stop offset="0.8568" stop-color="#f5f2c6"/><stop offset="0.9253" stop-color="#dbe9ee"/><stop offset="1.0007" stop-color="#8cb6dc"/></linearGradient><linearGradient id="hr53" x1="0" x2="1" y1="0" y2="0"><stop offset="0.0007" stop-color="#6294ca"/><stop offset="0.1240" stop-color="#6294ca"/><stop offset="0.2541" stop-color="#5d90c8"/><stop offset="0.2678" stop-color="#6899cd"/><stop offset="0.4390" stop-color="#71a0d1"/><stop offset="0.4527" stop-color="#76a5d3"/><stop offset="0.4214" stop-color="#93bade"/><stop offset="0.5036" stop-color="#d1e2ee"/><stop offset="0.5721" stop-color="#ebf2e6"/><stop offset="0.6543" stop-color="#f4f2c9"/><stop offset="0.7365" stop-color="#f7f1bd"/><stop offset="0.8568" stop-color="#f7f1bc"/><stop offset="0.9253" stop-color="#e1edee"/><stop offset="1.0007" stop-color="#a0c3e1"/></linearGradient><linearGradient id="hr54" x1="0" x2="1" y1="0" y2="0"><stop offset="0.0007" stop-color="#75a3d2"/><stop offset="0.1240" stop-color="#6798cc"/><stop offset="0.2541" stop-color="#70a0d0"/><stop offset="0.2678" stop-color="#7ba8d5"/><stop offset="0.4390" stop-color="#71a0d1"/><stop offset="0.4527" stop-color="#76a4d3"/><stop offset="0.3993" stop-color="#93bade"/><stop offset="0.4815" stop-color="#d1e2ee"/><stop offset="0.5500" stop-color="#ebf2e6"/><stop offset="0.6322" stop-color="#f3f2cc"/><stop offset="0.7144" stop-color="#f6f1c0"/><stop offset="0.8568" stop-color="#f6f2c3"/><stop offset="0.9253" stop-color="#e4efee"/><stop offset="1.0007" stop-color="#b4cfe7"/></linearGradient><linearGradient id="hr55" x1="0" x2="1" y1="0" y2="0"><stop offset="0.0007" stop-color="#6899cd"/><stop offset="0.1240" stop-color="#6a9acd"/><stop offset="0.2541" stop-color="#6f9fd0"/><stop offset="0.2678" stop-color="#7aa7d4"/><stop offset="0.4390" stop-color="#6b9bce"/><stop offset="0.4527" stop-color="#709fd0"/><stop offset="0.4288" stop-color="#93bade"/><stop offset="0.5110" stop-color="#d1e2ee"/><stop offset="0.5795" stop-color="#ebf2e6"/><stop offset="0.6616" stop-color="#f6f2c4"/><stop offset="0.7438" stop-color="#f7f0b9"/><stop offset="0.8568" stop-color="#f7f0b9"/><stop offset="0.9253" stop-color="#dfecee"/><stop offset="1.0007" stop-color="#8cb6dc"/></linearGradient><linearGradient id="hr56" x1="0" x2="1" y1="0" y2="0"><stop offset="0.0007" stop-color="#73a2d1"/><stop offset="0.1240" stop-color="#6999cd"/><stop offset="0.2541" stop-color="#78a6d4"/><stop offset="0.2678" stop-color="#83aed8"/><stop offset="0.4390" stop-color="#709fd0"/><stop offset="0.4527" stop-color="#75a3d2"/><stop offset="0.4164" stop-color="#93bade"/><stop offset="0.4986" stop-color="#d1e2ee"/><stop offset="0.5671" stop-color="#ebf2e6"/><stop offset="0.6493" stop-color="#f4f2c9"/><stop offset="0.7315" stop-color="#f7f1be"/><stop offset="0.8568" stop-color="#f6f2c3"/><stop offset="0.9253" stop-color="#e1edee"/><stop offset="1.0007" stop-color="#a0c3e1"/></linearGradient><linearGradient id="hr57" x1="0" x2="1" y1="0" y2="0"><stop offset="0.0007" stop-color="#7eabd6"/><stop offset="0.1240" stop-color="#77a5d3"/><stop offset="0.2541" stop-color="#85b1d9"/><stop offset="0.2678" stop-color="#87b2da"/><stop offset="0.4390" stop-color="#6d9dcf"/><stop offset="0.4527" stop-color="#72a1d1"/><stop offset="0.4069" stop-color="#93bade"/><stop offset="0.4891" stop-color="#d1e2ee"/><stop offset="0.5576" stop-color="#ebf2e6"/><stop offset="0.6398" stop-color="#f6f2c2"/><stop offset="0.7220" stop-color="#f7f0b7"/><stop offset="0.8568" stop-color="#f6f2c1"/><stop offset="0.9253" stop-color="#e8f2ee"/><stop offset="1.0007" stop-color="#b4cfe7"/></linearGradient><linearGradient id="hr58" x1="0" x2="1" y1="0" y2="0"><stop offset="0.0007" stop-color="#7eaad6"/><stop offset="0.1240" stop-color="#85b0d9"/><stop offset="0.2541" stop-color="#89b3db"/><stop offset="0.2678" stop-color="#87b2da"/><stop offset="0.4390" stop-color="#72a1d1"/><stop offset="0.4527" stop-color="#78a5d3"/><stop offset="0.4409" stop-color="#93bade"/><stop offset="0.5231" stop-color="#d1e2ee"/><stop offset="0.5915" stop-color="#ebf2e6"/><stop offset="0.6737" stop-color="#f6f2c2"/><stop offset="0.7559" stop-color="#f7f0b8"/><stop offset="0.8568" stop-color="#f7f0b7"/><stop offset="0.9253" stop-color="#dfecee"/><stop offset="1.0007" stop-color="#8cb6dc"/></linearGradient><linearGradient id="hr59" x1="0" x2="1" y1="0" y2="0"><stop offset="0.0007" stop-color="#93bade"/><stop offset="0.1240" stop-color="#94bbde"/><stop offset="0.2541" stop-color="#95bcdf"/><stop offset="0.2678" stop-color="#87b2da"/><stop offset="0.4390" stop-color="#7daad6"/><stop offset="0.4527" stop-color="#83aed8"/><stop offset="0.4621" stop-color="#93bade"/><stop offset="0.5443" stop-color="#d1e2ee"/><stop offset="0.6128" stop-color="#ebf2e6"/><stop offset="0.6949" stop-color="#f7f1bf"/><stop offset="0.7771" stop-color="#f8efb4"/><stop offset="0.8568" stop-color="#f9eeac"/><stop offset="0.9253" stop-color="#e5f0ee"/><stop offset="1.0007" stop-color="#a0c3e1"/></linearGradient><linearGradient id="hr60" x1="0" x2="1" y1="0" y2="0"><stop offset="0.0007" stop-color="#7daad6"/><stop offset="0.1240" stop-color="#8bb5dc"/><stop offset="0.2541" stop-color="#86b1da"/><stop offset="0.2678" stop-color="#87b2da"/><stop offset="0.4390" stop-color="#74a3d2"/><stop offset="0.4527" stop-color="#7aa7d4"/><stop offset="0.4474" stop-color="#93bade"/><stop offset="0.5296" stop-color="#d1e2ee"/><stop offset="0.5981" stop-color="#ebf2e6"/><stop offset="0.6803" stop-color="#f8efb5"/><stop offset="0.7625" stop-color="#f9eeaa"/><stop offset="0.8568" stop-color="#f8efb2"/><stop offset="0.9253" stop-color="#f3f2ce"/><stop offset="1.0007" stop-color="#e3eeee"/></linearGradient><linearGradient id="hr61" x1="0" x2="1" y1="0" y2="0"><stop offset="0.0007" stop-color="#8ab5db"/><stop offset="0.1240" stop-color="#7eabd6"/><stop offset="0.2541" stop-color="#8db7dc"/><stop offset="0.2678" stop-color="#87b2da"/><stop offset="0.4390" stop-color="#7daad6"/><stop offset="0.4527" stop-color="#82aed8"/><stop offset="0.4721" stop-color="#93bade"/><stop offset="0.5543" stop-color="#d1e2ee"/><stop offset="0.6228" stop-color="#ebf2e6"/><stop offset="0.7050" stop-color="#f7f0b7"/><stop offset="0.7872" stop-color="#f9eeac"/><stop offset="0.8568" stop-color="#f9eda5"/><stop offset="0.9253" stop-color="#f2f2cf"/><stop offset="1.0007" stop-color="#e3eeee"/></linearGradient><linearGradient id="hr62" x1="0" x2="1" y1="0" y2="0"><stop offset="0.0007" stop-color="#81add7"/><stop offset="0.1240" stop-color="#83afd8"/><stop offset="0.2541" stop-color="#83afd8"/><stop offset="0.2678" stop-color="#87b2da"/><stop offset="0.4390" stop-color="#81add7"/><stop offset="0.4527" stop-color="#86b1da"/><stop offset="0.4690" stop-color="#93bade"/><stop offset="0.5512" stop-color="#d1e2ee"/><stop offset="0.6197" stop-color="#ebf2e6"/><stop offset="0.7019" stop-color="#f6f2c5"/><stop offset="0.7841" stop-color="#f7f0ba"/><stop offset="0.8568" stop-color="#f8efb4"/><stop offset="0.9253" stop-color="#eff2d8"/><stop offset="1.0007" stop-color="#e3eeee"/></linearGradient><linearGradient id="hr63" x1="0" x2="1" y1="0" y2="0"><stop offset="0.0007" stop-color="#8bb5dc"/><stop offset="0.1240" stop-color="#8bb5db"/><stop offset="0.2541" stop-color="#91b9dd"/><stop offset="0.2678" stop-color="#87b2da"/><stop offset="0.4390" stop-color="#6e9ecf"/><stop offset="0.4527" stop-color="#73a2d2"/><stop offset="0.4740" stop-color="#93bade"/><stop offset="0.5562" stop-color="#d1e2ee"/><stop offset="0.6247" stop-color="#ebf2e6"/><stop offset="0.7069" stop-color="#f1f2d3"/><stop offset="0.7891" stop-color="#f5f2c7"/><stop offset="0.8568" stop-color="#f7f1bf"/><stop offset="0.9253" stop-color="#f6f2c3"/><stop offset="1.0007" stop-color="#f7f1bf"/></linearGradient><linearGradient id="hr64" x1="0" x2="1" y1="0" y2="0"><stop offset="0.0007" stop-color="#9cc0e0"/><stop offset="0.1240" stop-color="#96bcdf"/><stop offset="0.2541" stop-color="#9abfe0"/><stop offset="0.2678" stop-color="#87b2da"/><stop offset="0.4390" stop-color="#7fabd6"/><stop offset="0.4527" stop-color="#84b0d9"/><stop offset="0.4524" stop-color="#93bade"/><stop offset="0.5346" stop-color="#d1e2ee"/><stop offset="0.6031" stop-color="#ebf2e6"/><stop offset="0.6853" stop-color="#f6f1c1"/><stop offset="0.7675" stop-color="#f8f0b6"/><stop offset="0.8568" stop-color="#f9eead"/><stop offset="0.9253" stop-color="#f8efb2"/><stop offset="1.0007" stop-color="#f8eeaf"/></linearGradient><linearGradient id="hr65" x1="0" x2="1" y1="0" y2="0"><stop offset="0.0007" stop-color="#7ca9d5"/><stop offset="0.1240" stop-color="#72a1d1"/><stop offset="0.2541" stop-color="#7daad6"/><stop offset="0.2678" stop-color="#87b2da"/><stop offset="0.4390" stop-color="#7ca9d5"/><stop offset="0.4527" stop-color="#81add7"/><stop offset="0.4750" stop-color="#93bade"/><stop offset="0.5572" stop-color="#d1e2ee"/><stop offset="0.6257" stop-color="#ebf2e6"/><stop offset="0.7079" stop-color="#f6f2c2"/><stop offset="0.7901" stop-color="#f7f0b7"/><stop offset="0.8568" stop-color="#f6f2c1"/><stop offset="0.9253" stop-color="#f8efb3"/><stop offset="1.0007" stop-color="#f8efb0"/></linearGradient><filter id="hblur" x="-2%" y="-2%" width="104%" height="104%"><feGaussianBlur stdDeviation="0.0 0.9"/></filter></defs>
<g filter="url(#hblur)">
<rect x="306.9" y="405.60" width="146.00" height="4.18" fill="url(#hr0)"/>
<rect x="306.9" y="409.48" width="146.00" height="4.18" fill="url(#hr1)"/>
<rect x="306.9" y="413.36" width="146.00" height="4.18" fill="url(#hr2)"/>
<rect x="306.9" y="417.24" width="146.00" height="4.18" fill="url(#hr3)"/>
<rect x="306.9" y="421.12" width="146.00" height="4.18" fill="url(#hr4)"/>
<rect x="306.9" y="425.00" width="146.00" height="4.18" fill="url(#hr5)"/>
<rect x="306.9" y="428.88" width="146.00" height="4.18" fill="url(#hr6)"/>
<rect x="306.9" y="432.76" width="146.00" height="4.18" fill="url(#hr7)"/>
<rect x="306.9" y="436.64" width="146.00" height="4.18" fill="url(#hr8)"/>
<rect x="306.9" y="440.52" width="146.00" height="4.18" fill="url(#hr9)"/>
<rect x="306.9" y="444.40" width="146.00" height="4.18" fill="url(#hr10)"/>
<rect x="306.9" y="448.28" width="146.00" height="4.18" fill="url(#hr11)"/>
<rect x="306.9" y="452.16" width="146.00" height="4.18" fill="url(#hr12)"/>
<rect x="306.9" y="456.04" width="146.00" height="4.18" fill="url(#hr13)"/>
<rect x="306.9" y="459.92" width="146.00" height="4.18" fill="url(#hr14)"/>
<rect x="306.9" y="463.80" width="146.00" height="4.18" fill="url(#hr15)"/>
<rect x="306.9" y="467.68" width="146.00" height="4.18" fill="url(#hr16)"/>
<rect x="306.9" y="471.57" width="146.00" height="4.18" fill="url(#hr17)"/>
<rect x="306.9" y="475.45" width="146.00" height="4.18" fill="url(#hr18)"/>
<rect x="306.9" y="479.33" width="146.00" height="4.18" fill="url(#hr19)"/>
<rect x="306.9" y="483.21" width="146.00" height="4.18" fill="url(#hr20)"/>
<rect x="306.9" y="487.09" width="146.00" height="4.18" fill="url(#hr21)"/>
<rect x="306.9" y="490.97" width="146.00" height="4.18" fill="url(#hr22)"/>
<rect x="306.9" y="494.85" width="146.00" height="4.18" fill="url(#hr23)"/>
<rect x="306.9" y="498.73" width="146.00" height="4.18" fill="url(#hr24)"/>
<rect x="306.9" y="502.61" width="146.00" height="4.18" fill="url(#hr25)"/>
<rect x="306.9" y="506.49" width="146.00" height="4.18" fill="url(#hr26)"/>
<rect x="306.9" y="510.37" width="146.00" height="4.18" fill="url(#hr27)"/>
<rect x="306.9" y="514.25" width="146.00" height="4.18" fill="url(#hr28)"/>
<rect x="306.9" y="518.13" width="146.00" height="4.18" fill="url(#hr29)"/>
<rect x="306.9" y="522.01" width="146.00" height="4.18" fill="url(#hr30)"/>
<rect x="306.9" y="525.89" width="146.00" height="4.18" fill="url(#hr31)"/>
<rect x="306.9" y="529.77" width="146.00" height="4.18" fill="url(#hr32)"/>
<rect x="306.9" y="533.65" width="146.00" height="4.18" fill="url(#hr33)"/>
<rect x="306.9" y="537.53" width="146.00" height="4.18" fill="url(#hr34)"/>
<rect x="306.9" y="541.41" width="146.00" height="4.18" fill="url(#hr35)"/>
<rect x="306.9" y="545.29" width="146.00" height="4.18" fill="url(#hr36)"/>
<rect x="306.9" y="549.17" width="146.00" height="4.18" fill="url(#hr37)"/>
<rect x="306.9" y="553.05" width="146.00" height="4.18" fill="url(#hr38)"/>
<rect x="306.9" y="556.93" width="146.00" height="4.18" fill="url(#hr39)"/>
<rect x="306.9" y="560.81" width="146.00" height="4.18" fill="url(#hr40)"/>
<rect x="306.9" y="564.69" width="146.00" height="4.18" fill="url(#hr41)"/>
<rect x="306.9" y="568.57" width="146.00" height="4.18" fill="url(#hr42)"/>
<rect x="306.9" y="572.45" width="146.00" height="4.18" fill="url(#hr43)"/>
<rect x="306.9" y="576.33" width="146.00" height="4.18" fill="url(#hr44)"/>
<rect x="306.9" y="580.21" width="146.00" height="4.18" fill="url(#hr45)"/>
<rect x="306.9" y="584.09" width="146.00" height="4.18" fill="url(#hr46)"/>
<rect x="306.9" y="587.97" width="146.00" height="4.18" fill="url(#hr47)"/>
<rect x="306.9" y="591.85" width="146.00" height="4.18" fill="url(#hr48)"/>
<rect x="306.9" y="595.73" width="146.00" height="4.18" fill="url(#hr49)"/>
<rect x="306.9" y="599.62" width="146.00" height="4.18" fill="url(#hr50)"/>
<rect x="306.9" y="603.50" width="146.00" height="4.18" fill="url(#hr51)"/>
<rect x="306.9" y="607.38" width="146.00" height="4.18" fill="url(#hr52)"/>
<rect x="306.9" y="611.26" width="146.00" height="4.18" fill="url(#hr53)"/>
<rect x="306.9" y="615.14" width="146.00" height="4.18" fill="url(#hr54)"/>
<rect x="306.9" y="619.02" width="146.00" height="4.18" fill="url(#hr55)"/>
<rect x="306.9" y="622.90" width="146.00" height="4.18" fill="url(#hr56)"/>
<rect x="306.9" y="626.78" width="146.00" height="4.18" fill="url(#hr57)"/>
<rect x="306.9" y="630.66" width="146.00" height="4.18" fill="url(#hr58)"/>
<rect x="306.9" y="634.54" width="146.00" height="4.18" fill="url(#hr59)"/>
<rect x="306.9" y="638.42" width="146.00" height="4.18" fill="url(#hr60)"/>
<rect x="306.9" y="642.30" width="146.00" height="4.18" fill="url(#hr61)"/>
<rect x="306.9" y="646.18" width="146.00" height="4.18" fill="url(#hr62)"/>
<rect x="306.9" y="650.06" width="146.00" height="4.18" fill="url(#hr63)"/>
<rect x="306.9" y="653.94" width="146.00" height="4.18" fill="url(#hr64)"/>
<rect x="306.9" y="657.82" width="146.00" height="4.18" fill="url(#hr65)"/>
</g>
<line x1="344.90" y1="405.60" x2="344.90" y2="661.70" stroke="#1b2a44" stroke-width="1.0" />
<line x1="371.20" y1="405.60" x2="371.20" y2="661.70" stroke="#1b2a44" stroke-width="1.0" />
<line x1="306.90" y1="667.50" x2="450.50" y2="667.50" stroke="#111" stroke-width="1.1" />
<path d="M453.2 667.5 L448.6 665.5 L448.6 669.5Z" fill="#111"/>
<text x="380.00" y="675.80" font-size="6.6" text-anchor="middle" font-weight="normal" fill="#231f20" >Pseudotime</text>
<g transform="scale(0.25)" text-rendering="geometricPrecision">
<text x="1820.0" y="1636.4" font-size="17.2" fill="#4a4a4a">Epx8</text>
<text x="1820.0" y="1651.9" font-size="17.2" fill="#4a4a4a">Nrv</text>
<text x="1820.0" y="1667.4" font-size="17.2" fill="#4a4a4a">Lyl1</text>
<text x="1820.0" y="1682.9" font-size="17.2" fill="#4a4a4a">Mecom</text>
<text x="1820.0" y="1698.4" font-size="17.2" fill="#4a4a4a">Hlf</text>
<text x="1820.0" y="1714.0" font-size="17.2" fill="#4a4a4a">Cd3r</text>
<text x="1820.0" y="1729.5" font-size="17.2" fill="#4a4a4a">Rabgp1</text>
<text x="1820.0" y="1745.0" font-size="17.2" fill="#4a4a4a">Aldh1</text>
<text x="1820.0" y="1760.5" font-size="17.2" fill="#4a4a4a">Ablg3</text>
<text x="1820.0" y="1776.1" font-size="17.2" fill="#4a4a4a">Tcf7</text>
<text x="1820.0" y="1791.6" font-size="17.2" fill="#4a4a4a">Hoxa9</text>
<text x="1820.0" y="1807.1" font-size="17.2" fill="#4a4a4a">Gimap11</text>
<text x="1820.0" y="1822.6" font-size="17.2" fill="#4a4a4a">Kcnk12</text>
<text x="1820.0" y="1838.1" font-size="17.2" fill="#4a4a4a">Gimap6</text>
<text x="1820.0" y="1853.7" font-size="17.2" fill="#4a4a4a">Serpina3g</text>
<text x="1820.0" y="1869.2" font-size="17.2" fill="#4a4a4a">Tfec</text>
<text x="1820.0" y="1884.7" font-size="17.2" fill="#4a4a4a">Arhgap22</text>
<text x="1820.0" y="1900.2" font-size="17.2" fill="#4a4a4a">Camk2a</text>
<text x="1820.0" y="1915.7" font-size="17.2" fill="#4a4a4a">Ltb</text>
<text x="1820.0" y="1931.3" font-size="17.2" fill="#4a4a4a">Rora2</text>
<text x="1820.0" y="1946.8" font-size="17.2" fill="#4a4a4a">Adgrl4</text>
<text x="1820.0" y="1962.3" font-size="17.2" fill="#4a4a4a">Procr2</text>
<text x="1820.0" y="1977.8" font-size="17.2" fill="#4a4a4a">Lyca2</text>
<text x="1820.0" y="1993.3" font-size="17.2" fill="#4a4a4a">Slc22a3</text>
<text x="1820.0" y="2008.9" font-size="17.2" fill="#4a4a4a">Sla3</text>
<text x="1820.0" y="2024.4" font-size="17.2" fill="#4a4a4a">Slc7a8</text>
<text x="1820.0" y="2039.9" font-size="17.2" fill="#4a4a4a">Cpa3</text>
<text x="1820.0" y="2055.4" font-size="17.2" fill="#4a4a4a">Kcg3</text>
<text x="1820.0" y="2071.0" font-size="17.2" fill="#4a4a4a">Itga2b</text>
<text x="1820.0" y="2086.5" font-size="17.2" fill="#4a4a4a">Cd36</text>
<text x="1820.0" y="2102.0" font-size="17.2" fill="#4a4a4a">Cd9</text>
<text x="1820.0" y="2117.5" font-size="17.2" fill="#4a4a4a">Mfsd2b</text>
<text x="1820.0" y="2133.0" font-size="17.2" fill="#4a4a4a">Pcolce</text>
<text x="1820.0" y="2148.6" font-size="17.2" fill="#4a4a4a">Samd14</text>
<text x="1820.0" y="2164.1" font-size="17.2" fill="#4a4a4a">Zfpm1</text>
<text x="1820.0" y="2179.6" font-size="17.2" fill="#4a4a4a">Pklr</text>
<text x="1820.0" y="2195.1" font-size="17.2" fill="#4a4a4a">Lmna</text>
<text x="1820.0" y="2210.6" font-size="17.2" fill="#4a4a4a">Pbx1</text>
<text x="1820.0" y="2226.2" font-size="17.2" fill="#4a4a4a">Gp9</text>
<text x="1820.0" y="2241.7" font-size="17.2" fill="#4a4a4a">Col18a1</text>
<text x="1820.0" y="2257.2" font-size="17.2" fill="#4a4a4a">Itgb3</text>
<text x="1820.0" y="2272.7" font-size="17.2" fill="#4a4a4a">Rgs1</text>
<text x="1820.0" y="2288.3" font-size="17.2" fill="#4a4a4a">Pf4</text>
<text x="1820.0" y="2303.8" font-size="17.2" fill="#4a4a4a">Cx3cr2</text>
<text x="1820.0" y="2319.3" font-size="17.2" fill="#4a4a4a">Fcer1a</text>
<text x="1820.0" y="2334.8" font-size="17.2" fill="#4a4a4a">Gata1</text>
<text x="1820.0" y="2350.3" font-size="17.2" fill="#4a4a4a">Ms4a3</text>
<text x="1820.0" y="2365.9" font-size="17.2" fill="#4a4a4a">Cmgb</text>
<text x="1820.0" y="2381.4" font-size="17.2" fill="#4a4a4a">Fam189b</text>
<text x="1820.0" y="2396.9" font-size="17.2" fill="#4a4a4a">Adgrg3</text>
<text x="1820.0" y="2412.4" font-size="17.2" fill="#4a4a4a">Blvr</text>
<text x="1820.0" y="2427.9" font-size="17.2" fill="#4a4a4a">F2r</text>
<text x="1820.0" y="2443.5" font-size="17.2" fill="#4a4a4a">Lat</text>
<text x="1820.0" y="2459.0" font-size="17.2" fill="#4a4a4a">Ccnb1</text>
<text x="1820.0" y="2474.5" font-size="17.2" fill="#4a4a4a">Zbtb18</text>
<text x="1820.0" y="2490.0" font-size="17.2" fill="#4a4a4a">Ankrd5</text>
<text x="1820.0" y="2505.5" font-size="17.2" fill="#4a4a4a">Fgl3</text>
<text x="1820.0" y="2521.1" font-size="17.2" fill="#4a4a4a">Acss2</text>
<text x="1820.0" y="2536.6" font-size="17.2" fill="#4a4a4a">Hif1</text>
<text x="1820.0" y="2552.1" font-size="17.2" fill="#4a4a4a">Ms4a2</text>
<text x="1820.0" y="2567.6" font-size="17.2" fill="#4a4a4a">Scin</text>
<text x="1820.0" y="2583.2" font-size="17.2" fill="#4a4a4a">Mfsd1</text>
<text x="1820.0" y="2598.7" font-size="17.2" fill="#4a4a4a">Lgals9</text>
<text x="1820.0" y="2614.2" font-size="17.2" fill="#4a4a4a">Gata2</text>
<text x="1820.0" y="2629.7" font-size="17.2" fill="#4a4a4a">Slc18a2</text>
<text x="1820.0" y="2645.2" font-size="17.2" fill="#4a4a4a">Slc4a1</text>
</g>
<defs><linearGradient id="icb" x1="0" x2="0" y1="0" y2="1"><stop offset="0" stop-color="#c43028"/><stop offset="0.08" stop-color="#e25a32"/><stop offset="0.24" stop-color="#f6a054"/><stop offset="0.4" stop-color="#fce084"/><stop offset="0.56" stop-color="#f6f2c4"/><stop offset="0.64" stop-color="#e8f2ee"/><stop offset="0.72" stop-color="#cee0ee"/><stop offset="0.8" stop-color="#8cb6dc"/><stop offset="0.88" stop-color="#588cc6"/><stop offset="1.0" stop-color="#3a6cae"/></linearGradient></defs>
<rect x="483.60" y="428.20" width="5.20" height="78.70" fill="url(#icb)" />
<line x1="488.80" y1="436.10" x2="490.00" y2="436.10" stroke="#fff" stroke-width="0.5" />
<text x="491.20" y="438.30" font-size="6.2" text-anchor="start" font-weight="normal" fill="#231f20" >4</text>
<line x1="488.80" y1="449.00" x2="490.00" y2="449.00" stroke="#fff" stroke-width="0.5" />
<text x="491.20" y="451.20" font-size="6.2" text-anchor="start" font-weight="normal" fill="#231f20" >3</text>
<line x1="488.80" y1="461.70" x2="490.00" y2="461.70" stroke="#fff" stroke-width="0.5" />
<text x="491.20" y="463.90" font-size="6.2" text-anchor="start" font-weight="normal" fill="#231f20" >2</text>
<line x1="488.80" y1="474.00" x2="490.00" y2="474.00" stroke="#fff" stroke-width="0.5" />
<text x="491.20" y="476.20" font-size="6.2" text-anchor="start" font-weight="normal" fill="#231f20" >1</text>
<line x1="488.80" y1="486.90" x2="490.00" y2="486.90" stroke="#fff" stroke-width="0.5" />
<text x="491.20" y="489.10" font-size="6.2" text-anchor="start" font-weight="normal" fill="#231f20" >0</text>
<line x1="488.80" y1="499.60" x2="490.00" y2="499.60" stroke="#fff" stroke-width="0.5" />
<text x="491.20" y="501.80" font-size="6.2" text-anchor="start" font-weight="normal" fill="#231f20" >−1</text>
<text x="483.60" y="516.20" font-size="5.7" text-anchor="start" font-weight="normal" fill="#231f20" textLength="31.5" lengthAdjust="spacingAndGlyphs" >Scaled gene</text>
<text x="483.60" y="522.60" font-size="5.7" text-anchor="start" font-weight="normal" fill="#231f20" textLength="26.0" lengthAdjust="spacingAndGlyphs" >expression</text>
<text x="145.80" y="491.80" font-size="8.1" text-anchor="middle" font-weight="normal" fill="#231f20" textLength="134.0" lengthAdjust="spacingAndGlyphs" >Cluster 1 differential gene expression</text>
<text x="145.50" y="500.60" font-size="8.1" text-anchor="middle" font-weight="normal" fill="#231f20" textLength="104.0" lengthAdjust="spacingAndGlyphs" >(MSigDB Hallmark genesets)</text>
<text x="147.20" y="514.00" font-size="6.3" text-anchor="middle" font-weight="normal" fill="#231f20" textLength="85.0" lengthAdjust="spacingAndGlyphs" >Upregulated at 5% vs 20% O2</text>
<line x1="94.30" y1="516.30" x2="94.30" y2="575.00" stroke="#231f20" stroke-width="0.9" />
<line x1="93.90" y1="574.60" x2="199.50" y2="574.60" stroke="#231f20" stroke-width="0.9" />
<line x1="91.60" y1="521.30" x2="94.30" y2="521.30" stroke="#231f20" stroke-width="0.8" />
<text x="88.20" y="523.40" font-size="6.1" text-anchor="end" font-weight="normal" fill="#231f20" >Interferon Gamma Response</text>
<line x1="91.60" y1="530.65" x2="94.30" y2="530.65" stroke="#231f20" stroke-width="0.8" />
<text x="88.20" y="532.75" font-size="6.1" text-anchor="end" font-weight="normal" fill="#231f20" >Interferon Alpha Response</text>
<line x1="91.60" y1="540.00" x2="94.30" y2="540.00" stroke="#231f20" stroke-width="0.8" />
<text x="88.20" y="542.10" font-size="6.1" text-anchor="end" font-weight="normal" fill="#231f20" >G2-M Checkpoint</text>
<line x1="91.60" y1="549.35" x2="94.30" y2="549.35" stroke="#231f20" stroke-width="0.8" />
<text x="88.20" y="551.45" font-size="6.1" text-anchor="end" font-weight="normal" fill="#231f20" >Cholesterol Homeostasis</text>
<line x1="91.60" y1="558.70" x2="94.30" y2="558.70" stroke="#231f20" stroke-width="0.8" />
<text x="88.20" y="560.80" font-size="6.1" text-anchor="end" font-weight="normal" fill="#231f20" >Mitotic Spindle</text>
<line x1="91.60" y1="568.05" x2="94.30" y2="568.05" stroke="#231f20" stroke-width="0.8" />
<text x="88.20" y="570.15" font-size="6.1" text-anchor="end" font-weight="normal" fill="#231f20" >mTORC1 Signaling</text>
<line x1="103.10" y1="574.60" x2="103.10" y2="577.00" stroke="#231f20" stroke-width="0.7" />
<text x="103.10" y="585.40" font-size="6.1" text-anchor="middle" font-weight="normal" fill="#231f20" >5</text>
<line x1="120.74" y1="574.60" x2="120.74" y2="577.00" stroke="#231f20" stroke-width="0.7" />
<text x="120.74" y="585.40" font-size="6.1" text-anchor="middle" font-weight="normal" fill="#231f20" >10</text>
<line x1="138.38" y1="574.60" x2="138.38" y2="577.00" stroke="#231f20" stroke-width="0.7" />
<text x="138.38" y="585.40" font-size="6.1" text-anchor="middle" font-weight="normal" fill="#231f20" >15</text>
<line x1="156.02" y1="574.60" x2="156.02" y2="577.00" stroke="#231f20" stroke-width="0.7" />
<text x="156.02" y="585.40" font-size="6.1" text-anchor="middle" font-weight="normal" fill="#231f20" >20</text>
<line x1="173.66" y1="574.60" x2="173.66" y2="577.00" stroke="#231f20" stroke-width="0.7" />
<text x="173.66" y="585.40" font-size="6.1" text-anchor="middle" font-weight="normal" fill="#231f20" >25</text>
<line x1="191.30" y1="574.60" x2="191.30" y2="577.00" stroke="#231f20" stroke-width="0.7" />
<text x="191.30" y="585.40" font-size="6.1" text-anchor="middle" font-weight="normal" fill="#231f20" >30</text>
<text x="147.00" y="598.00" font-size="6.6" text-anchor="middle" fill="#231f20">−log<tspan font-size="4.4" dy="1.6">10</tspan><tspan dy="-1.6">(adjusted </tspan><tspan font-style="italic">P</tspan>-value)</text>
<circle cx="194.6" cy="521.2" r="2.1" fill="#26808a"/>
<circle cx="193.0" cy="530.4" r="1.8" fill="#1d1b3c"/>
<circle cx="161.3" cy="540.2" r="2.0" fill="#55a85a"/>
<circle cx="148.8" cy="549.7" r="1.3" fill="#1e9a8a"/>
<circle cx="130.9" cy="558.8" r="1.5" fill="#bcd24a"/>
<circle cx="125.0" cy="568.0" r="1.5" fill="#dedd55"/>
<text x="222.00" y="525.50" font-size="5.6" text-anchor="start" font-weight="normal" fill="#231f20" >Combined</text>
<text x="222.00" y="532.10" font-size="5.6" text-anchor="start" font-weight="normal" fill="#231f20" >Score</text>
<defs><linearGradient id="vir" x1="0" x2="0" y1="0" y2="1"><stop offset="0.000" stop-color="#241c50"/><stop offset="0.111" stop-color="#2e2e68"/><stop offset="0.222" stop-color="#34467e"/><stop offset="0.333" stop-color="#31688e"/><stop offset="0.444" stop-color="#26828e"/><stop offset="0.556" stop-color="#1f9e89"/><stop offset="0.667" stop-color="#35b779"/><stop offset="0.778" stop-color="#6ece58"/><stop offset="0.889" stop-color="#b5de2b"/><stop offset="1.000" stop-color="#f0e442"/></linearGradient></defs>
<rect x="222.40" y="537.40" width="4.30" height="28.20" fill="url(#vir)" />
<text x="229.00" y="539.60" font-size="5.6" text-anchor="start" font-weight="normal" fill="#231f20" >2000</text>
<text x="229.00" y="553.30" font-size="5.6" text-anchor="start" font-weight="normal" fill="#231f20" >1000</text>
<text x="205.20" y="541.90" font-size="5.6" text-anchor="start" font-weight="normal" fill="#231f20" >Hits</text>
<circle cx="206.7" cy="546.4" r="1.9" fill="#243e7a"/>
<text x="210.00" y="548.40" font-size="5.6" text-anchor="start" font-weight="normal" fill="#231f20" >45</text>
<circle cx="206.7" cy="553.0" r="1.4" fill="#243e7a"/>
<text x="210.00" y="555.00" font-size="5.6" text-anchor="start" font-weight="normal" fill="#231f20" >27</text>
<circle cx="206.7" cy="559.5" r="0.9" fill="#243e7a"/>
<text x="210.00" y="561.50" font-size="5.6" text-anchor="start" font-weight="normal" fill="#231f20" >15</text>
<text x="147.50" y="615.80" font-size="6.3" text-anchor="middle" font-weight="normal" fill="#231f20" textLength="81.0" lengthAdjust="spacingAndGlyphs" >Upregulated at 5% vs 1% O2</text>
<line x1="95.00" y1="618.70" x2="95.00" y2="643.90" stroke="#231f20" stroke-width="0.9" />
<line x1="94.60" y1="643.50" x2="197.90" y2="643.50" stroke="#231f20" stroke-width="0.9" />
<line x1="92.30" y1="623.70" x2="95.00" y2="623.70" stroke="#231f20" stroke-width="0.8" />
<text x="88.60" y="625.80" font-size="6.1" text-anchor="end" font-weight="normal" fill="#231f20" >Interferon Gamma Response</text>
<line x1="92.30" y1="633.70" x2="95.00" y2="633.70" stroke="#231f20" stroke-width="0.8" />
<text x="88.60" y="635.80" font-size="6.1" text-anchor="end" font-weight="normal" fill="#231f20" >Interferon Alpha Response</text>
<line x1="120.00" y1="643.50" x2="120.00" y2="645.90" stroke="#231f20" stroke-width="0.7" />
<text x="120.00" y="654.40" font-size="6.1" text-anchor="middle" font-weight="normal" fill="#231f20" >5.2</text>
<line x1="138.80" y1="643.50" x2="138.80" y2="645.90" stroke="#231f20" stroke-width="0.7" />
<text x="138.80" y="654.40" font-size="6.1" text-anchor="middle" font-weight="normal" fill="#231f20" >5.4</text>
<line x1="157.60" y1="643.50" x2="157.60" y2="645.90" stroke="#231f20" stroke-width="0.7" />
<text x="157.60" y="654.40" font-size="6.1" text-anchor="middle" font-weight="normal" fill="#231f20" >5.6</text>
<line x1="176.40" y1="643.50" x2="176.40" y2="645.90" stroke="#231f20" stroke-width="0.7" />
<text x="176.40" y="654.40" font-size="6.1" text-anchor="middle" font-weight="normal" fill="#231f20" >5.8</text>
<text x="147.00" y="665.80" font-size="6.6" text-anchor="middle" fill="#231f20">−log<tspan font-size="4.4" dy="1.6">10</tspan><tspan dy="-1.6">(adjusted </tspan><tspan font-style="italic">P</tspan>-value)</text>
<circle cx="194.6" cy="623.5" r="2.0" fill="#f2e640"/>
<circle cx="99.8" cy="633.7" r="0.8" fill="#111"/>
<text x="222.50" y="606.80" font-size="5.6" text-anchor="start" font-weight="normal" fill="#231f20" >Combined</text>
<text x="222.50" y="613.30" font-size="5.6" text-anchor="start" font-weight="normal" fill="#231f20" >Score</text>
<rect x="223.30" y="619.40" width="4.20" height="29.00" fill="url(#vir)" />
<text x="230.00" y="621.60" font-size="5.6" text-anchor="start" font-weight="normal" fill="#231f20" >450</text>
<text x="230.00" y="632.00" font-size="5.6" text-anchor="start" font-weight="normal" fill="#231f20" >425</text>
<text x="230.00" y="641.20" font-size="5.6" text-anchor="start" font-weight="normal" fill="#231f20" >400</text>
<text x="205.20" y="625.50" font-size="5.6" text-anchor="start" font-weight="normal" fill="#231f20" >Hits</text>
<circle cx="206.7" cy="629.4" r="0.8" fill="#243e7a"/>
<text x="210.00" y="631.40" font-size="5.6" text-anchor="start" font-weight="normal" fill="#231f20" >5</text>
<circle cx="206.7" cy="637.6" r="1.8" fill="#243e7a"/>
<text x="210.00" y="639.60" font-size="5.6" text-anchor="start" font-weight="normal" fill="#231f20" >7</text>
</svg></div>
<div id="frame"></div>
</body></html>
